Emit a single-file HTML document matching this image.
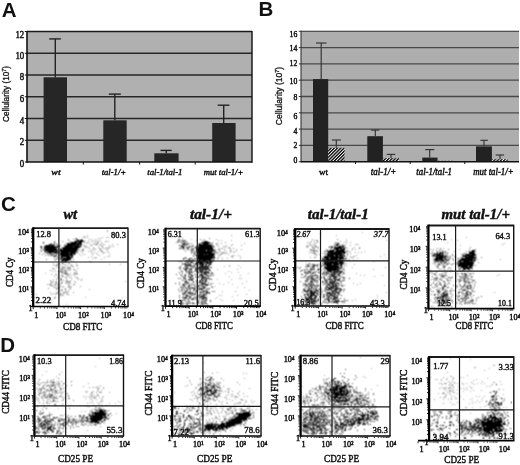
<!DOCTYPE html><html><head><meta charset="utf-8"><style>html,body{margin:0;padding:0;background:#fff;overflow:hidden}svg{display:block;will-change:transform}text{fill:#111}.s{stroke:#111;stroke-width:.45px}.b{stroke:#111;stroke-width:.3px}</style></head><body><svg width="520" height="465" viewBox="0 0 520 465"><defs><filter id="gb" x="0" y="0" width="100%" height="100%" color-interpolation-filters="sRGB"><feConvolveMatrix order="3" kernelMatrix="1 2 1 2 4 2 1 2 1" divisor="16" edgeMode="duplicate"/></filter></defs><rect width="520" height="465" fill="#fff"/><text x="1.7" y="16.8" font-family='"Liberation Sans", sans-serif' font-size="20.5" font-weight="bold">A</text>
<text x="258.6" y="16.2" font-family='"Liberation Sans", sans-serif' font-size="20.5" font-weight="bold">B</text>
<text x="1.0" y="211.2" font-family='"Liberation Sans", sans-serif' font-size="20.5" font-weight="bold">C</text>
<text x="0.2" y="352.4" font-family='"Liberation Sans", sans-serif' font-size="20.5" font-weight="bold">D</text>
<defs><pattern id="hatch" width="2.3" height="2.3" patternUnits="userSpaceOnUse" patternTransform="rotate(45)"><rect width="2.3" height="2.3" fill="#fff"/><rect width="1.35" height="2.3" fill="#000"/></pattern><filter id="bl" x="-5%" y="-5%" width="110%" height="110%"><feGaussianBlur stdDeviation="0.45"/></filter><filter id="bl2" x="-20%" y="-20%" width="140%" height="140%"><feGaussianBlur stdDeviation="1.5"/></filter></defs>
<rect x="27" y="31.5" width="225" height="130.5" fill="#b0b0b0"/>
<line x1="27" y1="140.25" x2="252" y2="140.25" stroke="#262626" stroke-width="1.5"/>
<line x1="27" y1="118.50" x2="252" y2="118.50" stroke="#262626" stroke-width="1.5"/>
<line x1="27" y1="96.75" x2="252" y2="96.75" stroke="#262626" stroke-width="1.5"/>
<line x1="27" y1="75.00" x2="252" y2="75.00" stroke="#262626" stroke-width="1.5"/>
<line x1="27" y1="53.25" x2="252" y2="53.25" stroke="#262626" stroke-width="1.5"/>
<rect x="43.6" y="77.3" width="23.40" height="84.70" fill="#262626"/>
<rect x="103.3" y="120.3" width="23.40" height="41.70" fill="#262626"/>
<rect x="154.3" y="153.3" width="24.30" height="8.70" fill="#262626"/>
<rect x="212.2" y="123" width="23.40" height="39.00" fill="#262626"/>
<line x1="55.3" y1="38.9" x2="55.3" y2="77.3" stroke="#222" stroke-width="1.4"/>
<line x1="49.2" y1="38.9" x2="60.8" y2="38.9" stroke="#222" stroke-width="1.4"/>
<line x1="114.8" y1="94.1" x2="114.8" y2="120.3" stroke="#222" stroke-width="1.4"/>
<line x1="108.8" y1="94.1" x2="120.8" y2="94.1" stroke="#222" stroke-width="1.4"/>
<line x1="166.3" y1="150.4" x2="166.3" y2="153.3" stroke="#222" stroke-width="1.4"/>
<line x1="160.5" y1="150.4" x2="171.7" y2="150.4" stroke="#222" stroke-width="1.4"/>
<line x1="223.7" y1="105.2" x2="223.7" y2="123" stroke="#222" stroke-width="1.4"/>
<line x1="217.7" y1="105.2" x2="229.4" y2="105.2" stroke="#222" stroke-width="1.4"/>
<line x1="27" y1="31.5" x2="252" y2="31.5" stroke="#1a1a1a" stroke-width="1.6"/>
<line x1="27" y1="31.0" x2="27" y2="162.8" stroke="#111" stroke-width="1.6"/>
<line x1="27" y1="162" x2="252" y2="162" stroke="#111" stroke-width="1.6"/>
<path d="M24.8 162.00h2.2M24.8 140.25h2.2M24.8 118.50h2.2M24.8 96.75h2.2M24.8 75.00h2.2M24.8 53.25h2.2M24.8 31.50h2.2" stroke="#111" stroke-width="1"/>
<line x1="252" y1="31" x2="252" y2="162.8" stroke="#111" stroke-width="1.4"/>
<line x1="83.3" y1="162" x2="83.3" y2="164.5" stroke="#111" stroke-width="1"/>
<line x1="139.6" y1="162" x2="139.6" y2="164.5" stroke="#111" stroke-width="1"/>
<line x1="195.2" y1="162" x2="195.2" y2="164.5" stroke="#111" stroke-width="1"/>
<text transform="translate(24.2,37.8) scale(0.93,1)" font-family='"Liberation Serif", serif' font-size="9.5" text-anchor="end" class="s">12</text>
<text transform="translate(24.2,58.8) scale(0.93,1)" font-family='"Liberation Serif", serif' font-size="9.5" text-anchor="end" class="s">10</text>
<text transform="translate(24.2,80.3) scale(0.93,1)" font-family='"Liberation Serif", serif' font-size="9.5" text-anchor="end" class="s">8</text>
<text transform="translate(24.2,101.8) scale(0.93,1)" font-family='"Liberation Serif", serif' font-size="9.5" text-anchor="end" class="s">6</text>
<text transform="translate(24.2,123.8) scale(0.93,1)" font-family='"Liberation Serif", serif' font-size="9.5" text-anchor="end" class="s">4</text>
<text transform="translate(24.2,145.3) scale(0.93,1)" font-family='"Liberation Serif", serif' font-size="9.5" text-anchor="end" class="s">2</text>
<text transform="translate(24.2,166.8) scale(0.93,1)" font-family='"Liberation Serif", serif' font-size="9.5" text-anchor="end" class="s">0</text>
<text transform="translate(8.6,94) rotate(-90)" class="b" font-family='"Liberation Sans", sans-serif' font-size="8.6" text-anchor="middle" textLength="56" lengthAdjust="spacingAndGlyphs" fill="#111">Cellularity (10<tspan font-size="5.5" dy="-3">7</tspan><tspan dy="3">)</tspan></text>
<text x="56.0" y="174.8" font-family='"Liberation Serif", serif' font-size="9" font-style="italic" text-anchor="middle" textLength="9.3" lengthAdjust="spacingAndGlyphs" class="s">wt</text>
<text x="113.9" y="174.8" font-family='"Liberation Serif", serif' font-size="9" font-style="italic" text-anchor="middle" textLength="24.5" lengthAdjust="spacingAndGlyphs" class="s">tal-1/+</text>
<text x="164.9" y="174.8" font-family='"Liberation Serif", serif' font-size="9" font-style="italic" text-anchor="middle" textLength="35.1" lengthAdjust="spacingAndGlyphs" class="s">tal-1/tal-1</text>
<text x="223.5" y="174.8" font-family='"Liberation Serif", serif' font-size="9" font-style="italic" text-anchor="middle" textLength="39.7" lengthAdjust="spacingAndGlyphs" class="s">mut tal-1/+</text>
<rect x="301" y="31.3" width="218" height="130.39999999999998" fill="#aeaeae"/>
<line x1="301" y1="145.40" x2="519" y2="145.40" stroke="#484848" stroke-width="1.3"/>
<line x1="301" y1="129.10" x2="519" y2="129.10" stroke="#484848" stroke-width="1.3"/>
<line x1="301" y1="112.80" x2="519" y2="112.80" stroke="#484848" stroke-width="1.3"/>
<line x1="301" y1="96.50" x2="519" y2="96.50" stroke="#484848" stroke-width="1.3"/>
<line x1="301" y1="80.20" x2="519" y2="80.20" stroke="#484848" stroke-width="1.3"/>
<line x1="301" y1="63.90" x2="519" y2="63.90" stroke="#484848" stroke-width="1.3"/>
<line x1="301" y1="47.60" x2="519" y2="47.60" stroke="#484848" stroke-width="1.3"/>
<rect x="313" y="79.1" width="15.20" height="82.60" fill="#222"/>
<rect x="328.2" y="147.8" width="16.30" height="13.90" fill="url(#hatch)"/>
<rect x="367.3" y="136.2" width="15.60" height="25.50" fill="#222"/>
<rect x="382.9" y="158.2" width="16.10" height="3.50" fill="url(#hatch)"/>
<rect x="422.3" y="157.6" width="15.20" height="4.10" fill="#222"/>
<rect x="437.5" y="160.8" width="15.20" height="0.90" fill="url(#hatch)"/>
<rect x="476" y="146.4" width="15.90" height="15.30" fill="#222"/>
<rect x="491.9" y="159.3" width="15.80" height="2.40" fill="url(#hatch)"/>
<line x1="321.2" y1="43" x2="321.2" y2="79.1" stroke="#333" stroke-width="1.15"/>
<line x1="316" y1="43" x2="326.5" y2="43" stroke="#333" stroke-width="1.15"/>
<line x1="336.3" y1="140" x2="336.3" y2="147.8" stroke="#333" stroke-width="1.15"/>
<line x1="331.9" y1="140" x2="340.9" y2="140" stroke="#333" stroke-width="1.15"/>
<line x1="375.3" y1="130.1" x2="375.3" y2="136.2" stroke="#333" stroke-width="1.15"/>
<line x1="370.9" y1="130.1" x2="379.3" y2="130.1" stroke="#333" stroke-width="1.15"/>
<line x1="391" y1="154.4" x2="391" y2="158.2" stroke="#333" stroke-width="1.15"/>
<line x1="386.7" y1="154.4" x2="395.2" y2="154.4" stroke="#333" stroke-width="1.15"/>
<line x1="429.7" y1="149.6" x2="429.7" y2="157.6" stroke="#333" stroke-width="1.15"/>
<line x1="425.2" y1="149.6" x2="434.3" y2="149.6" stroke="#333" stroke-width="1.15"/>
<line x1="484" y1="140.3" x2="484" y2="146.4" stroke="#333" stroke-width="1.15"/>
<line x1="480.4" y1="140.3" x2="487.8" y2="140.3" stroke="#333" stroke-width="1.15"/>
<line x1="500" y1="155" x2="500" y2="159.3" stroke="#333" stroke-width="1.15"/>
<line x1="495.7" y1="155" x2="504.1" y2="155" stroke="#333" stroke-width="1.15"/>
<line x1="301" y1="31.3" x2="519" y2="31.3" stroke="#2a2a2a" stroke-width="1.1"/>
<line x1="301" y1="30.8" x2="301" y2="162.5" stroke="#333" stroke-width="1.1"/>
<line x1="301" y1="161.7" x2="519" y2="161.7" stroke="#111" stroke-width="1.5"/>
<path d="M298.8 161.70h2.2M298.8 145.40h2.2M298.8 129.10h2.2M298.8 112.80h2.2M298.8 96.50h2.2M298.8 80.20h2.2M298.8 63.90h2.2M298.8 47.60h2.2M298.8 31.30h2.2" stroke="#333" stroke-width="1"/>
<line x1="355.5" y1="161.7" x2="355.5" y2="164" stroke="#111" stroke-width="1"/>
<line x1="410.2" y1="161.7" x2="410.2" y2="164" stroke="#111" stroke-width="1"/>
<line x1="464.8" y1="161.7" x2="464.8" y2="164" stroke="#111" stroke-width="1"/>
<text transform="translate(297.3,36.8) scale(0.92,1)" font-family='"Liberation Serif", serif' font-size="8.4" text-anchor="end" class="s">16</text>
<text transform="translate(297.3,50.6) scale(0.92,1)" font-family='"Liberation Serif", serif' font-size="8.4" text-anchor="end" class="s">14</text>
<text transform="translate(297.3,66.1) scale(0.92,1)" font-family='"Liberation Serif", serif' font-size="8.4" text-anchor="end" class="s">12</text>
<text transform="translate(297.3,84.2) scale(0.92,1)" font-family='"Liberation Serif", serif' font-size="8.4" text-anchor="end" class="s">10</text>
<text transform="translate(297.3,100.4) scale(0.92,1)" font-family='"Liberation Serif", serif' font-size="8.4" text-anchor="end" class="s">8</text>
<text transform="translate(297.3,118.5) scale(0.92,1)" font-family='"Liberation Serif", serif' font-size="8.4" text-anchor="end" class="s">6</text>
<text transform="translate(297.3,133.5) scale(0.92,1)" font-family='"Liberation Serif", serif' font-size="8.4" text-anchor="end" class="s">4</text>
<text transform="translate(297.3,148.1) scale(0.92,1)" font-family='"Liberation Serif", serif' font-size="8.4" text-anchor="end" class="s">2</text>
<text transform="translate(297.3,162.8) scale(0.92,1)" font-family='"Liberation Serif", serif' font-size="8.4" text-anchor="end" class="s">0</text>
<text transform="translate(282.2,96) rotate(-90)" class="b" font-family='"Liberation Sans", sans-serif' font-size="8.3" text-anchor="middle" textLength="58.5" lengthAdjust="spacingAndGlyphs" fill="#111">Cellularity (10<tspan font-size="5.3" dy="-3">7</tspan><tspan dy="3">)</tspan></text>
<text x="323.5" y="175" font-family='"Liberation Serif", serif' font-size="9" text-anchor="middle" textLength="9" lengthAdjust="spacingAndGlyphs" class="s">wt</text>
<text x="383.55" y="175" font-family='"Liberation Serif", serif' font-size="9.3" font-style="italic" text-anchor="middle" textLength="25.4" lengthAdjust="spacingAndGlyphs" class="s">tal-1/+</text>
<text x="434.15" y="175" font-family='"Liberation Serif", serif' font-size="9.3" font-style="italic" text-anchor="middle" textLength="35.6" lengthAdjust="spacingAndGlyphs" class="s">tal-1/tal-1</text>
<text x="493.45" y="175" font-family='"Liberation Serif", serif' font-size="9.3" font-style="italic" text-anchor="middle" textLength="40.4" lengthAdjust="spacingAndGlyphs" class="s">mut tal-1/+</text>
<rect x="33.2" y="228.2" width="94.80" height="78.30" fill="#fff"/>
<rect x="165.5" y="228.7" width="94.70" height="77.50" fill="#fff"/>
<rect x="295.2" y="229" width="93.80" height="77.00" fill="#fff"/>
<rect x="428.4" y="225.5" width="85.30" height="83.20" fill="#fff"/>
<rect x="34.4" y="355.1" width="89.10" height="80.90" fill="#fff"/>
<rect x="172.1" y="355.6" width="88.90" height="80.40" fill="#fff"/>
<rect x="300.6" y="355.6" width="89.40" height="80.40" fill="#fff"/>
<rect x="429.1" y="357" width="84.70" height="83.70" fill="#fff"/>
<g filter="url(#gb)">
<path d="M85 230.5h1m21 1h1m-62 4h1m0 3h1m20 2h1m9 1h1m16 3h1m0 0h1m-51 1h1m33 1h1m-41 4h1m12 4h1m27 1h1m9 6h1m17 3h1m10 0h1m-76 9h1m35 7h1m43 1h1m-37 8h1m-54 5h1m22 3h1m25 0h1m36 0h1m-57 7h1" stroke="#000" stroke-opacity="0.35" stroke-width="1" fill="none"/>
<path d="M87 235.5h1m-3 2h1m1 0h1m14 0h1m3 0h1m1 0h1m-11 1h1m1 0h1m-24 1h1m11 0h1m1 0h1m3 0h1m-13 1h1m9 0h1m3 0h1m2 0h1m-22 1h1m8 0h1m2 0h1m3 0h1m2 0h1m6 0h1m0 0h1m1 0h1m-22 1h1m5 0h1m1 0h1m1 0h1m0 0h1m2 0h1m-16 1h1m2 0h1m7 0h1m4 0h1m-11 1h1m1 0h1m1 0h1m0 0h1m2 0h1m3 0h1m7 0h1m4 0h1m-35 1h1m0 0h1m5 0h1m0 0h1m7 0h1m1 0h1m0 0h1m6 0h1m-25 1h1m0 0h1m15 0h1m8 0h1m1 0h1m-30 1h1m1 0h1m1 0h1m4 0h1m4 0h1m3 0h1m3 0h1m1 0h1m0 0h1m-35 1h1m13 0h1m4 0h1m4 0h1m0 0h1m2 0h1m1 0h1m2 0h1m-27 1h1m0 0h1m8 0h1m0 0h1m1 0h1m4 0h1m5 0h1m0 0h1m-26 1h1m0 0h1m6 0h1m9 0h1m0 0h1m-22 1h1m1 0h1m5 0h1m2 0h1m2 0h1m3 0h1m2 0h1m0 0h1m4 0h1m-17 1h1m10 0h1m1 0h1m3 0h1m-27 1h1m10 0h1m2 0h1m6 0h1m-25 1h1m4 0h1m7 0h1m4 0h1m11 0h1m-11 1h1m-9 1h1m15 0h1m1 0h1m-22 1h1m5 0h1m1 0h1m7 0h1m-13 1h1m2 0h1m5 1h1m-13 2h1" stroke="#000" stroke-opacity="0.4" stroke-width="1" fill="none"/>
<path d="M60 259.5h1m8 0h1m-7 1h1m6 0h1m-12 2h1m8 0h1m-16 1h1m3 0h1m10 0h1m0 0h1m6 0h1m-20 1h1m1 0h1m5 0h1m-13 1h1m1 0h1m0 0h1m0 0h1m2 0h1m3 0h1m2 0h1m3 0h1m4 0h1m0 0h1m-20 1h1m3 0h1m7 0h1m1 0h1m0 0h1m-18 1h1m2 0h1m2 0h1m0 0h1m0 0h1m0 0h1m1 0h1m0 0h1m0 0h1m-18 1h1m0 0h1m6 0h1m0 0h1m1 0h1m3 0h1m1 0h1m0 0h1m6 0h1m-24 1h1m6 0h1m0 0h1m0 0h1m1 0h1m2 0h1m0 0h1m3 0h1m0 0h1m-25 1h1m9 0h1m0 0h1m2 0h1m0 0h1m1 0h1m2 0h1m4 0h1m-24 1h1m2 0h1m2 0h1m0 0h1m0 0h1m0 0h1m0 0h1m0 0h1m1 0h1m0 0h1m9 0h1m-19 1h1m2 0h1m0 0h1m1 0h1m0 0h1m0 0h1m7 0h1m-14 1h1m1 0h1m0 0h1m0 0h1m0 0h1m0 0h1m2 0h1m3 0h1m0 0h1m0 0h1m0 0h1m-27 1h1m3 0h1m0 0h1m1 0h1m6 0h1m0 0h1m0 0h1m0 0h1m4 0h1m2 0h1m-16 1h1m0 0h1m5 0h1m1 0h1m3 0h1m-21 1h1m2 0h1m1 0h1m2 0h1m0 0h1m3 0h1m-10 1h1m6 0h1m0 0h1m2 0h1m1 0h1m3 0h1m1 0h1m-21 1h1m2 0h1m0 0h1m15 0h1m-25 1h1m2 0h1m3 0h1m0 0h1m4 0h1m4 0h1m6 0h1m2 0h1m-32 1h1m9 0h1m0 0h1m1 0h1m2 0h1m-16 1h1m1 0h1m2 0h1m9 0h1m0 0h1m0 0h1m0 0h1m0 0h1m3 0h1m-25 1h1m1 0h1m2 0h1m0 0h1m2 0h1m1 0h1m0 0h1m2 0h1m1 0h1m1 0h1m5 0h1m-25 1h1m4 0h1m1 0h1m2 0h1m4 0h1m1 0h1m1 0h1m-24 1h1m1 0h1m0 0h1m3 0h1m0 0h1m1 0h1m0 0h1m1 0h1m7 0h1m4 0h1m0 0h1m-25 1h1m0 0h1m0 0h1m2 0h1m3 0h1m9 0h1m-17 1h1m3 0h1m0 0h1m1 0h1m1 0h1m5 0h1m0 0h1m1 0h1m8 0h1m-27 1h1m0 0h1m2 0h1m0 0h1m3 0h1m4 0h1m1 0h1m-23 1h1m7 0h1m0 0h1m0 0h1m0 0h1m5 0h1m4 0h1m-15 1h1m4 0h1m3 0h1m3 0h1m-12 1h1m0 0h1m1 0h1m0 0h1m2 0h1m-8 1h1m7 0h1m1 0h1m-19 1h1m5 0h1m1 0h1m1 0h1m2 0h1m0 0h1m0 0h1m1 0h1m5 0h1m-21 1h1m2 0h1m0 0h1m2 0h1m2 0h1m2 0h1m-16 1h1m3 0h1m3 0h1m0 0h1m1 0h1m4 0h1m0 0h1m-9 1h1m0 0h1m1 0h1m-10 2h1m0 0h1m-2 1h1m-4 2h1m-1 3h1" stroke="#000" stroke-opacity="0.45" stroke-width="1" fill="none"/>
<path d="M84 236.5h1m-2 1h1m-9 1h1m0 0h1m-9 1h1m4 0h1m4 0h1m-4 1h1m1 0h1m0 0h1m0 0h1m-18 1h1m7 0h1m3 0h1m1 0h1m3 0h1m2 0h1m0 0h1m-16 1h1m1 0h1m0 0h1m4 0h1m0 0h1m2 0h1m2 0h1m-20 1h1m3 0h1m2 0h1m1 0h1m1 0h1m0 0h1m0 0h1m2 0h1m-11 1h1m0 0h1m0 0h1m1 0h1m0 0h1m0 0h1m0 0h1m0 0h1m-20 1h1m4 0h1m0 0h1m3 0h1m0 0h1m0 0h1m1 0h1m0 0h1m-19 1h1m9 0h1m1 0h1m1 0h1m1 0h1m0 0h1m1 0h1m1 0h1m0 0h1m1 0h1m-24 1h1m4 0h1m1 0h1m0 0h1m0 0h1m0 0h1m2 0h1m0 0h1m0 0h1m0 0h1m1 0h1m1 0h1m-24 1h1m2 0h1m1 0h1m4 0h1m0 0h1m2 0h1m0 0h1m1 0h1m0 0h1m0 0h1m1 0h1m0 0h1m-19 1h1m2 0h1m1 0h1m1 0h1m0 0h1m0 0h1m0 0h1m0 0h1m1 0h1m0 0h1m0 0h1m0 0h1m3 0h1m2 0h1m-31 1h1m2 0h1m0 0h1m2 0h1m0 0h1m0 0h1m2 0h1m0 0h1m0 0h1m2 0h1m0 0h1m0 0h1m0 0h1m0 0h1m4 0h1m-23 1h1m0 0h1m3 0h1m1 0h1m0 0h1m0 0h1m0 0h1m1 0h1m0 0h1m1 0h1m2 0h1m1 0h1m-21 1h1m0 0h1m2 0h1m3 0h1m0 0h1m0 0h1m2 0h1m0 0h1m1 0h1m0 0h1m0 0h1m0 0h1m-21 1h1m0 0h1m0 0h1m2 0h1m0 0h1m0 0h1m0 0h1m0 0h1m0 0h1m0 0h1m0 0h1m1 0h1m0 0h1m0 0h1m2 0h1m-19 1h1m0 0h1m0 0h1m0 0h1m0 0h1m0 0h1m0 0h1m2 0h1m0 0h1m0 0h1m0 0h1m0 0h1m1 0h1m-17 1h1m0 0h1m2 0h1m0 0h1m2 0h1m1 0h1m0 0h1m0 0h1m0 0h1m0 0h1m3 0h1m-20 1h1m0 0h1m0 0h1m3 0h1m0 0h1m2 0h1m0 0h1m0 0h1m0 0h1m0 0h1m0 0h1m2 0h1m-16 1h1m0 0h1m0 0h1m2 0h1m1 0h1m4 0h1m1 0h1m-16 1h1m1 0h1m3 0h1m1 0h1m0 0h1m0 0h1m0 0h1m0 0h1m0 0h1m-16 1h1m1 0h1m1 0h1m3 0h1m2 0h1m0 0h1m3 0h1m2 0h1m-19 1h1m7 0h1m0 0h1m1 0h1m-6 1h1m1 0h1m0 0h1m6 0h1m1 0h1m-13 1h1m3 0h1m-7 1h1m3 0h1m7 1h1" stroke="#000" stroke-opacity="0.5" stroke-width="1" fill="none"/>
<path d="M54 241.5h1m-12 2h1m7 0h1m4 0h1m-7 1h1m2 0h1m2 0h1m-12 1h1m4 0h1m2 0h1m3 0h1m0 0h1m0 0h1m-20 1h1m5 0h1m1 0h1m0 0h1m0 0h1m1 0h1m1 0h1m0 0h1m0 0h1m2 0h1m-15 1h1m1 0h1m0 0h1m0 0h1m0 0h1m0 0h1m0 0h1m0 0h1m1 0h1m5 0h1m-15 1h1m1 0h1m0 0h1m0 0h1m1 0h1m0 0h1m0 0h1m0 0h1m-14 1h1m1 0h1m1 0h1m0 0h1m0 0h1m0 0h1m1 0h1m0 0h1m0 0h1m0 0h1m0 0h1m0 0h1m1 0h1m-19 1h1m2 0h1m0 0h1m1 0h1m0 0h1m0 0h1m0 0h1m0 0h1m0 0h1m0 0h1m0 0h1m0 0h1m0 0h1m0 0h1m0 0h1m0 0h1m3 0h1m-23 1h1m2 0h1m0 0h1m0 0h1m0 0h1m2 0h1m0 0h1m0 0h1m1 0h1m0 0h1m0 0h1m0 0h1m-13 1h1m0 0h1m0 0h1m0 0h1m0 0h1m0 0h1m1 0h1m0 0h1m0 0h1m0 0h1m0 0h1m0 0h1m0 0h1m-20 1h1m4 0h1m2 0h1m1 0h1m0 0h1m0 0h1m0 0h1m1 0h1m0 0h1m-14 1h1m4 0h1m1 0h1m1 0h1m0 0h1m0 0h1m6 0h1m-16 1h1m2 0h1m1 0h1m2 0h1m0 0h1m0 0h1m-3 1h1m4 0h1m-5 1h1m-9 2h1" stroke="#000" stroke-opacity="0.55" stroke-width="1" fill="none"/>
<path d="M76 239.5h1m4 0h1m-5 1h1m0 0h1m1 0h1m0 0h1m0 0h1m-8 1h1m0 0h1m0 0h1m0 0h1m0 0h1m0 0h1m0 0h1m0 0h1m-40 1h1m10 0h1m16 0h1m0 0h1m0 0h1m0 0h1m0 0h1m0 0h1m2 0h1m0 0h1m0 0h1m-15 1h1m0 0h1m1 0h1m0 0h1m0 0h1m0 0h1m0 0h1m0 0h1m0 0h1m0 0h1m0 0h1m0 0h1m0 0h1m-32 1h1m0 0h1m0 0h1m1 0h1m0 0h1m12 0h1m0 0h1m0 0h1m0 0h1m0 0h1m0 0h1m0 0h1m0 0h1m0 0h1m1 0h1m0 0h1m0 0h1m0 0h1m0 0h1m-36 1h1m0 0h1m0 0h1m0 0h1m1 0h1m0 0h1m0 0h1m3 0h1m6 0h1m1 0h1m0 0h1m0 0h1m0 0h1m0 0h1m0 0h1m0 0h1m0 0h1m0 0h1m0 0h1m0 0h1m0 0h1m0 0h1m1 0h1m-40 1h1m2 0h1m0 0h1m0 0h1m0 0h1m0 0h1m0 0h1m0 0h1m0 0h1m0 0h1m0 0h1m0 0h1m0 0h1m2 0h1m6 0h1m0 0h1m0 0h1m0 0h1m0 0h1m0 0h1m0 0h1m0 0h1m1 0h1m0 0h1m0 0h1m0 0h1m0 0h1m0 0h1m0 0h1m-40 1h1m2 0h1m1 0h1m0 0h1m0 0h1m0 0h1m0 0h1m0 0h1m0 0h1m0 0h1m0 0h1m1 0h1m0 0h1m5 0h1m0 0h1m0 0h1m0 0h1m0 0h1m0 0h1m0 0h1m0 0h1m0 0h1m0 0h1m0 0h1m0 0h1m0 0h1m0 0h1m0 0h1m0 0h1m0 0h1m-39 1h1m2 0h1m0 0h1m0 0h1m0 0h1m0 0h1m0 0h1m0 0h1m0 0h1m0 0h1m0 0h1m0 0h1m0 0h1m6 0h1m0 0h1m0 0h1m0 0h1m0 0h1m0 0h1m0 0h1m0 0h1m0 0h1m0 0h1m0 0h1m0 0h1m0 0h1m0 0h1m0 0h1m0 0h1m-35 1h1m1 0h1m0 0h1m0 0h1m0 0h1m0 0h1m0 0h1m0 0h1m0 0h1m0 0h1m0 0h1m0 0h1m0 0h1m3 0h1m0 0h1m1 0h1m0 0h1m0 0h1m0 0h1m0 0h1m0 0h1m0 0h1m0 0h1m0 0h1m0 0h1m0 0h1m0 0h1m0 0h1m0 0h1m0 0h1m-34 1h1m0 0h1m0 0h1m0 0h1m0 0h1m0 0h1m0 0h1m0 0h1m0 0h1m0 0h1m0 0h1m0 0h1m1 0h1m2 0h1m0 0h1m0 0h1m0 0h1m0 0h1m0 0h1m0 0h1m0 0h1m0 0h1m0 0h1m0 0h1m0 0h1m0 0h1m0 0h1m0 0h1m0 0h1m0 0h1m-29 1h1m0 0h1m0 0h1m0 0h1m0 0h1m0 0h1m1 0h1m4 0h1m0 0h1m0 0h1m0 0h1m0 0h1m0 0h1m0 0h1m0 0h1m0 0h1m0 0h1m0 0h1m0 0h1m0 0h1m0 0h1m0 0h1m0 0h1m0 0h1m-30 1h1m1 0h1m0 0h1m0 0h1m1 0h1m0 0h1m0 0h1m0 0h1m0 0h1m0 0h1m0 0h1m1 0h1m0 0h1m0 0h1m0 0h1m0 0h1m0 0h1m0 0h1m0 0h1m1 0h1m0 0h1m0 0h1m0 0h1m0 0h1m2 0h1m-29 1h1m10 0h1m0 0h1m0 0h1m0 0h1m0 0h1m0 0h1m0 0h1m0 0h1m0 0h1m0 0h1m0 0h1m0 0h1m0 0h1m0 0h1m0 0h1m0 0h1m-16 1h1m0 0h1m0 0h1m0 0h1m0 0h1m0 0h1m0 0h1m0 0h1m0 0h1m1 0h1m0 0h1m0 0h1m1 0h1m-24 1h1m9 0h1m0 0h1m0 0h1m0 0h1m0 0h1m0 0h1m0 0h1m0 0h1m0 0h1m0 0h1m0 0h1m0 0h1m-12 1h1m0 0h1m0 0h1m0 0h1m0 0h1m0 0h1m0 0h1m0 0h1m0 0h1m1 0h1m-11 1h1m0 0h1m1 0h1m1 0h1m0 0h1m0 0h1m0 0h1m0 0h1m0 0h1m0 0h1m-13 1h1m0 0h1m1 0h1m0 0h1m0 0h1m0 0h1m0 0h1m0 0h1m0 0h1m0 0h1m-11 1h1m1 0h1m0 0h1m0 0h1m0 0h1m0 0h1m0 0h1m0 0h1m0 0h1m0 0h1m-10 1h1m0 0h1m0 0h1m1 0h1m0 0h1m0 0h1m0 0h1m-7 1h1m1 0h1m0 0h1m0 0h1m-5 2h1" stroke="#000" stroke-opacity="1.0" stroke-width="1" fill="none"/>
<path d="M178 237.5h1m12 2h1m29 1h1m-35 3h1m56 0h1m-47 1h1m31 8h1m-29 4h1m18 1h1m7 8h1m8 0h1m-15 1h1m4 0h1m-52 1h1m61 0h1m-24 2h1m19 0h1m-41 1h1m7 0h1m22 1h1m2 1h1m6 0h1m-26 1h1m11 0h1m22 0h1m-39 2h1m29 0h1m-12 1h1m9 2h1m1 0h1m-25 1h1m13 0h1m14 2h1m-54 1h1m34 0h1m-16 1h1m5 0h1m22 0h1m-20 1h1m8 0h1m-19 2h1m22 1h1m6 0h1m-50 3h1m53 0h1m-28 1h1m12 0h1m10 3h1m-28 1h1m1 0h1m15 0h1m-6 1h1m-54 1h1m37 0h1m-3 1h1m4 1h1m1 1h1m10 0h1" stroke="#000" stroke-opacity="0.35" stroke-width="1" fill="none"/>
<path d="M231 235.5h1m-16 4h1m1 1h1m12 0h1m-7 2h1m-8 1h1m2 0h1m10 1h1m-20 1h1m3 0h1m8 0h1m4 0h1m9 0h1m-35 1h1m10 0h1m4 0h1m1 0h1m-2 1h1m2 0h1m1 0h1m-22 1h1m10 0h1m1 0h1m0 0h1m6 0h1m0 0h1m2 0h1m-24 1h1m8 0h1m4 0h1m11 0h1m4 0h1m-23 1h1m5 0h1m4 0h1m0 0h1m-16 1h1m3 0h1m9 0h1m3 0h1m1 0h1m-23 1h1m2 0h1m1 0h1m2 0h1m0 0h1m0 0h1m1 0h1m6 0h1m-25 1h1m3 0h1m2 0h1m0 0h1m3 0h1m0 0h1m1 0h1m1 0h1m-7 1h1m0 0h1m6 0h1m-11 1h1m0 0h1m12 0h1m1 0h1m3 0h1m-8 1h1m0 0h1m7 0h1m-23 1h1m13 0h1m-20 1h1m3 0h1m9 0h1m12 0h1m-31 1h1m11 0h1" stroke="#000" stroke-opacity="0.4" stroke-width="1" fill="none"/>
<path d="M182 238.5h1m26 0h1m-32 1h1m0 0h1m20 0h1m3 0h1m-27 1h1m0 0h1m1 0h1m0 0h1m0 0h1m0 0h1m0 0h1m10 0h1m5 0h1m-26 1h1m0 0h1m1 0h1m1 0h1m0 0h1m0 0h1m1 0h1m19 0h1m0 0h1m-32 1h1m1 0h1m1 0h1m1 0h1m1 0h1m1 0h1m14 0h1m1 0h1m2 0h1m0 0h1m1 0h1m2 0h1m-29 1h1m0 0h1m1 0h1m0 0h1m2 0h1m14 0h1m0 0h1m0 0h1m1 0h1m1 0h1m3 0h1m-35 1h1m0 0h1m0 0h1m2 0h1m1 0h1m8 0h1m2 0h1m1 0h1m4 0h1m2 0h1m4 0h1m-36 1h1m1 0h1m0 0h1m0 0h1m0 0h1m5 0h1m0 0h1m4 0h1m2 0h1m0 0h1m0 0h1m1 0h1m2 0h1m0 0h1m0 0h1m0 0h1m0 0h1m-25 1h1m0 0h1m0 0h1m0 0h1m0 0h1m5 0h1m0 0h1m1 0h1m4 0h1m1 0h1m0 0h1m0 0h1m0 0h1m1 0h1m-34 1h1m1 0h1m0 0h1m0 0h1m2 0h1m0 0h1m0 0h1m4 0h1m0 0h1m4 0h1m0 0h1m0 0h1m2 0h1m0 0h1m0 0h1m0 0h1m0 0h1m1 0h1m2 0h1m-36 1h1m7 0h1m0 0h1m2 0h1m0 0h1m0 0h1m2 0h1m0 0h1m4 0h1m0 0h1m0 0h1m1 0h1m0 0h1m0 0h1m2 0h1m0 0h1m-30 1h1m1 0h1m1 0h1m0 0h1m2 0h1m0 0h1m0 0h1m2 0h1m0 0h1m0 0h1m2 0h1m1 0h1m0 0h1m2 0h1m1 0h1m0 0h1m1 0h1m0 0h1m1 0h1m2 0h1m-29 1h1m0 0h1m1 0h1m2 0h1m2 0h1m1 0h1m0 0h1m1 0h1m3 0h1m0 0h1m0 0h1m-26 1h1m5 0h1m0 0h1m0 0h1m1 0h1m0 0h1m1 0h1m0 0h1m0 0h1m0 0h1m1 0h1m2 0h1m1 0h1m0 0h1m4 0h1m0 0h1m-25 1h1m2 0h1m1 0h1m0 0h1m3 0h1m0 0h1m0 0h1m1 0h1m0 0h1m0 0h1m1 0h1m3 0h1m1 0h1m-25 1h1m1 0h1m0 0h1m0 0h1m1 0h1m3 0h1m1 0h1m3 0h1m1 0h1m0 0h1m3 0h1m-21 1h1m1 0h1m2 0h1m1 0h1m0 0h1m0 0h1m0 0h1m0 0h1m0 0h1m0 0h1m0 0h1m0 0h1m0 0h1m0 0h1m0 0h1m0 0h1m0 0h1m-22 1h1m1 0h1m0 0h1m1 0h1m0 0h1m0 0h1m0 0h1m0 0h1m0 0h1m1 0h1m3 0h1m1 0h1m0 0h1m1 0h1m-22 1h1m3 0h1m1 0h1m1 0h1m1 0h1m0 0h1m0 0h1m0 0h1m0 0h1m0 0h1m0 0h1m0 0h1m0 0h1m0 0h1m0 0h1m0 0h1m-18 1h1m0 0h1m1 0h1m4 0h1m0 0h1m1 0h1m0 0h1m-16 1h1m0 0h1m3 0h1m0 0h1m0 0h1m1 0h1m1 0h1m0 0h1m1 0h1m1 0h1m1 0h1m1 0h1m2 0h1m-18 1h1m2 0h1m0 0h1m0 0h1m0 0h1m0 0h1m0 0h1m0 0h1m1 0h1m-11 1h1m0 0h1m0 0h1m2 0h1m0 0h1m0 0h1m5 0h1m-16 1h1m1 0h1m0 0h1m1 0h1m0 0h1m0 0h1m0 0h1m3 0h1m-13 1h1m1 0h1m3 0h1m1 0h1m0 0h1m0 0h1m1 0h1m-19 1h1m13 0h1m-10 1h1m3 0h1m0 0h1m7 0h1m-12 1h1m2 0h1m4 0h1m-3 3h1" stroke="#000" stroke-opacity="0.55" stroke-width="1" fill="none"/>
<path d="M185 257.5h1m-3 1h1m0 0h1m1 0h1m2 0h1m0 0h1m0 0h1m-9 1h1m4 0h1m0 0h1m2 0h1m1 0h1m1 0h1m-11 1h1m1 0h1m0 0h1m0 0h1m1 0h1m0 0h1m-15 1h1m1 0h1m3 0h1m0 0h1m1 0h1m1 0h1m0 0h1m0 0h1m-7 1h1m0 0h1m0 0h1m1 0h1m0 0h1m0 0h1m3 0h1m0 0h1m3 0h1m0 0h1m1 0h1m5 0h1m-29 1h1m1 0h1m0 0h1m2 0h1m1 0h1m2 0h1m1 0h1m0 0h1m0 0h1m3 0h1m0 0h1m0 0h1m3 0h1m0 0h1m0 0h1m0 0h1m-29 1h1m1 0h1m0 0h1m0 0h1m0 0h1m0 0h1m0 0h1m0 0h1m4 0h1m1 0h1m2 0h1m4 0h1m0 0h1m2 0h1m0 0h1m-26 1h1m0 0h1m0 0h1m0 0h1m0 0h1m0 0h1m0 0h1m1 0h1m0 0h1m5 0h1m0 0h1m0 0h1m0 0h1m1 0h1m0 0h1m1 0h1m-29 1h1m4 0h1m0 0h1m1 0h1m1 0h1m0 0h1m1 0h1m1 0h1m5 0h1m0 0h1m2 0h1m2 0h1m-29 1h1m3 0h1m1 0h1m0 0h1m4 0h1m0 0h1m1 0h1m2 0h1m0 0h1m0 0h1m0 0h1m0 0h1m0 0h1m4 0h1m-30 1h1m3 0h1m1 0h1m0 0h1m0 0h1m0 0h1m1 0h1m0 0h1m4 0h1m0 0h1m0 0h1m0 0h1m0 0h1m0 0h1m0 0h1m2 0h1m0 0h1m0 0h1m-28 1h1m3 0h1m0 0h1m0 0h1m2 0h1m0 0h1m0 0h1m3 0h1m0 0h1m1 0h1m0 0h1m0 0h1m0 0h1m0 0h1m1 0h1m0 0h1m1 0h1m0 0h1m-24 1h1m0 0h1m2 0h1m1 0h1m3 0h1m0 0h1m3 0h1m0 0h1m0 0h1m0 0h1m1 0h1m3 0h1m-29 1h1m0 0h1m3 0h1m1 0h1m0 0h1m1 0h1m2 0h1m1 0h1m3 0h1m0 0h1m2 0h1m0 0h1m1 0h1m-29 1h1m6 0h1m1 0h1m0 0h1m0 0h1m0 0h1m0 0h1m7 0h1m0 0h1m0 0h1m2 0h1m0 0h1m1 0h1m2 0h1m-30 1h1m6 0h1m8 0h1m2 0h1m1 0h1m0 0h1m0 0h1m0 0h1m1 0h1m0 0h1m-34 1h1m3 0h1m4 0h1m2 0h1m0 0h1m0 0h1m0 0h1m2 0h1m1 0h1m3 0h1m0 0h1m0 0h1m1 0h1m0 0h1m0 0h1m-26 1h1m2 0h1m0 0h1m5 0h1m0 0h1m6 0h1m0 0h1m0 0h1m0 0h1m0 0h1m2 0h1m0 0h1m3 0h1m1 0h1m-32 1h1m2 0h1m2 0h1m0 0h1m1 0h1m0 0h1m2 0h1m2 0h1m2 0h1m0 0h1m0 0h1m1 0h1m2 0h1m-26 1h1m0 0h1m4 0h1m0 0h1m0 0h1m4 0h1m1 0h1m0 0h1m1 0h1m0 0h1m0 0h1m0 0h1m1 0h1m1 0h1m-31 1h1m1 0h1m3 0h1m0 0h1m4 0h1m1 0h1m0 0h1m7 0h1m0 0h1m0 0h1m0 0h1m1 0h1m0 0h1m0 0h1m1 0h1m-28 1h1m1 0h1m2 0h1m0 0h1m0 0h1m0 0h1m0 0h1m8 0h1m0 0h1m1 0h1m0 0h1m0 0h1m2 0h1m1 0h1m-30 1h1m3 0h1m2 0h1m1 0h1m0 0h1m3 0h1m2 0h1m0 0h1m0 0h1m0 0h1m0 0h1m1 0h1m0 0h1m-23 1h1m0 0h1m0 0h1m6 0h1m2 0h1m2 0h1m0 0h1m1 0h1m1 0h1m0 0h1m0 0h1m-28 1h1m5 0h1m0 0h1m0 0h1m0 0h1m4 0h1m3 0h1m1 0h1m0 0h1m0 0h1m0 0h1m0 0h1m1 0h1m2 0h1m-34 1h1m8 0h1m1 0h1m1 0h1m2 0h1m4 0h1m2 0h1m1 0h1m0 0h1m0 0h1m0 0h1m0 0h1m5 0h1m-33 1h1m2 0h1m0 0h1m0 0h1m1 0h1m2 0h1m2 0h1m1 0h1m6 0h1m0 0h1m0 0h1m0 0h1m0 0h1m0 0h1m0 0h1m0 0h1m1 0h1m-28 1h1m0 0h1m3 0h1m0 0h1m1 0h1m2 0h1m2 0h1m0 0h1m0 0h1m0 0h1m1 0h1m2 0h1m0 0h1m0 0h1m-27 1h1m1 0h1m1 0h1m2 0h1m0 0h1m5 0h1m1 0h1m0 0h1m2 0h1m0 0h1m0 0h1m0 0h1m6 0h1m-32 1h1m1 0h1m1 0h1m2 0h1m1 0h1m1 0h1m0 0h1m1 0h1m2 0h1m1 0h1m3 0h1m0 0h1m0 0h1m6 0h1m-31 1h1m2 0h1m0 0h1m1 0h1m0 0h1m0 0h1m1 0h1m0 0h1m0 0h1m0 0h1m1 0h1m1 0h1m0 0h1m0 0h1m0 0h1m0 0h1m0 0h1m2 0h1m1 0h1m-32 1h1m2 0h1m1 0h1m3 0h1m2 0h1m3 0h1m3 0h1m0 0h1m0 0h1m0 0h1m0 0h1m3 0h1m1 0h1m-28 1h1m2 0h1m1 0h1m0 0h1m1 0h1m3 0h1m0 0h1m1 0h1m0 0h1m4 0h1m1 0h1m1 0h1m-28 1h1m2 0h1m2 0h1m0 0h1m3 0h1m5 0h1m0 0h1m2 0h1m1 0h1m0 0h1m0 0h1m0 0h1m0 0h1m0 0h1m4 0h1m1 0h1m-31 1h1m0 0h1m1 0h1m0 0h1m0 0h1m0 0h1m1 0h1m2 0h1m3 0h1m0 0h1m0 0h1m1 0h1m2 0h1m0 0h1m0 0h1m0 0h1m-28 1h1m0 0h1m0 0h1m0 0h1m2 0h1m0 0h1m0 0h1m0 0h1m0 0h1m0 0h1m1 0h1m5 0h1m1 0h1m1 0h1m0 0h1m0 0h1m1 0h1m-27 1h1m2 0h1m3 0h1m1 0h1m1 0h1m0 0h1m3 0h1m0 0h1m2 0h1m0 0h1m0 0h1m-27 1h1m3 0h1m1 0h1m0 0h1m0 0h1m0 0h1m2 0h1m1 0h1m4 0h1m0 0h1m1 0h1m0 0h1m0 0h1m0 0h1m1 0h1m-21 1h1m0 0h1m1 0h1m0 0h1m5 0h1m1 0h1m1 0h1m0 0h1m0 0h1m0 0h1m0 0h1m-26 1h1m2 0h1m0 0h1m0 0h1m0 0h1m0 0h1m2 0h1m0 0h1m3 0h1m0 0h1m1 0h1m1 0h1m0 0h1m0 0h1m0 0h1m0 0h1m0 0h1m0 0h1m0 0h1m-23 1h1m0 0h1m0 0h1m1 0h1m1 0h1m1 0h1m0 0h1m2 0h1m2 0h1m2 0h1m0 0h1m0 0h1m0 0h1m0 0h1m-24 1h1m4 0h1m2 0h1m0 0h1m0 0h1m1 0h1m1 0h1m3 0h1m0 0h1m0 0h1m2 0h1m-28 1h1m0 0h1m0 0h1m0 0h1m1 0h1m0 0h1m2 0h1m8 0h1m1 0h1m4 0h1m0 0h1m0 0h1m3 0h1m-30 1h1m5 0h1m1 0h1m7 0h1m0 0h1m2 0h1m0 0h1m0 0h1m1 0h1m4 0h1m-31 1h1m1 0h1m3 0h1m2 0h1m2 0h1m4 0h1m0 0h1m2 0h1m1 0h1m1 0h1m-24 1h1m1 0h1m2 0h1m0 0h1m1 0h1m1 0h1m0 0h1m0 0h1m2 0h1m0 0h1m2 0h1m0 0h1m1 0h1m0 0h1m0 0h1m-26 1h1m0 0h1m3 0h1m0 0h1m12 0h1m1 0h1m0 0h1m3 0h1" stroke="#000" stroke-opacity="0.75" stroke-width="1" fill="none"/>
<path d="M197 258.5h1m4 0h1m5 1h1m-7 1h1m3 0h1m-4 1h1m2 0h1m-7 1h1m4 0h1m0 0h1m-12 1h1m3 0h1m1 0h1m2 0h1m1 0h1m0 0h1m0 0h1m-13 1h1m2 0h1m0 0h1m0 0h1m0 0h1m0 0h1m2 0h1m2 0h1m-13 1h1m4 0h1m0 0h1m1 0h1m2 0h1m0 0h1m-13 1h1m1 0h1m0 0h1m1 0h1m0 0h1m0 0h1m0 0h1m0 0h1m0 0h1m-10 1h1m0 0h1m1 0h1m0 0h1m0 0h1m0 0h1m0 0h1m0 0h1m0 0h1m0 0h1m1 0h1m0 0h1m-17 1h1m0 0h1m3 0h1m2 0h1m0 0h1m0 0h1m2 0h1m-6 1h1m1 0h1m0 0h1m0 0h1m1 0h1m-11 1h1m2 0h1m7 0h1m-14 1h1m1 0h1m1 0h1m0 0h1m3 0h1m1 0h1m-12 1h1m0 0h1m1 0h1m2 0h1m0 0h1m0 0h1m1 0h1m0 0h1m-5 1h1m6 0h1m0 0h1m-12 1h1m4 0h1m-8 1h1m0 0h1m7 0h1m1 0h1m-8 1h1m1 1h1" stroke="#000" stroke-opacity="0.8" stroke-width="1" fill="none"/>
<path d="M204 241.5h1m0 0h1m0 0h1m-23 1h1m17 0h1m0 0h1m0 0h1m0 0h1m0 0h1m0 0h1m0 0h1m0 0h1m-28 1h1m1 0h1m14 0h1m1 0h1m1 0h1m0 0h1m0 0h1m0 0h1m0 0h1m0 0h1m1 0h1m-28 1h1m0 0h1m1 0h1m12 0h1m0 0h1m1 0h1m0 0h1m0 0h1m0 0h1m0 0h1m0 0h1m1 0h1m-31 1h1m1 0h1m17 0h1m0 0h1m0 0h1m0 0h1m0 0h1m0 0h1m0 0h1m0 0h1m0 0h1m0 0h1m0 0h1m0 0h1m0 0h1m-31 1h1m0 0h1m0 0h1m12 0h1m0 0h1m1 0h1m0 0h1m0 0h1m0 0h1m0 0h1m0 0h1m0 0h1m0 0h1m0 0h1m0 0h1m0 0h1m0 0h1m0 0h1m1 0h1m-31 1h1m2 0h1m9 0h1m1 0h1m0 0h1m0 0h1m0 0h1m0 0h1m0 0h1m0 0h1m0 0h1m0 0h1m0 0h1m0 0h1m0 0h1m0 0h1m0 0h1m0 0h1m-34 1h1m1 0h1m1 0h1m12 0h1m0 0h1m0 0h1m0 0h1m0 0h1m0 0h1m0 0h1m0 0h1m0 0h1m0 0h1m0 0h1m0 0h1m0 0h1m0 0h1m0 0h1m0 0h1m0 0h1m-17 1h1m0 0h1m0 0h1m0 0h1m0 0h1m0 0h1m0 0h1m0 0h1m0 0h1m0 0h1m0 0h1m0 0h1m0 0h1m0 0h1m0 0h1m0 0h1m0 0h1m-16 1h1m0 0h1m0 0h1m0 0h1m0 0h1m0 0h1m0 0h1m0 0h1m0 0h1m1 0h1m0 0h1m0 0h1m1 0h1m0 0h1m0 0h1m0 0h1m-18 1h1m0 0h1m0 0h1m0 0h1m0 0h1m0 0h1m0 0h1m0 0h1m0 0h1m0 0h1m0 0h1m0 0h1m0 0h1m0 0h1m0 0h1m0 0h1m-16 1h1m0 0h1m0 0h1m0 0h1m0 0h1m0 0h1m0 0h1m0 0h1m0 0h1m0 0h1m0 0h1m0 0h1m0 0h1m0 0h1m0 0h1m-14 1h1m0 0h1m0 0h1m0 0h1m0 0h1m0 0h1m0 0h1m0 0h1m0 0h1m0 0h1m0 0h1m0 0h1m0 0h1m0 0h1m0 0h1m0 0h1m-16 1h1m0 0h1m0 0h1m0 0h1m0 0h1m0 0h1m1 0h1m0 0h1m1 0h1m0 0h1m0 0h1m0 0h1m0 0h1m0 0h1m-18 1h1m0 0h1m0 0h1m0 0h1m0 0h1m0 0h1m0 0h1m0 0h1m0 0h1m0 0h1m0 0h1m0 0h1m0 0h1m0 0h1m0 0h1m0 0h1m0 0h1m0 0h1m-17 1h1m0 0h1m0 0h1m0 0h1m0 0h1m0 0h1m0 0h1m0 0h1m0 0h1m0 0h1m0 0h1m0 0h1m0 0h1m0 0h1m0 0h1m0 0h1m-16 1h1m0 0h1m0 0h1m0 0h1m0 0h1m0 0h1m0 0h1m0 0h1m0 0h1m0 0h1m0 0h1m0 0h1m0 0h1m0 0h1m0 0h1m0 0h1m0 0h1m0 0h1m-18 1h1m0 0h1m0 0h1m0 0h1m0 0h1m0 0h1m0 0h1m0 0h1m0 0h1m0 0h1m0 0h1m0 0h1m0 0h1m0 0h1m0 0h1m-14 1h1m0 0h1m0 0h1m0 0h1m0 0h1m0 0h1m0 0h1m0 0h1m0 0h1m0 0h1m0 0h1m0 0h1m0 0h1m2 0h1m-16 1h1m0 0h1m0 0h1m2 0h1m0 0h1m0 0h1m0 0h1m1 0h1m0 0h1m0 0h1m1 0h1m-16 1h1m0 0h1m0 0h1m0 0h1m0 0h1m0 0h1m0 0h1m0 0h1m1 0h1m0 0h1m1 0h1m0 0h1m0 0h1m0 0h1m-16 1h1m0 0h1m0 0h1m0 0h1m0 0h1m0 0h1m1 0h1m2 0h1m0 0h1m1 0h1m0 0h1m-15 1h1m2 0h1m0 0h1m0 0h1m0 0h1m3 0h1m2 0h1m-5 1h1" stroke="#000" stroke-opacity="1.0" stroke-width="1" fill="none"/>
<path d="M362 232.5h1m-27 3h1m9 4h1m39 1h1m-30 4h1m-17 2h1m17 2h1m-49 1h1m52 2h1m-52 1h1m44 0h1m-27 1h1m51 1h1m-5 2h1m-75 5h1m42 0h1m23 0h1m-28 4h1m5 2h1m32 0h1m-13 2h1m-18 4h1m3 2h1m3 0h1m17 0h1m-9 1h1m-62 4h1m25 0h1m13 3h1m6 0h1m-38 1h1m33 0h1m26 1h1m-44 5h1m44 2h1m-10 3h1m-1 2h1m-23 2h1m-4 1h1m-11 3h1" stroke="#000" stroke-opacity="0.35" stroke-width="1" fill="none"/>
<path d="M344 242.5h1m5 0h1m-5 1h1m8 1h1m1 0h1m-8 1h1m3 2h1m4 0h1m-13 1h1m4 0h1m6 0h1m-8 1h1m2 0h1m-12 1h1m-3 1h1m3 0h1m1 0h1m1 0h1m4 1h1m5 0h1m-15 1h1m2 0h1m-4 1h1m-6 1h1m13 0h1m-7 1h1m2 0h1m0 0h1m-4 1h1m0 0h1m4 1h1m-10 1h1m0 0h1m3 0h1m-8 4h1m7 1h1" stroke="#000" stroke-opacity="0.4" stroke-width="1" fill="none"/>
<path d="M320 233.5h1m-9 6h1m1 1h1m1 0h1m0 0h1m-7 1h1m5 0h1m-11 1h1m2 0h1m3 0h1m2 0h1m-9 1h1m5 0h1m-6 1h1m2 0h1m-7 1h1m1 0h1m1 0h1m2 0h1m0 0h1m-10 1h1m0 0h1m4 0h1m2 0h1m0 0h1m-10 1h1m4 0h1m0 0h1m1 0h1m1 0h1m0 0h1m-6 1h1m0 0h1m-5 1h1m2 0h1m4 0h1m-9 1h1m0 0h1m0 0h1m0 0h1m0 0h1m0 0h1m0 0h1m-4 1h1m0 0h1m1 0h1m0 0h1m-9 1h1m1 0h1m2 0h1m-3 1h1m1 0h1m0 0h1m-2 1h1m1 0h1m2 0h1m-4 1h1m-7 2h1m3 0h1m0 0h1" stroke="#000" stroke-opacity="0.45" stroke-width="1" fill="none"/>
<path d="M337 239.5h1m2 2h1m5 0h1m-12 1h1m1 0h1m-3 1h1m1 0h1m-4 1h1m2 0h1m0 0h1m0 0h1m2 0h1m-9 1h1m5 0h1m1 0h1m-14 1h1m3 0h1m1 0h1m2 0h1m1 0h1m-7 1h1m0 0h1m2 0h1m3 0h1m2 0h1m-15 1h1m6 0h1m4 0h1m-18 1h1m3 0h1m6 0h1m0 0h1m2 0h1m1 0h1m-15 1h1m7 0h1m1 0h1m1 0h1m4 0h1m-23 1h1m8 0h1m2 0h1m2 0h1m0 0h1m0 0h1m0 0h1m0 0h1m3 0h1m-19 1h1m1 0h1m0 0h1m0 0h1m0 0h1m0 0h1m0 0h1m1 0h1m0 0h1m3 0h1m-21 1h1m1 0h1m3 0h1m1 0h1m0 0h1m3 0h1m1 0h1m1 0h1m0 0h1m-17 1h1m2 0h1m6 0h1m2 0h1m0 0h1m3 0h1m3 0h1m-19 1h1m0 0h1m1 0h1m0 0h1m1 0h1m0 0h1m0 0h1m0 0h1m4 0h1m0 0h1m-20 1h1m2 0h1m0 0h1m0 0h1m2 0h1m0 0h1m0 0h1m1 0h1m0 0h1m0 0h1m6 0h1m-25 1h1m3 0h1m1 0h1m0 0h1m0 0h1m1 0h1m0 0h1m0 0h1m0 0h1m0 0h1m0 0h1m0 0h1m0 0h1m0 0h1m1 0h1m-21 1h1m7 0h1m0 0h1m0 0h1m0 0h1m0 0h1m1 0h1m1 0h1m3 0h1m3 0h1m-25 1h1m4 0h1m0 0h1m0 0h1m2 0h1m1 0h1m0 0h1m1 0h1m3 0h1m1 0h1m0 0h1m0 0h1m-24 1h1m2 0h1m3 0h1m0 0h1m0 0h1m0 0h1m0 0h1m0 0h1m2 0h1m0 0h1m0 0h1m0 0h1m5 0h1m-23 1h1m0 0h1m3 0h1m3 0h1m0 0h1m1 0h1m0 0h1m0 0h1m0 0h1m-18 1h1m3 0h1m0 0h1m1 0h1m0 0h1m4 0h1m0 0h1m0 0h1m1 0h1m1 0h1m0 0h1m1 0h1m-23 1h1m1 0h1m1 0h1m1 0h1m1 0h1m2 0h1m0 0h1m0 0h1m0 0h1m2 0h1m-18 1h1m2 0h1m2 0h1m0 0h1m1 0h1m1 0h1m1 0h1m4 0h1m1 0h1m1 0h1m-21 1h1m1 0h1m0 0h1m0 0h1m1 0h1m0 0h1m0 0h1m4 0h1m0 0h1m1 0h1m0 0h1m-17 1h1m0 0h1m0 0h1m1 0h1m0 0h1m1 0h1m1 0h1m0 0h1m0 0h1m4 0h1m2 0h1m-19 1h1m2 0h1m0 0h1m2 0h1m5 0h1m-17 1h1m11 0h1m0 0h1m0 0h1m1 0h1m0 0h1m-13 1h1m1 0h1m1 0h1m-9 1h1m2 0h1m11 0h1m-11 1h1m1 0h1m2 0h1m6 0h1m-16 1h1m6 1h1m-4 1h1" stroke="#000" stroke-opacity="0.55" stroke-width="1" fill="none"/>
<path d="M321 265.5h1m9 0h1m-11 1h1m3 0h1m10 0h1m5 0h1m-18 1h1m6 0h1m0 1h1m1 0h1m7 0h1m-20 1h1m4 0h1m5 0h1m-15 1h1m6 0h1m1 0h1m5 0h1m7 0h1m-19 1h1m0 0h1m10 0h1m0 0h1m0 0h1m-16 1h1m4 0h1m7 0h1m2 0h1m-16 1h1m1 0h1m14 0h1m0 0h1m-23 1h1m1 0h1m4 0h1m0 0h1m0 0h1m10 0h1m-10 1h1m5 0h1m-17 1h1m4 0h1m10 0h1m-17 1h1m13 0h1m4 0h1m0 0h1m0 0h1m-21 1h1m15 0h1m2 0h1m0 0h1m-9 1h1m0 0h1m-12 1h1m15 0h1m1 0h1m-22 1h1m1 0h1m8 0h1m-6 1h1m5 1h1m3 0h1m-17 1h1m1 0h1m1 0h1m10 0h1m0 1h1m4 0h1m-19 1h1m4 0h1m0 0h1m0 0h1m8 0h1m-12 1h1m0 0h1m-4 1h1m6 0h1m2 0h1m-6 1h1m3 0h1m1 0h1m0 0h1m1 0h1m-8 1h1m-16 1h1m12 0h1m-6 1h1m2 0h1m6 0h1m-19 1h1m6 0h1m-6 1h1m7 0h1m-9 1h1m2 0h1m4 2h1m12 1h1m-1 2h1m-22 1h1m1 0h1m2 0h1m-6 1h1m1 0h1m1 0h1m5 0h1m3 0h1m-17 1h1m5 0h1m9 0h1m-17 1h1" stroke="#000" stroke-opacity="0.6" stroke-width="1" fill="none"/>
<path d="M309 263.5h1m-4 1h1m1 0h1m1 0h1m1 0h1m0 0h1m0 0h1m2 0h1m1 0h1m-13 1h1m0 0h1m4 0h1m0 0h1m0 0h1m0 0h1m0 0h1m-13 1h1m1 0h1m0 0h1m0 0h1m1 0h1m0 0h1m0 0h1m0 0h1m2 0h1m2 0h1m0 0h1m-25 1h1m2 0h1m5 0h1m5 0h1m0 0h1m-15 1h1m10 0h1m0 0h1m1 0h1m0 0h1m3 0h1m1 0h1m-17 1h1m1 0h1m0 0h1m2 0h1m0 0h1m0 0h1m0 0h1m3 0h1m0 0h1m0 0h1m-19 1h1m0 0h1m1 0h1m4 0h1m1 0h1m2 0h1m3 0h1m2 0h1m-22 1h1m4 0h1m1 0h1m0 0h1m0 0h1m0 0h1m5 0h1m-13 1h1m0 0h1m1 0h1m1 0h1m0 0h1m1 0h1m0 0h1m0 0h1m0 0h1m2 0h1m0 0h1m0 0h1m-16 1h1m0 0h1m0 0h1m0 0h1m1 0h1m1 0h1m0 0h1m8 0h1m0 0h1m-23 1h1m0 0h1m8 0h1m3 0h1m4 0h1m-16 1h1m0 0h1m3 0h1m1 0h1m0 0h1m0 0h1m0 0h1m0 0h1m0 0h1m6 0h1m-21 1h1m3 0h1m0 0h1m0 0h1m0 0h1m0 0h1m4 0h1m1 0h1m-19 1h1m1 0h1m1 0h1m1 0h1m0 0h1m2 0h1m0 0h1m1 0h1m1 0h1m0 0h1m2 0h1m-14 1h1m1 0h1m0 0h1m0 0h1m0 0h1m0 0h1m2 0h1m1 0h1m1 0h1m-15 1h1m0 0h1m0 0h1m2 0h1m0 0h1m0 0h1m0 0h1m0 0h1m3 0h1m5 0h1m-21 1h1m1 0h1m2 0h1m1 0h1m1 0h1m1 0h1m0 0h1m-18 1h1m4 0h1m0 0h1m0 0h1m2 0h1m0 0h1m0 0h1m1 0h1m0 0h1m1 0h1m-8 1h1m0 0h1m0 0h1m3 0h1m-14 1h1m1 0h1m2 0h1m0 0h1m1 0h1m1 0h1m3 0h1m-14 1h1m0 0h1m0 0h1m1 0h1m0 0h1m0 0h1m0 0h1m0 0h1m0 0h1m9 0h1m-21 1h1m2 0h1m0 0h1m2 0h1m0 0h1m1 0h1m0 0h1m0 0h1m0 0h1m0 0h1m0 0h1m0 0h1m-15 1h1m0 0h1m1 0h1m0 0h1m0 0h1m0 0h1m0 0h1m1 0h1m2 0h1m-10 1h1m2 0h1m0 0h1m2 0h1m0 0h1m3 0h1m6 0h1m-24 1h1m1 0h1m1 0h1m0 0h1m0 0h1m0 0h1m1 0h1m0 0h1m1 0h1m2 0h1m-17 1h1m0 0h1m3 0h1m0 0h1m1 0h1m1 0h1m1 0h1m0 0h1m2 0h1m0 0h1m0 0h1m-19 1h1m0 0h1m0 0h1m2 0h1m0 0h1m0 0h1m0 0h1m1 0h1m1 0h1m0 0h1m1 0h1m-15 1h1m1 0h1m1 0h1m1 0h1m0 0h1m0 0h1m1 0h1m0 0h1m1 0h1m1 0h1m2 0h1m-21 1h1m5 0h1m1 0h1m1 0h1m1 0h1m0 0h1m3 0h1m-14 1h1m2 0h1m0 0h1m0 0h1m0 0h1m1 0h1m2 0h1m-13 1h1m1 0h1m0 0h1m2 0h1m0 0h1m1 0h1m2 0h1m-14 1h1m2 0h1m2 0h1m1 0h1m0 0h1m0 0h1m0 0h1m0 0h1m-16 1h1m6 0h1m0 0h1m0 0h1m0 0h1m0 0h1m3 0h1m2 0h1m0 0h1m-15 1h1m1 0h1m0 0h1m0 0h1m0 0h1m2 0h1m0 0h1m0 0h1m3 0h1m-19 1h1m2 0h1m0 0h1m0 0h1m1 0h1m1 0h1m0 0h1m0 0h1m4 0h1m-18 1h1m2 0h1m1 0h1m0 0h1m0 0h1m1 0h1m0 0h1m0 0h1m0 0h1m1 0h1m-10 1h1m0 0h1m2 0h1m2 0h1m-10 1h1m0 0h1m1 0h1m0 0h1m4 0h1m0 0h1m0 0h1m0 0h1m-11 1h1m4 0h1m0 0h1m1 0h1m4 0h1m-18 1h1m3 0h1m0 0h1m1 0h1m1 0h1m0 0h1m-11 1h1m0 0h1m7 0h1m1 0h1m1 0h1m2 0h1" stroke="#000" stroke-opacity="0.7" stroke-width="1" fill="none"/>
<path d="M326 267.5h1m0 0h1m-2 1h1m3 0h1m1 0h1m0 0h1m0 0h1m0 0h1m3 0h1m1 0h1m-14 1h1m1 0h1m0 0h1m0 0h1m0 0h1m0 0h1m0 0h1m0 0h1m1 0h1m4 0h1m-16 1h1m0 0h1m1 0h1m0 0h1m0 0h1m0 0h1m0 0h1m1 0h1m0 0h1m0 0h1m1 0h1m-18 1h1m3 0h1m0 0h1m0 0h1m0 0h1m1 0h1m1 0h1m0 0h1m0 0h1m2 0h1m1 0h1m-25 1h1m4 0h1m2 0h1m1 0h1m2 0h1m0 0h1m0 0h1m1 0h1m0 0h1m0 0h1m1 0h1m0 0h1m0 0h1m1 0h1m-20 1h1m1 0h1m0 0h1m0 0h1m2 0h1m1 0h1m0 0h1m0 0h1m1 0h1m1 0h1m0 0h1m-15 1h1m2 0h1m1 0h1m0 0h1m0 0h1m0 0h1m0 0h1m1 0h1m0 0h1m0 0h1m-14 1h1m4 0h1m0 0h1m0 0h1m0 0h1m1 0h1m1 0h1m0 0h1m-12 1h1m0 0h1m0 0h1m0 0h1m0 0h1m0 0h1m0 0h1m0 0h1m0 0h1m2 0h1m1 0h1m-21 1h1m2 0h1m5 0h1m2 0h1m0 0h1m0 0h1m0 0h1m-13 1h1m2 0h1m1 0h1m0 0h1m2 0h1m0 0h1m0 0h1m3 0h1m9 0h1m-26 1h1m3 0h1m0 0h1m0 0h1m0 0h1m0 0h1m1 0h1m0 0h1m0 0h1m0 0h1m0 0h1m0 0h1m-15 1h1m0 0h1m0 0h1m2 0h1m1 0h1m1 0h1m0 0h1m1 0h1m0 0h1m0 0h1m3 0h1m-22 1h1m3 0h1m2 0h1m0 0h1m0 0h1m0 0h1m0 0h1m0 0h1m0 0h1m4 0h1m0 0h1m-20 1h1m1 0h1m1 0h1m0 0h1m2 0h1m0 0h1m0 0h1m0 0h1m0 0h1m1 0h1m0 0h1m-13 1h1m1 0h1m1 0h1m0 0h1m0 0h1m0 0h1m0 0h1m0 0h1m0 0h1m1 0h1m0 0h1m2 0h1m-15 1h1m0 0h1m0 0h1m1 0h1m0 0h1m0 0h1m1 0h1m0 0h1m-11 1h1m1 0h1m0 0h1m0 0h1m1 0h1m0 0h1m0 0h1m0 0h1m0 0h1m0 0h1m3 0h1m0 0h1m-16 1h1m2 0h1m1 0h1m0 0h1m0 0h1m0 0h1m0 0h1m1 0h1m-14 1h1m0 0h1m1 0h1m0 0h1m0 0h1m0 0h1m0 0h1m0 0h1m1 0h1m0 0h1m0 0h1m-13 1h1m2 0h1m0 0h1m0 0h1m0 0h1m0 0h1m0 0h1m0 0h1m0 0h1m0 0h1m0 0h1m0 0h1m0 0h1m0 0h1m-16 1h1m0 0h1m0 0h1m0 0h1m0 0h1m0 0h1m0 0h1m3 0h1m0 0h1m0 0h1m2 0h1m0 0h1m2 0h1m-21 1h1m2 0h1m1 0h1m1 0h1m0 0h1m0 0h1m0 0h1m0 0h1m0 0h1m2 0h1m0 0h1m-16 1h1m6 0h1m0 0h1m1 0h1m0 0h1m1 0h1m1 0h1m2 0h1m-18 1h1m0 0h1m0 0h1m0 0h1m0 0h1m0 0h1m0 0h1m0 0h1m1 0h1m0 0h1m0 0h1m0 0h1m0 0h1m-13 1h1m0 0h1m0 0h1m0 0h1m1 0h1m0 0h1m0 0h1m0 0h1m1 0h1m0 0h1m-15 1h1m1 0h1m0 0h1m1 0h1m0 0h1m0 0h1m0 0h1m1 0h1m0 0h1m2 0h1m0 0h1m-20 1h1m6 0h1m1 0h1m0 0h1m0 0h1m0 0h1m0 0h1m0 0h1m1 0h1m0 0h1m3 0h1m-19 1h1m0 0h1m2 0h1m0 0h1m0 0h1m1 0h1m1 0h1m0 0h1m0 0h1m1 0h1m-15 1h1m2 0h1m1 0h1m0 0h1m3 0h1m0 0h1m0 0h1m0 0h1m0 0h1m-11 1h1m0 0h1m1 0h1m0 0h1m1 0h1m0 0h1m0 0h1m0 0h1m0 0h1m2 0h1m-17 1h1m0 0h1m0 0h1m0 0h1m0 0h1m0 0h1m2 0h1m0 0h1m0 0h1m0 0h1m2 0h1m-11 1h1m0 0h1m2 0h1m2 0h1m0 0h1m0 0h1m0 0h1m6 0h1m1 0h1m-25 1h1m4 0h1m0 0h1m1 0h1m1 0h1m0 0h1m0 0h1m0 0h1m0 0h1m0 0h1m0 0h1m1 0h1m0 0h1m0 0h1m-19 1h1m3 0h1m1 0h1m1 0h1m0 0h1m0 0h1m0 0h1m0 0h1m6 0h1m-8 1h1" stroke="#000" stroke-opacity="0.8" stroke-width="1" fill="none"/>
<path d="M338 243.5h1m-3 1h1m0 0h1m-2 1h1m0 0h1m4 0h1m1 0h1m-14 1h1m3 0h1m2 0h1m0 0h1m0 0h1m1 0h1m0 0h1m-15 1h1m1 0h1m0 0h1m1 0h1m1 0h1m0 0h1m0 0h1m0 0h1m0 0h1m0 0h1m1 0h1m1 0h1m-12 1h1m0 0h1m0 0h1m0 0h1m0 0h1m0 0h1m0 0h1m0 0h1m1 0h1m0 0h1m-12 1h1m1 0h1m0 0h1m0 0h1m0 0h1m1 0h1m0 0h1m0 0h1m0 0h1m0 0h1m-18 1h1m2 0h1m0 0h1m0 0h1m0 0h1m0 0h1m1 0h1m0 0h1m0 0h1m0 0h1m0 0h1m0 0h1m0 0h1m0 0h1m-19 1h1m1 0h1m0 0h1m0 0h1m0 0h1m0 0h1m0 0h1m0 0h1m1 0h1m0 0h1m0 0h1m0 0h1m0 0h1m0 0h1m0 0h1m0 0h1m0 0h1m0 0h1m-17 1h1m0 0h1m0 0h1m0 0h1m0 0h1m0 0h1m0 0h1m0 0h1m0 0h1m0 0h1m0 0h1m0 0h1m0 0h1m0 0h1m0 0h1m0 0h1m0 0h1m0 0h1m-19 1h1m0 0h1m1 0h1m0 0h1m0 0h1m0 0h1m0 0h1m0 0h1m0 0h1m0 0h1m0 0h1m0 0h1m0 0h1m0 0h1m1 0h1m0 0h1m-20 1h1m1 0h1m0 0h1m0 0h1m0 0h1m0 0h1m0 0h1m0 0h1m0 0h1m0 0h1m0 0h1m0 0h1m0 0h1m0 0h1m0 0h1m0 0h1m0 0h1m-16 1h1m0 0h1m0 0h1m0 0h1m0 0h1m0 0h1m0 0h1m1 0h1m0 0h1m0 0h1m1 0h1m0 0h1m0 0h1m1 0h1m0 0h1m-21 1h1m0 0h1m0 0h1m0 0h1m0 0h1m1 0h1m0 0h1m0 0h1m0 0h1m0 0h1m0 0h1m0 0h1m0 0h1m0 0h1m1 0h1m0 0h1m0 0h1m1 0h1m-21 1h1m0 0h1m0 0h1m0 0h1m0 0h1m0 0h1m0 0h1m0 0h1m0 0h1m0 0h1m0 0h1m0 0h1m0 0h1m0 0h1m0 0h1m0 0h1m0 0h1m0 0h1m0 0h1m0 0h1m-20 1h1m0 0h1m0 0h1m0 0h1m0 0h1m1 0h1m0 0h1m0 0h1m0 0h1m0 0h1m0 0h1m0 0h1m0 0h1m1 0h1m0 0h1m0 0h1m0 0h1m0 0h1m1 0h1m-24 1h1m0 0h1m0 0h1m1 0h1m0 0h1m0 0h1m0 0h1m0 0h1m0 0h1m0 0h1m0 0h1m0 0h1m0 0h1m0 0h1m0 0h1m1 0h1m0 0h1m2 0h1m-22 1h1m1 0h1m0 0h1m0 0h1m0 0h1m0 0h1m0 0h1m0 0h1m0 0h1m0 0h1m0 0h1m1 0h1m0 0h1m0 0h1m0 0h1m0 0h1m1 0h1m0 0h1m-20 1h1m1 0h1m0 0h1m0 0h1m0 0h1m1 0h1m0 0h1m0 0h1m1 0h1m0 0h1m0 0h1m0 0h1m0 0h1m0 0h1m0 0h1m0 0h1m0 0h1m0 0h1m-20 1h1m0 0h1m1 0h1m0 0h1m0 0h1m0 0h1m0 0h1m0 0h1m0 0h1m0 0h1m0 0h1m0 0h1m0 0h1m1 0h1m0 0h1m0 0h1m0 0h1m-19 1h1m0 0h1m0 0h1m0 0h1m0 0h1m0 0h1m0 0h1m0 0h1m0 0h1m0 0h1m0 0h1m0 0h1m0 0h1m0 0h1m0 0h1m0 0h1m0 0h1m0 0h1m0 0h1m0 0h1m-20 1h1m0 0h1m0 0h1m0 0h1m0 0h1m0 0h1m0 0h1m0 0h1m1 0h1m0 0h1m0 0h1m0 0h1m0 0h1m0 0h1m1 0h1m0 0h1m-19 1h1m2 0h1m0 0h1m0 0h1m0 0h1m0 0h1m0 0h1m0 0h1m0 0h1m0 0h1m0 0h1m0 0h1m1 0h1m1 0h1m0 0h1m-17 1h1m1 0h1m0 0h1m0 0h1m0 0h1m0 0h1m0 0h1m0 0h1m0 0h1m0 0h1m0 0h1m0 0h1m0 0h1m1 0h1m-17 1h1m0 0h1m1 0h1m0 0h1m0 0h1m0 0h1m0 0h1m0 0h1m0 0h1m0 0h1m0 0h1m0 0h1m0 0h1m0 0h1m2 0h1m-17 1h1m0 0h1m0 0h1m0 0h1m0 0h1m0 0h1m0 0h1m0 0h1m0 0h1m0 0h1m0 0h1m0 0h1m1 0h1m1 0h1m-15 1h1m0 0h1m0 0h1m0 0h1m0 0h1m0 0h1m1 0h1m0 0h1m0 0h1m0 0h1m0 0h1m0 0h1m-12 1h1m0 0h1m0 0h1m0 0h1m0 0h1m1 0h1m0 0h1m0 0h1m-7 1h1m0 0h1m6 0h1m-12 1h1m7 0h1m-24 9h1m-5 9h1m3 0h1m4 0h1m0 0h1m-13 1h1m0 0h1m0 0h1m2 0h1m0 0h1m2 0h1m0 0h1m-6 1h1m0 0h1m0 0h1m0 0h1m1 0h1m1 0h1m-11 1h1m3 0h1m1 0h1m0 0h1m1 0h1m3 0h1m-17 1h1m2 0h1m2 0h1m0 0h1m1 0h1m4 0h1m-11 1h1m1 0h1m0 0h1m1 0h1m0 0h1m1 0h1m-12 1h1m4 0h1m0 0h1m3 0h1m0 0h1m-12 1h1m4 0h1m3 0h1m-9 1h1m1 0h1m1 0h1m0 0h1m2 0h1m0 0h1m-10 1h1m0 0h1m0 0h1m1 0h1m1 0h1m5 0h1m-15 1h1m6 0h1m1 0h1m0 0h1m0 0h1m1 0h1m0 0h1m-13 1h1m1 0h1m0 0h1m1 0h1m0 0h1m0 0h1m-6 1h1m1 0h1m0 0h1m2 0h1m1 0h1m-11 1h1m2 0h1m2 0h1m0 0h1m0 0h1m-9 1h1m6 0h1m1 0h1" stroke="#000" stroke-opacity="1.0" stroke-width="1" fill="none"/>
<path d="M500 236.5h1m-35 1h1m-16 2h1m5 1h1m-11 2h1m56 1h1m-3 1h1m-43 1h1m-18 3h1m15 1h1m11 3h1m2 6h1m25 1h1m-28 3h1m-36 3h1m33 4h1m-16 5h1m41 0h1m-3 1h1m-31 4h1m-35 4h1m30 1h1m-23 6h1m51 2h1m-45 1h1m16 2h1m-33 3h1m13 3h1m-17 5h1" stroke="#000" stroke-opacity="0.35" stroke-width="1" fill="none"/>
<path d="M470 247.5h1m-34 1h1m2 0h1m-11 1h1m2 0h1m6 0h1m7 0h1m20 0h1m5 0h1m-40 1h1m2 0h1m2 0h1m-11 1h1m4 0h1m2 0h1m1 0h1m1 0h1m0 0h1m8 0h1m11 0h1m5 0h1m1 0h1m0 0h1m-39 1h1m1 0h1m0 0h1m4 0h1m1 0h1m22 0h1m1 0h1m0 0h1m0 0h1m-45 1h1m14 0h1m1 0h1m18 0h1m3 0h1m0 0h1m1 0h1m-38 1h1m1 0h1m0 0h1m0 0h1m5 0h1m5 0h1m8 0h1m0 0h1m0 0h1m1 0h1m1 0h1m2 0h1m2 0h1m0 0h1m0 0h1m0 0h1m-41 1h1m0 0h1m1 0h1m0 0h1m1 0h1m0 0h1m1 0h1m1 0h1m4 0h1m2 0h1m8 0h1m3 0h1m0 0h1m1 0h1m0 0h1m1 0h1m0 0h1m-44 1h1m1 0h1m0 0h1m0 0h1m1 0h1m2 0h1m1 0h1m0 0h1m1 0h1m0 0h1m1 0h1m0 0h1m3 0h1m8 0h1m0 0h1m2 0h1m1 0h1m1 0h1m0 0h1m-36 1h1m1 0h1m0 0h1m0 0h1m0 0h1m0 0h1m0 0h1m0 0h1m0 0h1m0 0h1m1 0h1m5 0h1m4 0h1m1 0h1m2 0h1m0 0h1m0 0h1m1 0h1m0 0h1m2 0h1m0 0h1m0 0h1m0 0h1m4 0h1m-49 1h1m2 0h1m0 0h1m0 0h1m0 0h1m2 0h1m0 0h1m0 0h1m0 0h1m2 0h1m1 0h1m1 0h1m4 0h1m0 0h1m2 0h1m0 0h1m1 0h1m1 0h1m1 0h1m0 0h1m0 0h1m0 0h1m0 0h1m1 0h1m-39 1h1m0 0h1m0 0h1m0 0h1m0 0h1m0 0h1m0 0h1m1 0h1m0 0h1m0 0h1m0 0h1m0 0h1m0 0h1m3 0h1m5 0h1m0 0h1m1 0h1m0 0h1m0 0h1m0 0h1m0 0h1m0 0h1m0 0h1m2 0h1m3 0h1m1 0h1m-45 1h1m1 0h1m3 0h1m0 0h1m0 0h1m0 0h1m0 0h1m0 0h1m0 0h1m0 0h1m0 0h1m0 0h1m4 0h1m3 0h1m1 0h1m0 0h1m0 0h1m0 0h1m0 0h1m0 0h1m0 0h1m0 0h1m0 0h1m0 0h1m1 0h1m0 0h1m0 0h1m2 0h1m-42 1h1m0 0h1m0 0h1m0 0h1m0 0h1m0 0h1m5 0h1m0 0h1m1 0h1m9 0h1m0 0h1m0 0h1m0 0h1m1 0h1m0 0h1m0 0h1m1 0h1m0 0h1m1 0h1m0 0h1m-38 1h1m0 0h1m1 0h1m2 0h1m0 0h1m3 0h1m0 0h1m14 0h1m0 0h1m0 0h1m0 0h1m0 0h1m0 0h1m0 0h1m0 0h1m0 0h1m1 0h1m0 0h1m0 0h1m4 0h1m-46 1h1m4 0h1m0 0h1m1 0h1m0 0h1m1 0h1m1 0h1m1 0h1m0 0h1m3 0h1m1 0h1m2 0h1m1 0h1m0 0h1m0 0h1m0 0h1m1 0h1m0 0h1m2 0h1m1 0h1m-37 1h1m2 0h1m0 0h1m3 0h1m2 0h1m0 0h1m3 0h1m0 0h1m3 0h1m1 0h1m0 0h1m1 0h1m1 0h1m0 0h1m0 0h1m0 0h1m0 0h1m0 0h1m3 0h1m-36 1h1m0 0h1m3 0h1m1 0h1m13 0h1m1 0h1m0 0h1m1 0h1m1 0h1m3 0h1m0 0h1m0 0h1m1 0h1m1 0h1m-40 1h1m7 0h1m0 0h1m14 0h1m2 0h1m6 0h1m1 0h1m-36 1h1m0 0h1m4 0h1m0 0h1m4 0h1m13 0h1m1 0h1m0 0h1m1 0h1m0 0h1m-22 1h1m1 0h1m7 0h1m0 0h1m0 0h1m2 0h1m1 0h1m0 0h1m1 0h1m2 0h1m0 0h1m-32 1h1m2 0h1m14 0h1m3 0h1m0 0h1m2 0h1m0 0h1m-10 1h1m0 0h1m2 0h1m4 0h1m1 0h1m-21 1h1m16 1h1" stroke="#000" stroke-opacity="0.55" stroke-width="1" fill="none"/>
<path d="M441 262.5h1m2 1h1m-5 1h1m6 0h1m-10 1h1m4 1h1m-7 1h1m5 0h1m-5 2h1m-10 1h1m13 0h1m2 0h1m3 0h1m-16 1h1m-8 1h1m1 0h1m4 0h1m7 0h1m1 0h1m-15 1h1m1 0h1m7 0h1m2 0h1m12 0h1m-25 1h1m0 0h1m3 0h1m1 0h1m-6 1h1m3 0h1m1 0h1m0 0h1m0 0h1m0 0h1m0 0h1m-15 1h1m8 0h1m0 0h1m0 0h1m-9 1h1m1 0h1m4 0h1m1 0h1m3 0h1m0 0h1m1 0h1m0 0h1m-20 1h1m1 0h1m0 0h1m0 0h1m2 0h1m5 0h1m3 0h1m-20 1h1m2 0h1m1 0h1m2 0h1m1 0h1m5 0h1m-14 1h1m1 0h1m4 0h1m5 0h1m0 0h1m1 0h1m-13 1h1m4 0h1m0 0h1m-12 1h1m5 0h1m4 0h1m3 0h1m-13 1h1m3 0h1m4 0h1m3 0h1m-19 1h1m3 0h1m1 0h1m1 0h1m0 0h1m6 0h1m-18 1h1m4 0h1m8 0h1m0 0h1m-10 1h1m0 0h1m5 0h1m-12 1h1m1 0h1m7 0h1m0 0h1m4 0h1m-11 1h1m1 0h1m1 0h1m0 0h1m-15 1h1m0 0h1m5 0h1m5 0h1m-6 1h1m0 0h1m7 0h1m5 0h1m1 0h1m-24 1h1m1 0h1m4 0h1m1 0h1m3 0h1m2 0h1m-9 1h1m-2 1h1m4 0h1m-13 1h1m3 0h1m1 0h1m2 0h1m3 0h1m-11 1h1m7 0h1m2 0h1m-5 1h1m0 0h1m14 0h1m-23 1h1m0 0h1m1 0h1m3 0h1m-9 1h1m2 1h1m-8 1h1m4 0h1m1 0h1m1 0h1m-7 2h1m3 0h1m4 2h1m-12 2h1" stroke="#000" stroke-opacity="0.65" stroke-width="1" fill="none"/>
<path d="M456 273.5h1m4 0h1m0 0h1m1 0h1m0 0h1m3 0h1m1 0h1m1 0h1m-12 1h1m1 0h1m0 0h1m0 0h1m3 0h1m-6 1h1m0 0h1m1 0h1m-13 1h1m2 0h1m0 0h1m1 0h1m0 0h1m0 0h1m0 0h1m1 0h1m2 0h1m1 0h1m-12 1h1m3 0h1m0 0h1m4 0h1m-12 1h1m1 0h1m0 0h1m0 0h1m0 0h1m1 0h1m0 0h1m-12 1h1m1 0h1m4 0h1m4 0h1m1 0h1m-13 1h1m0 0h1m0 0h1m1 0h1m0 0h1m0 0h1m1 0h1m4 0h1m0 0h1m0 0h1m-19 1h1m2 0h1m4 0h1m1 0h1m1 0h1m-10 1h1m4 0h1m0 0h1m0 0h1m1 0h1m0 0h1m0 0h1m1 0h1m2 0h1m-8 1h1m-10 1h1m4 0h1m0 0h1m3 0h1m4 0h1m-22 1h1m2 0h1m3 0h1m3 0h1m2 0h1m1 0h1m0 0h1m0 0h1m-15 1h1m2 0h1m1 0h1m0 0h1m0 0h1m1 0h1m0 0h1m0 0h1m1 0h1m3 0h1m-19 1h1m5 0h1m3 0h1m0 0h1m2 0h1m0 0h1m-21 1h1m9 0h1m2 0h1m2 0h1m0 0h1m0 0h1m0 0h1m2 0h1m-15 1h1m1 0h1m1 0h1m1 0h1m1 0h1m3 0h1m-10 1h1m0 0h1m0 0h1m0 0h1m6 0h1m-14 1h1m6 0h1m0 0h1m0 0h1m3 0h1m1 0h1m-17 1h1m0 0h1m1 0h1m0 0h1m3 0h1m0 0h1m1 0h1m0 0h1m-13 1h1m4 0h1m1 0h1m0 0h1m0 0h1m2 0h1m0 0h1m-20 1h1m9 0h1m1 0h1m1 0h1m0 0h1m0 0h1m1 0h1m-15 1h1m2 0h1m5 0h1m0 0h1m1 0h1m1 0h1m2 0h1m-16 1h1m0 0h1m2 0h1m1 0h1m0 0h1m0 0h1m14 0h1m-17 1h1m1 0h1m0 0h1m2 0h1m6 0h1m-22 1h1m2 0h1m0 0h1m0 0h1m0 0h1m0 0h1m0 0h1m0 0h1m1 0h1m7 0h1m-19 1h1m3 0h1m3 0h1m5 0h1m-21 1h1m5 0h1m0 0h1m3 0h1m0 0h1m0 0h1m4 0h1m0 0h1m0 0h1m0 0h1m2 0h1m-16 1h1m0 0h1m2 0h1m2 0h1m1 0h1m1 0h1m-17 1h1m3 0h1m4 0h1m1 0h1m1 0h1m1 0h1m-16 1h1m2 0h1m4 0h1m0 0h1m1 0h1m1 0h1m2 0h1m0 0h1m1 0h1m-15 1h1" stroke="#000" stroke-opacity="0.7" stroke-width="1" fill="none"/>
<path d="M440 283.5h1m3 1h1m-4 1h1m2 1h1m0 0h1m-4 1h1m4 0h1m-5 2h1m1 0h1m-7 1h1m10 0h1m-14 1h1m6 0h1m0 0h1m1 0h1m2 0h1m-13 1h1m0 0h1m3 0h1m1 0h1m-4 1h1m0 0h1m0 0h1m1 0h1m0 0h1m2 0h1m-17 1h1m6 0h1m1 0h1m1 0h1m0 0h1m0 0h1m-10 1h1m3 0h1m0 0h1m0 0h1m0 0h1m0 0h1m0 0h1m-8 1h1m0 0h1m0 0h1m0 0h1m0 0h1m0 0h1m1 0h1m3 0h1m-15 1h1m0 0h1m0 0h1m0 0h1m1 0h1m0 0h1m1 0h1m0 0h1m1 0h1m-12 1h1m0 0h1m1 0h1m1 0h1m0 0h1m2 0h1m1 0h1m1 0h1m-11 1h1m0 0h1m0 0h1m0 0h1m1 0h1m0 0h1m1 0h1m-14 1h1m6 0h1m0 0h1m0 0h1m1 0h1m0 0h1m3 0h1m-14 1h1m0 0h1m2 0h1m0 0h1m0 0h1m1 0h1m-12 1h1m1 0h1m2 0h1m0 0h1m0 0h1m1 0h1m0 0h1m0 0h1m0 0h1m4 0h1m-15 1h1m1 0h1m0 0h1m2 0h1m0 0h1m1 0h1m-7 1h1m5 0h1m-10 1h1m2 0h1m5 0h1m0 0h1m-4 1h1m5 0h1" stroke="#000" stroke-opacity="0.85" stroke-width="1" fill="none"/>
<path d="M472 250.5h1m0 0h1m0 0h1m-6 1h1m1 0h1m0 0h1m0 0h1m-37 1h1m2 0h1m1 0h1m0 0h1m25 0h1m0 0h1m0 0h1m0 0h1m0 0h1m-42 1h1m1 0h1m1 0h1m0 0h1m1 0h1m0 0h1m0 0h1m0 0h1m21 0h1m4 0h1m0 0h1m0 0h1m0 0h1m0 0h1m0 0h1m-41 1h1m0 0h1m1 0h1m0 0h1m0 0h1m0 0h1m1 0h1m0 0h1m22 0h1m0 0h1m0 0h1m0 0h1m1 0h1m0 0h1m0 0h1m0 0h1m-43 1h1m0 0h1m0 0h1m1 0h1m0 0h1m0 0h1m0 0h1m0 0h1m0 0h1m0 0h1m2 0h1m17 0h1m1 0h1m0 0h1m0 0h1m0 0h1m0 0h1m0 0h1m0 0h1m0 0h1m0 0h1m0 0h1m-41 1h1m1 0h1m0 0h1m1 0h1m0 0h1m0 0h1m0 0h1m0 0h1m0 0h1m0 0h1m16 0h1m0 0h1m0 0h1m0 0h1m0 0h1m1 0h1m0 0h1m0 0h1m0 0h1m0 0h1m0 0h1m1 0h1m-40 1h1m0 0h1m0 0h1m0 0h1m0 0h1m0 0h1m0 0h1m22 0h1m0 0h1m0 0h1m0 0h1m0 0h1m0 0h1m0 0h1m0 0h1m0 0h1m0 0h1m-40 1h1m0 0h1m0 0h1m0 0h1m0 0h1m0 0h1m0 0h1m0 0h1m1 0h1m0 0h1m15 0h1m0 0h1m0 0h1m0 0h1m0 0h1m0 0h1m0 0h1m0 0h1m0 0h1m0 0h1m0 0h1m0 0h1m0 0h1m1 0h1m-42 1h1m0 0h1m0 0h1m0 0h1m1 0h1m0 0h1m0 0h1m0 0h1m3 0h1m14 0h1m0 0h1m0 0h1m0 0h1m0 0h1m0 0h1m0 0h1m0 0h1m0 0h1m0 0h1m0 0h1m0 0h1m1 0h1m-40 1h1m0 0h1m0 0h1m0 0h1m2 0h1m0 0h1m0 0h1m15 0h1m0 0h1m0 0h1m0 0h1m0 0h1m0 0h1m0 0h1m0 0h1m0 0h1m0 0h1m0 0h1m0 0h1m0 0h1m0 0h1m0 0h1m0 0h1m-35 1h1m1 0h1m0 0h1m14 0h1m0 0h1m0 0h1m2 0h1m0 0h1m0 0h1m0 0h1m0 0h1m0 0h1m0 0h1m1 0h1m0 0h1m1 0h1m-31 1h1m12 0h1m1 0h1m0 0h1m0 0h1m0 0h1m0 0h1m0 0h1m0 0h1m0 0h1m0 0h1m0 0h1m0 0h1m0 0h1m0 0h1m0 0h1m-16 1h1m1 0h1m0 0h1m0 0h1m0 0h1m0 0h1m0 0h1m0 0h1m0 0h1m0 0h1m0 0h1m0 0h1m0 0h1m0 0h1m0 0h1m0 0h1m-16 1h1m0 0h1m0 0h1m0 0h1m0 0h1m0 0h1m0 0h1m0 0h1m0 0h1m0 0h1m0 0h1m0 0h1m0 0h1m0 0h1m0 0h1m-15 1h1m0 0h1m0 0h1m0 0h1m0 0h1m0 0h1m0 0h1m0 0h1m0 0h1m0 0h1m0 0h1m0 0h1m0 0h1m0 0h1m0 0h1m-15 1h1m0 0h1m1 0h1m0 0h1m0 0h1m0 0h1m0 0h1m0 0h1m0 0h1m1 0h1m0 0h1m0 0h1m-11 1h1m0 0h1m0 0h1m0 0h1m0 0h1m0 0h1m0 0h1m0 0h1m0 0h1m0 0h1m0 0h1m-12 1h1m2 0h1m0 0h1m1 0h1m0 0h1m0 0h1m0 0h1m1 0h1m-9 1h1m0 0h1m0 0h1m3 0h1m-8 1h1" stroke="#000" stroke-opacity="1.0" stroke-width="1" fill="none"/>
<path d="M99 358.5h1m-53 3h1m47 5h1m-50 5h1m14 1h1m-20 3h1m13 1h1m-8 6h1m1 5h1m66 14h1m1 1h1m-12 1h1m5 0h1m-73 4h1m14 1h1m22 3h1m-33 1h1m66 1h1m-73 2h1m39 7h1m2 0h1m-24 1h1m5 3h1m-23 2h1m38 2h1" stroke="#000" stroke-opacity="0.35" stroke-width="1" fill="none"/>
<path d="M88 383.5h1m11 2h1m-18 1h1m13 0h1m-9 1h1m2 0h1m1 0h1m1 0h1m2 0h1m3 0h1m-7 1h1m0 0h1m4 0h1m-6 1h1m-2 1h1m3 0h1m-17 1h1m1 0h1m5 0h1m4 0h1m-13 1h1m4 0h1m0 0h1m3 0h1m2 0h1m0 0h1m0 0h1m7 0h1m-19 1h1m-2 1h1m1 0h1m4 0h1m-7 1h1m2 0h1m2 0h1m0 0h1m-16 1h1m2 0h1m2 0h1m1 0h1m0 0h1m3 0h1m6 0h1m-15 1h1m3 0h1m0 0h1m0 0h1m3 0h1m2 0h1m-18 1h1m5 0h1m2 0h1m-5 1h1m5 0h1m4 0h1m0 0h1m-11 1h1m7 1h1m0 0h1m0 0h1m-13 1h1m1 0h1m4 0h1m-11 1h1m11 0h1m-7 1h1m4 0h1m2 0h1m-15 2h1m7 1h1m0 0h1m-5 2h1m1 0h1m2 0h1m11 1h1m-25 1h1m6 0h1m6 0h1m7 0h1m-17 4h1m4 0h1" stroke="#000" stroke-opacity="0.4" stroke-width="1" fill="none"/>
<path d="M106 405.5h1m-18 1h1m5 0h1m6 0h1m-5 1h1m1 0h1m-3 2h1m4 0h1m-14 1h1m6 0h1m0 0h1m2 0h1m2 0h1m0 0h1m1 0h1m-17 1h1m0 0h1m2 0h1m1 0h1m4 0h1m0 0h1m0 0h1m0 0h1m-16 1h1m1 0h1m1 0h1m1 0h1m5 0h1m1 0h1m0 0h1m-17 1h1m2 0h1m0 0h1m0 0h1m0 0h1m1 0h1m0 0h1m0 0h1m0 0h1m0 0h1m0 0h1m0 0h1m0 0h1m0 0h1m-18 1h1m0 0h1m0 0h1m1 0h1m1 0h1m2 0h1m2 0h1m0 0h1m-12 1h1m6 0h1m0 0h1m1 0h1m0 0h1m2 0h1m2 0h1m3 0h1m-29 1h1m3 0h1m0 0h1m1 0h1m0 0h1m0 0h1m0 0h1m0 0h1m1 0h1m0 0h1m1 0h1m0 0h1m0 0h1m0 0h1m2 0h1m0 0h1m-17 1h1m0 0h1m3 0h1m0 0h1m0 0h1m1 0h1m0 0h1m1 0h1m2 0h1m3 0h1m-28 1h1m6 0h1m0 0h1m1 0h1m0 0h1m1 0h1m0 0h1m1 0h1m0 0h1m0 0h1m3 0h1m0 0h1m2 0h1m-22 1h1m2 0h1m2 0h1m0 0h1m0 0h1m0 0h1m0 0h1m7 0h1m0 0h1m1 0h1m-23 1h1m6 0h1m1 0h1m2 0h1m0 0h1m0 0h1m2 0h1m-16 1h1m0 0h1m1 0h1m0 0h1m1 0h1m1 0h1m2 0h1m4 0h1m-16 1h1m1 0h1m2 0h1m4 0h1m2 0h1m-18 1h1m3 0h1m1 0h1m5 0h1m0 0h1m5 0h1m-19 1h1m3 0h1m2 0h1m0 0h1m1 0h1m-14 1h1m4 0h1m2 0h1m3 0h1m4 1h1" stroke="#000" stroke-opacity="0.5" stroke-width="1" fill="none"/>
<path d="M59 374.5h1m-2 4h1m-20 1h1m13 0h1m-7 1h1m3 0h1m-14 1h1m11 0h1m2 0h1m4 0h1m2 0h1m9 0h1m-30 1h1m1 0h1m1 0h1m0 0h1m3 0h1m0 0h1m0 0h1m0 0h1m1 0h1m-20 1h1m2 0h1m12 0h1m4 0h1m0 0h1m3 0h1m0 0h1m-27 1h1m6 0h1m5 0h1m1 0h1m2 0h1m1 0h1m-20 1h1m3 0h1m3 0h1m0 0h1m0 0h1m1 0h1m0 0h1m0 0h1m0 0h1m0 0h1m3 0h1m2 0h1m3 0h1m4 0h1m-29 1h1m2 0h1m3 0h1m1 0h1m5 0h1m-17 1h1m6 0h1m4 0h1m0 0h1m4 0h1m4 0h1m-30 1h1m2 0h1m1 0h1m1 0h1m0 0h1m5 0h1m4 0h1m4 0h1m2 0h1m-26 1h1m1 0h1m0 0h1m3 0h1m1 0h1m2 0h1m0 0h1m0 0h1m0 0h1m6 0h1m0 0h1m-22 1h1m6 0h1m0 0h1m1 0h1m0 0h1m2 0h1m0 0h1m1 0h1m-20 1h1m2 0h1m2 0h1m1 0h1m2 0h1m2 0h1m2 0h1m0 0h1m3 0h1m3 0h1m-25 1h1m2 0h1m0 0h1m7 0h1m1 0h1m1 0h1m2 0h1m2 0h1m-24 1h1m0 0h1m1 0h1m2 0h1m3 0h1m5 0h1m1 0h1m3 0h1m5 0h1m-30 1h1m5 0h1m3 0h1m1 0h1m0 0h1m0 0h1m12 0h1m-27 1h1m3 0h1m0 0h1m0 0h1m1 0h1m1 0h1m0 0h1m0 0h1m0 0h1m1 0h1m6 0h1m6 0h1m-27 1h1m4 0h1m1 0h1m0 0h1m1 0h1m3 0h1m2 0h1m0 0h1m7 0h1m-33 1h1m4 0h1m2 0h1m0 0h1m0 0h1m0 0h1m1 0h1m0 0h1m0 0h1m1 0h1m0 0h1m0 0h1m6 0h1m1 0h1m-27 1h1m3 0h1m9 0h1m1 0h1m1 0h1m0 0h1m10 0h1m0 0h1m-34 1h1m10 0h1m1 0h1m3 0h1m9 0h1m-26 1h1m4 0h1m9 0h1m0 0h1m7 0h1m10 0h1m-27 1h1m2 0h1m1 0h1m0 0h1m1 0h1m1 0h1m-19 1h1m6 0h1m-4 1h1m3 0h1m1 0h1m4 1h1m0 0h1m6 0h1m-26 2h1m6 0h1m24 2h1m-28 1h1" stroke="#000" stroke-opacity="0.6" stroke-width="1" fill="none"/>
<path d="M65 414.5h1m-6 1h1m1 0h1m5 0h1m10 0h1m0 0h1m2 0h1m0 0h1m-19 1h1m4 0h1m3 0h1m3 0h1m0 0h1m2 0h1m-27 1h1m9 0h1m1 0h1m11 0h1m0 0h1m0 0h1m1 0h1m0 0h1m-26 1h1m3 0h1m2 0h1m4 0h1m5 0h1m2 0h1m1 0h1m1 0h1m0 0h1m-30 1h1m2 0h1m0 0h1m0 0h1m0 0h1m0 0h1m2 0h1m0 0h1m1 0h1m1 0h1m0 0h1m1 0h1m4 0h1m0 0h1m4 0h1m-30 1h1m0 0h1m2 0h1m2 0h1m2 0h1m0 0h1m2 0h1m0 0h1m1 0h1m2 0h1m1 0h1m0 0h1m1 0h1m0 0h1m0 0h1m0 0h1m0 0h1m-30 1h1m4 0h1m1 0h1m1 0h1m0 0h1m0 0h1m1 0h1m1 0h1m1 0h1m0 0h1m1 0h1m1 0h1m1 0h1m0 0h1m2 0h1m0 0h1m-24 1h1m0 0h1m0 0h1m1 0h1m1 0h1m0 0h1m1 0h1m1 0h1m0 0h1m1 0h1m2 0h1m0 0h1m-25 1h1m1 0h1m1 0h1m0 0h1m2 0h1m0 0h1m3 0h1m1 0h1m2 0h1m-17 1h1m0 0h1m0 0h1m0 0h1m1 0h1m0 0h1m5 0h1m2 0h1m5 0h1m0 0h1m1 0h1m-25 1h1m2 0h1m0 0h1m3 0h1m3 0h1m-10 1h1m0 0h1m5 0h1m5 0h1m1 0h1m-6 1h1m-16 1h1m0 0h1m2 0h1m0 0h1m2 0h1m3 0h1m-8 3h1" stroke="#000" stroke-opacity="0.7" stroke-width="1" fill="none"/>
<path d="M55 405.5h1m-10 3h1m-11 2h1m3 1h1m2 1h1m-5 1h1m1 0h1m0 0h1m-3 1h1m8 0h1m1 0h1m-5 1h1m1 0h1m-13 1h1m5 0h1m0 0h1m1 0h1m2 0h1m-12 1h1m3 0h1m0 0h1m1 0h1m7 0h1m0 0h1m1 0h1m-19 1h1m1 0h1m3 0h1m2 0h1m1 0h1m3 0h1m1 0h1m3 0h1m-23 1h1m0 0h1m0 0h1m5 0h1m0 0h1m3 0h1m0 0h1m0 0h1m-14 1h1m0 0h1m0 0h1m2 0h1m0 0h1m1 0h1m0 0h1m1 0h1m1 0h1m0 0h1m5 0h1m0 0h1m-25 1h1m1 0h1m0 0h1m3 0h1m0 0h1m0 0h1m1 0h1m0 0h1m0 0h1m0 0h1m8 0h1m-22 1h1m2 0h1m0 0h1m2 0h1m0 0h1m0 0h1m1 0h1m1 0h1m3 0h1m-16 1h1m0 0h1m1 0h1m0 0h1m1 0h1m0 0h1m1 0h1m13 0h1m-26 1h1m0 0h1m0 0h1m0 0h1m1 0h1m0 0h1m0 0h1m1 0h1m0 0h1m0 0h1m1 0h1m0 0h1m1 0h1m2 0h1m-17 1h1m0 0h1m0 0h1m0 0h1m0 0h1m1 0h1m3 0h1m2 0h1m-20 1h1m2 0h1m0 0h1m0 0h1m0 0h1m0 0h1m2 0h1m1 0h1m1 0h1m0 0h1m0 0h1m1 0h1m4 0h1m-23 1h1m4 0h1m1 0h1m0 0h1m0 0h1m1 0h1m0 0h1m0 0h1m0 0h1m0 0h1m1 0h1m6 0h1m-26 1h1m0 0h1m1 0h1m3 0h1m0 0h1m1 0h1m1 0h1m0 0h1m0 0h1m0 0h1m2 0h1m0 0h1m0 0h1m-18 1h1m3 0h1m1 0h1m2 0h1m0 0h1m0 0h1m0 0h1m0 0h1m1 0h1m-8 1h1m0 0h1m2 0h1m0 0h1m0 0h1m4 0h1m1 0h1m-24 1h1m0 0h1m1 0h1m4 0h1m2 0h1m4 0h1m0 0h1m3 0h1m0 0h1m-24 1h1m0 0h1m0 0h1m1 0h1m2 0h1m0 0h1m0 0h1m0 0h1m2 0h1m3 0h1m4 0h1m2 0h1m-23 1h1m6 0h1m0 0h1m9 0h1m0 0h1m2 0h1m0 0h1m-18 1h1m14 0h1" stroke="#000" stroke-opacity="0.85" stroke-width="1" fill="none"/>
<path d="M99 408.5h1m-5 1h1m4 0h1m0 0h1m1 0h1m-8 1h1m2 0h1m0 0h1m0 0h1m0 0h1m1 0h1m0 0h1m-7 1h1m0 0h1m0 0h1m0 0h1m0 0h1m-12 1h1m1 0h1m0 0h1m0 0h1m0 0h1m0 0h1m0 0h1m0 0h1m0 0h1m0 0h1m0 0h1m1 0h1m-14 1h1m0 0h1m0 0h1m0 0h1m0 0h1m0 0h1m0 0h1m0 0h1m0 0h1m0 0h1m0 0h1m0 0h1m0 0h1m1 0h1m3 0h1m-19 1h1m2 0h1m0 0h1m0 0h1m0 0h1m0 0h1m0 0h1m0 0h1m0 0h1m0 0h1m0 0h1m0 0h1m2 0h1m-20 1h1m0 0h1m1 0h1m0 0h1m0 0h1m0 0h1m0 0h1m0 0h1m0 0h1m0 0h1m0 0h1m0 0h1m0 0h1m0 0h1m0 0h1m0 0h1m2 0h1m-19 1h1m0 0h1m0 0h1m0 0h1m0 0h1m0 0h1m0 0h1m0 0h1m0 0h1m0 0h1m0 0h1m0 0h1m0 0h1m1 0h1m-19 1h1m0 0h1m2 0h1m1 0h1m0 0h1m0 0h1m0 0h1m0 0h1m0 0h1m0 0h1m0 0h1m0 0h1m0 0h1m0 0h1m0 0h1m0 0h1m0 0h1m0 0h1m-17 1h1m0 0h1m0 0h1m0 0h1m0 0h1m0 0h1m0 0h1m0 0h1m0 0h1m0 0h1m0 0h1m0 0h1m0 0h1m4 0h1m-20 1h1m1 0h1m0 0h1m0 0h1m0 0h1m0 0h1m0 0h1m0 0h1m0 0h1m0 0h1m0 0h1m0 0h1m0 0h1m2 0h1m-14 1h1m0 0h1m0 0h1m0 0h1m0 0h1m0 0h1m0 0h1m0 0h1m0 0h1m4 0h1m-16 1h1m0 0h1m0 0h1m0 0h1m0 0h1m0 0h1m0 0h1m0 0h1m0 0h1m3 0h1m0 0h1m-12 1h1m0 0h1m1 0h1m0 0h1m0 0h1m0 0h1m0 0h1m-1 1h1m1 0h1m-6 1h1" stroke="#000" stroke-opacity="1.0" stroke-width="1" fill="none"/>
<path d="M182 359.5h1m-3 3h1m22 0h1m13 10h1m25 1h1m2 0h1m-3 5h1m-22 2h1m-34 2h1m48 2h1m-55 2h1m-12 6h1m38 2h1m27 5h1m-28 1h1m-42 1h1m8 7h1m57 0h1m-8 2h1m-53 3h1m-4 1h1m49 0h1m-38 7h1m-8 3h1m22 0h1m7 0h1m-21 2h1m-8 4h1m-9 1h1" stroke="#000" stroke-opacity="0.35" stroke-width="1" fill="none"/>
<path d="M249 388.5h1m-28 3h1m9 0h1m6 0h1m-3 2h1m0 0h1m4 0h1m-16 1h1m2 0h1m0 0h1m-7 1h1m12 0h1m-9 1h1m1 0h1m1 0h1m0 0h1m7 0h1m2 0h1m-13 2h1m-7 1h1m10 0h1m1 0h1m-11 1h1m9 0h1m2 0h1m5 0h1m-30 1h1m23 0h1m7 0h1m-29 1h1m12 0h1m0 0h1m4 0h1m-11 1h1m1 0h1m0 0h1m1 0h1m-7 1h1m9 0h1m-2 1h1m4 0h1m3 1h1m-30 1h1m9 0h1m1 0h1m13 0h1m-9 1h1m-6 1h1m2 0h1m12 0h1m3 0h1m-15 1h1m8 0h1m-27 2h1m0 0h1m18 1h1m7 0h1m-17 3h1m8 1h1" stroke="#000" stroke-opacity="0.4" stroke-width="1" fill="none"/>
<path d="M204 372.5h1m7 1h1m-4 3h1m-23 1h1m22 0h1m-11 1h1m4 0h1m15 0h1m-22 1h1m4 0h1m-17 1h1m16 0h1m5 1h1m-13 1h1m3 0h1m11 0h1m1 0h1m1 0h1m16 0h1m-32 1h1m0 0h1m3 0h1m5 0h1m1 0h1m-29 1h1m6 0h1m3 0h1m2 0h1m8 0h1m0 0h1m1 0h1m0 0h1m-32 1h1m10 0h1m6 0h1m5 0h1m0 0h1m0 0h1m2 0h1m2 0h1m-19 1h1m4 0h1m7 0h1m3 0h1m4 0h1m-28 1h1m3 0h1m0 0h1m4 0h1m0 0h1m1 0h1m1 0h1m0 0h1m0 0h1m4 0h1m-24 1h1m6 0h1m0 0h1m1 0h1m0 0h1m1 0h1m3 0h1m15 0h1m-30 1h1m0 0h1m1 0h1m0 0h1m1 0h1m1 0h1m2 0h1m3 0h1m12 0h1m1 0h1m-32 1h1m0 0h1m1 0h1m4 0h1m2 0h1m2 0h1m2 0h1m1 0h1m0 0h1m2 0h1m-29 1h1m10 0h1m0 0h1m0 0h1m1 0h1m0 0h1m3 0h1m1 0h1m4 0h1m4 0h1m2 0h1m-38 1h1m5 0h1m7 0h1m1 0h1m3 0h1m6 0h1m9 0h1m-35 1h1m5 0h1m0 0h1m8 0h1m2 0h1m0 0h1m4 0h1m0 0h1m-23 1h1m0 0h1m0 0h1m0 0h1m0 0h1m0 0h1m0 0h1m2 0h1m8 0h1m-25 1h1m2 0h1m8 0h1m1 0h1m1 0h1m1 0h1m3 0h1m3 0h1m0 0h1m-24 1h1m3 0h1m3 0h1m0 0h1m9 0h1m1 0h1m0 0h1m1 0h1m14 0h1m-40 1h1m1 0h1m0 0h1m1 0h1m0 0h1m2 0h1m2 0h1m4 0h1m2 0h1m7 0h1m1 0h1m10 0h1m-44 1h1m2 0h1m15 0h1m-24 1h1m6 0h1m3 0h1m1 0h1m0 0h1m0 0h1m2 0h1m3 0h1m0 0h1m3 0h1m8 0h1m-35 1h1m10 0h1m5 0h1m4 0h1m0 0h1m-19 1h1m7 0h1m0 0h1m12 0h1m-21 1h1m52 0h1m-54 1h1m4 0h1m5 0h1m10 0h1m5 0h1m-29 1h1m7 0h1m8 0h1m-16 1h1m1 0h1m18 0h1m-22 1h1m5 0h1m17 0h1m-20 1h1m6 0h1m6 0h1m10 0h1m-34 2h1m8 0h1m-8 1h1m6 2h1m3 1h1" stroke="#000" stroke-opacity="0.5" stroke-width="1" fill="none"/>
<path d="M207 407.5h1m2 0h1m4 0h1m13 0h1m0 0h1m-20 1h1m10 0h1m4 0h1m2 0h1m3 0h1m14 0h1m-44 1h1m3 0h1m5 0h1m10 0h1m0 0h1m0 0h1m-23 1h1m5 0h1m8 0h1m5 0h1m2 0h1m13 0h1m-37 1h1m0 0h1m6 0h1m7 0h1m6 0h1m7 0h1m2 0h1m2 0h1m2 0h1m-36 1h1m6 0h1m8 0h1m1 0h1m3 0h1m-31 1h1m1 0h1m1 0h1m7 0h1m9 0h1m7 0h1m3 0h1m3 0h1m2 0h1m-37 1h1m14 0h1m7 0h1m5 0h1m1 0h1m0 0h1m-40 1h1m2 0h1m26 0h1m1 0h1m1 0h1m0 0h1m0 0h1m0 0h1m1 0h1m0 0h1m0 0h1m-31 1h1m3 0h1m3 0h1m1 0h1m8 0h1m0 0h1m11 0h1m-32 1h1m12 0h1m1 0h1m0 0h1m4 0h1m4 0h1m0 0h1m1 0h1m-34 1h1m2 0h1m1 0h1m6 0h1m0 0h1m5 0h1m2 0h1m2 0h1m0 0h1m2 0h1m0 0h1m1 0h1m0 0h1m4 0h1m0 0h1m-43 1h1m9 0h1m4 0h1m0 0h1m1 0h1m1 0h1m0 0h1m0 0h1m1 0h1m0 0h1m0 0h1m1 0h1m1 0h1m2 0h1m0 0h1m-45 1h1m6 0h1m6 0h1m10 0h1m3 0h1m0 0h1m0 0h1m2 0h1m1 0h1m1 0h1m0 0h1m-30 1h1m6 0h1m3 0h1m1 0h1m1 0h1m1 0h1m1 0h1m0 0h1m0 0h1m0 0h1m2 0h1m0 0h1m2 0h1m0 0h1m1 0h1m0 0h1m1 0h1m-34 1h1m1 0h1m2 0h1m5 0h1m4 0h1m2 0h1m1 0h1m3 0h1m0 0h1m0 0h1m1 0h1m4 0h1m-46 1h1m5 0h1m5 0h1m12 0h1m0 0h1m2 0h1m0 0h1m2 0h1m0 0h1m0 0h1m4 0h1m0 0h1m3 0h1m-44 1h1m3 0h1m2 0h1m0 0h1m2 0h1m3 0h1m3 0h1m0 0h1m3 0h1m0 0h1m3 0h1m0 0h1m2 0h1m4 0h1m-37 1h1m0 0h1m0 0h1m1 0h1m0 0h1m1 0h1m3 0h1m3 0h1m1 0h1m0 0h1m1 0h1m2 0h1m0 0h1m2 0h1m0 0h1m1 0h1m5 0h1m3 0h1m-46 1h1m2 0h1m1 0h1m8 0h1m3 0h1m1 0h1m1 0h1m1 0h1m3 0h1m1 0h1m0 0h1m0 0h1m1 0h1m-28 1h1m0 0h1m5 0h1m1 0h1m0 0h1m0 0h1m1 0h1m0 0h1m2 0h1m0 0h1m0 0h1m0 0h1m0 0h1m-30 1h1m5 0h1m0 0h1m0 0h1m1 0h1m1 0h1m0 0h1m4 0h1m1 0h1m0 0h1m0 0h1m2 0h1m2 0h1m5 0h1m-29 1h1m1 0h1m5 0h1m3 0h1m0 0h1m0 0h1m0 0h1m0 0h1m-19 1h1m0 0h1m0 0h1m2 0h1m0 0h1m8 0h1m1 0h1m2 0h1m2 0h1m4 0h1m-32 1h1m4 0h1m4 0h1m5 0h1m2 0h1m1 0h1m4 0h1m-29 1h1m6 0h1m2 0h1m2 0h1m4 0h1m-13 1h1m5 0h1m3 0h1m-9 1h1m7 0h1m6 0h1" stroke="#000" stroke-opacity="0.6" stroke-width="1" fill="none"/>
<path d="M207 377.5h1m3 0h1m-1 1h1m-3 1h1m0 0h1m2 0h1m-8 1h1m1 0h1m1 0h1m-9 2h1m6 0h1m0 0h1m-6 1h1m7 0h1m-14 1h1m7 0h1m0 0h1m0 0h1m-4 1h1m0 0h1m5 0h1m-10 1h1m4 0h1m1 0h1m0 0h1m2 0h1m-13 1h1m1 0h1m0 0h1m6 0h1m2 0h1m1 0h1m-20 1h1m0 0h1m0 0h1m4 0h1m3 0h1m0 0h1m1 0h1m5 0h1m-22 1h1m5 0h1m3 0h1m0 0h1m3 0h1m1 0h1m-16 1h1m0 0h1m3 0h1m0 0h1m0 0h1m1 0h1m0 0h1m2 0h1m0 0h1m0 0h1m2 0h1m-13 1h1m0 0h1m1 0h1m0 0h1m1 0h1m1 0h1m-15 1h1m2 0h1m1 0h1m4 0h1m1 0h1m0 0h1m0 0h1m0 0h1m-14 1h1m0 0h1m2 0h1m3 0h1m0 0h1m0 0h1m-12 1h1m1 0h1m1 0h1m1 0h1m1 0h1m1 0h1m1 0h1m3 0h1m-18 1h1m6 0h1m0 0h1m1 0h1m2 0h1m-10 1h1m8 0h1m1 0h1m-11 1h1m1 0h1m7 0h1m-8 1h1m0 0h1m-4 1h1m-4 1h1m2 1h1m-5 3h1m-30 2h1m11 0h1m3 0h1m2 0h1m4 0h1m-26 1h1m0 0h1m0 0h1m11 0h1m4 0h1m5 0h1m7 0h1m-32 1h1m2 0h1m10 0h1m2 0h1m1 0h1m7 0h1m44 0h1m-75 1h1m12 0h1m11 0h1m42 0h1m-58 1h1m4 0h1m1 0h1m5 0h1m37 0h1m6 0h1m0 0h1m0 0h1m0 0h1m3 0h1m-74 1h1m0 0h1m6 0h1m11 0h1m0 0h1m43 0h1m7 0h1m-74 1h1m10 0h1m13 0h1m41 0h1m0 0h1m0 0h1m0 0h1m0 0h1m0 0h1m0 0h1m3 0h1m-78 1h1m0 0h1m2 0h1m17 0h1m2 0h1m30 0h1m3 0h1m0 0h1m0 0h1m0 0h1m0 0h1m0 0h1m0 0h1m0 0h1m0 0h1m0 0h1m0 0h1m0 0h1m0 0h1m0 0h1m1 0h1m-76 1h1m6 0h1m11 0h1m1 0h1m4 0h1m33 0h1m1 0h1m0 0h1m0 0h1m0 0h1m0 0h1m0 0h1m0 0h1m0 0h1m0 0h1m0 0h1m0 0h1m0 0h1m0 0h1m-77 1h1m8 0h1m4 0h1m0 0h1m12 0h1m35 0h1m0 0h1m0 0h1m0 0h1m0 0h1m0 0h1m0 0h1m0 0h1m0 0h1m0 0h1m0 0h1m0 0h1m0 0h1m2 0h1m-80 1h1m0 0h1m2 0h1m1 0h1m2 0h1m4 0h1m0 0h1m1 0h1m8 0h1m1 0h1m30 0h1m3 0h1m0 0h1m0 0h1m0 0h1m0 0h1m0 0h1m0 0h1m0 0h1m0 0h1m0 0h1m0 0h1m0 0h1m0 0h1m-67 1h1m2 0h1m3 0h1m2 0h1m41 0h1m0 0h1m0 0h1m0 0h1m0 0h1m0 0h1m0 0h1m0 0h1m0 0h1m0 0h1m0 0h1m0 0h1m0 0h1m5 0h1m-80 1h1m4 0h1m0 0h1m6 0h1m2 0h1m0 0h1m4 0h1m2 0h1m33 0h1m1 0h1m0 0h1m0 0h1m0 0h1m0 0h1m0 0h1m0 0h1m0 0h1m0 0h1m0 0h1m0 0h1m0 0h1m1 0h1m0 0h1m-75 1h1m1 0h1m1 0h1m6 0h1m5 0h1m1 0h1m2 0h1m0 0h1m2 0h1m27 0h1m1 0h1m0 0h1m0 0h1m0 0h1m0 0h1m0 0h1m0 0h1m0 0h1m0 0h1m0 0h1m0 0h1m0 0h1m0 0h1m0 0h1m0 0h1m0 0h1m-72 1h1m4 0h1m3 0h1m0 0h1m3 0h1m9 0h1m31 0h1m0 0h1m0 0h1m0 0h1m0 0h1m0 0h1m0 0h1m0 0h1m0 0h1m0 0h1m0 0h1m1 0h1m0 0h1m1 0h1m-69 1h1m0 0h1m0 0h1m12 0h1m5 0h1m22 0h1m3 0h1m1 0h1m0 0h1m0 0h1m0 0h1m0 0h1m0 0h1m0 0h1m0 0h1m0 0h1m0 0h1m0 0h1m0 0h1m0 0h1m0 0h1m-66 1h1m7 0h1m9 0h1m2 0h1m1 0h1m7 0h1m14 0h1m3 0h1m0 0h1m0 0h1m0 0h1m0 0h1m0 0h1m0 0h1m0 0h1m0 0h1m0 0h1m0 0h1m0 0h1m0 0h1m0 0h1m0 0h1m0 0h1m-65 1h1m6 0h1m4 0h1m1 0h1m2 0h1m0 0h1m0 0h1m2 0h1m9 0h1m1 0h1m3 0h1m5 0h1m0 0h1m0 0h1m0 0h1m0 0h1m0 0h1m0 0h1m0 0h1m0 0h1m0 0h1m0 0h1m0 0h1m0 0h1m0 0h1m0 0h1m0 0h1m0 0h1m0 0h1m0 0h1m-60 1h1m3 0h1m5 0h1m2 0h1m2 0h1m1 0h1m1 0h1m6 0h1m0 0h1m0 0h1m1 0h1m0 0h1m0 0h1m0 0h1m1 0h1m0 0h1m0 0h1m1 0h1m0 0h1m0 0h1m0 0h1m0 0h1m1 0h1m0 0h1m0 0h1m0 0h1m0 0h1m0 0h1m0 0h1m0 0h1m0 0h1m2 0h1m5 0h1m-68 1h1m2 0h1m4 0h1m3 0h1m2 0h1m1 0h1m4 0h1m1 0h1m3 0h1m1 0h1m0 0h1m0 0h1m0 0h1m0 0h1m0 0h1m0 0h1m1 0h1m0 0h1m0 0h1m1 0h1m0 0h1m0 0h1m0 0h1m0 0h1m0 0h1m0 0h1m0 0h1m0 0h1m0 0h1m0 0h1m0 0h1m0 0h1m0 0h1m0 0h1m0 0h1m1 0h1m-62 1h1m3 0h1m4 0h1m6 0h1m5 0h1m0 0h1m7 0h1m0 0h1m0 0h1m0 0h1m0 0h1m0 0h1m0 0h1m0 0h1m0 0h1m0 0h1m0 0h1m1 0h1m0 0h1m0 0h1m0 0h1m0 0h1m0 0h1m0 0h1m0 0h1m0 0h1m0 0h1m0 0h1m0 0h1m0 0h1m0 0h1m-54 1h1m3 0h1m1 0h1m3 0h1m2 0h1m0 0h1m0 0h1m0 0h1m0 0h1m0 0h1m4 0h1m4 0h1m0 0h1m0 0h1m0 0h1m0 0h1m0 0h1m0 0h1m0 0h1m0 0h1m0 0h1m0 0h1m1 0h1m0 0h1m0 0h1m1 0h1m0 0h1m0 0h1m1 0h1m0 0h1m0 0h1m1 0h1m-51 1h1m2 0h1m0 0h1m2 0h1m0 0h1m0 0h1m10 0h1m1 0h1m3 0h1m1 0h1m0 0h1m0 0h1m0 0h1m0 0h1m0 0h1m0 0h1m1 0h1m0 0h1m0 0h1m1 0h1m0 0h1m0 0h1m0 0h1m3 0h1m0 0h1m-54 1h1m0 0h1m4 0h1m5 0h1m1 0h1m0 0h1m0 0h1m1 0h1m1 0h1m4 0h1m1 0h1m3 0h1m1 0h1m0 0h1m0 0h1m0 0h1m1 0h1m0 0h1m0 0h1m0 0h1m0 0h1m3 0h1m1 0h1m0 0h1m0 0h1m-46 1h1m1 0h1m2 0h1m0 0h1m0 0h1m1 0h1m0 0h1m1 0h1m8 0h1m3 0h1m0 0h1m3 0h1m3 0h1m1 0h1m0 0h1m-35 1h1m0 0h1m3 0h1m0 0h1m4 0h1m2 0h1m0 0h1m-19 1h1m4 0h1m0 0h1m2 0h1m1 0h1m3 0h1m2 0h1m3 0h1m0 0h1m-30 1h1m3 0h1m2 0h1m9 0h1m0 0h1m0 0h1m0 0h1m-3 1h1" stroke="#000" stroke-opacity="1.0" stroke-width="1" fill="none"/>
<path d="M360 357.5h1m-56 1h1m80 1h1m-16 9h1m-48 7h1m38 1h1m1 1h1m-29 3h1m2 2h1m36 3h1m-76 1h1m68 3h1m-59 5h1m18 0h1m13 3h1m-41 4h1m36 0h1m10 1h1m-28 8h1m1 2h1m-10 5h1m8 3h1m18 1h1m-26 2h1m-8 2h1m5 3h1m41 1h1m-50 1h1m26 1h1m0 1h1" stroke="#000" stroke-opacity="0.35" stroke-width="1" fill="none"/>
<path d="M365 390.5h1m-20 2h1m13 0h1m7 0h1m-27 1h1m5 0h1m9 0h1m1 0h1m1 0h1m10 0h1m-28 1h1m19 0h1m1 0h1m4 0h1m-15 1h1m1 0h1m0 0h1m0 0h1m1 0h1m-20 1h1m3 0h1m4 0h1m3 0h1m0 0h1m4 0h1m-27 1h1m10 0h1m1 0h1m3 0h1m0 0h1m3 0h1m0 0h1m1 0h1m0 0h1m2 0h1m-12 1h1m0 0h1m0 0h1m0 0h1m1 0h1m4 0h1m0 0h1m-21 1h1m0 0h1m3 0h1m1 0h1m0 0h1m0 0h1m1 0h1m0 0h1m2 0h1m0 0h1m9 0h1m-29 1h1m0 0h1m0 0h1m4 0h1m0 0h1m0 0h1m1 0h1m1 0h1m1 0h1m0 0h1m1 0h1m5 0h1m-34 1h1m0 0h1m0 0h1m0 0h1m4 0h1m0 0h1m2 0h1m1 0h1m0 0h1m0 0h1m3 0h1m0 0h1m1 0h1m6 0h1m6 0h1m-38 1h1m7 0h1m4 0h1m0 0h1m0 0h1m4 0h1m2 0h1m0 0h1m2 0h1m-21 1h1m2 0h1m3 0h1m1 0h1m2 0h1m0 0h1m0 0h1m1 0h1m0 0h1m4 0h1m-22 1h1m1 0h1m0 0h1m5 0h1m0 0h1m2 0h1m6 0h1m1 0h1m-36 1h1m8 0h1m6 0h1m5 0h1m0 0h1m3 0h1m1 0h1m1 0h1m4 0h1m-15 1h1m9 0h1m-26 1h1m1 0h1m0 0h1m1 0h1m4 0h1m4 0h1m2 0h1m-14 1h1m12 0h1m12 0h1m-18 1h1m1 0h1m-16 1h1m3 3h1m-8 3h1" stroke="#000" stroke-opacity="0.6" stroke-width="1" fill="none"/>
<path d="M345 369.5h1m-6 4h1m3 0h1m10 2h1m0 2h1m-29 1h1m-6 1h1m8 0h1m21 0h1m-24 1h1m0 0h1m0 0h1m-10 1h1m7 0h1m2 0h1m1 0h1m0 0h1m0 0h1m7 0h1m-22 1h1m3 0h1m1 0h1m1 0h1m0 0h1m1 0h1m0 0h1m-15 1h1m0 0h1m0 0h1m0 0h1m5 0h1m1 0h1m1 0h1m0 0h1m2 0h1m10 0h1m-26 1h1m0 0h1m1 0h1m1 0h1m1 0h1m3 0h1m2 0h1m2 0h1m3 0h1m-30 1h1m7 0h1m2 0h1m7 0h1m0 0h1m4 0h1m0 0h1m0 0h1m-28 1h1m0 0h1m1 0h1m0 0h1m2 0h1m3 0h1m2 0h1m0 0h1m2 0h1m1 0h1m2 0h1m0 0h1m2 0h1m4 0h1m-36 1h1m2 0h1m1 0h1m3 0h1m4 0h1m2 0h1m0 0h1m0 0h1m1 0h1m1 0h1m0 0h1m0 0h1m0 0h1m4 0h1m1 0h1m6 0h1m-45 1h1m2 0h1m3 0h1m0 0h1m2 0h1m1 0h1m0 0h1m3 0h1m1 0h1m0 0h1m0 0h1m1 0h1m0 0h1m0 0h1m0 0h1m2 0h1m1 0h1m1 0h1m18 0h1m-52 1h1m1 0h1m3 0h1m4 0h1m6 0h1m0 0h1m0 0h1m2 0h1m3 0h1m0 0h1m2 0h1m0 0h1m0 0h1m2 0h1m5 0h1m-47 1h1m6 0h1m0 0h1m1 0h1m5 0h1m1 0h1m0 0h1m2 0h1m1 0h1m0 0h1m4 0h1m2 0h1m0 0h1m1 0h1m0 0h1m1 0h1m0 0h1m3 0h1m-46 1h1m2 0h1m12 0h1m0 0h1m6 0h1m0 0h1m0 0h1m2 0h1m0 0h1m1 0h1m1 0h1m0 0h1m0 0h1m0 0h1m0 0h1m2 0h1m2 0h1m0 0h1m1 0h1m-42 1h1m2 0h1m2 0h1m2 0h1m0 0h1m0 0h1m0 0h1m0 0h1m0 0h1m0 0h1m0 0h1m0 0h1m0 0h1m1 0h1m0 0h1m1 0h1m2 0h1m1 0h1m4 0h1m0 0h1m4 0h1m0 0h1m0 0h1m0 0h1m1 0h1m-51 1h1m0 0h1m4 0h1m0 0h1m3 0h1m1 0h1m1 0h1m1 0h1m0 0h1m0 0h1m3 0h1m4 0h1m0 0h1m0 0h1m0 0h1m1 0h1m0 0h1m0 0h1m2 0h1m9 0h1m-52 1h1m3 0h1m12 0h1m3 0h1m1 0h1m1 0h1m0 0h1m1 0h1m0 0h1m1 0h1m0 0h1m1 0h1m2 0h1m1 0h1m0 0h1m0 0h1m1 0h1m1 0h1m0 0h1m-37 1h1m0 0h1m4 0h1m1 0h1m0 0h1m3 0h1m0 0h1m0 0h1m2 0h1m1 0h1m1 0h1m0 0h1m0 0h1m1 0h1m0 0h1m0 0h1m3 0h1m0 0h1m1 0h1m0 0h1m2 0h1m1 0h1m1 0h1m0 0h1m0 0h1m-59 1h1m2 0h1m0 0h1m13 0h1m3 0h1m1 0h1m2 0h1m0 0h1m0 0h1m0 0h1m0 0h1m0 0h1m0 0h1m0 0h1m2 0h1m3 0h1m3 0h1m2 0h1m1 0h1m6 0h1m-55 1h1m1 0h1m0 0h1m1 0h1m5 0h1m1 0h1m5 0h1m2 0h1m3 0h1m0 0h1m2 0h1m3 0h1m0 0h1m0 0h1m0 0h1m0 0h1m0 0h1m2 0h1m1 0h1m-48 1h1m1 0h1m17 0h1m0 0h1m4 0h1m1 0h1m6 0h1m2 0h1m3 0h1m0 0h1m1 0h1m0 0h1m4 0h1m4 0h1m3 0h1m2 0h1m-60 1h1m2 0h1m3 0h1m2 0h1m3 0h1m3 0h1m2 0h1m0 0h1m1 0h1m0 0h1m0 0h1m0 0h1m0 0h1m0 0h1m0 0h1m1 0h1m2 0h1m0 0h1m1 0h1m0 0h1m0 0h1m1 0h1m1 0h1m3 0h1m0 0h1m0 0h1m-55 1h1m0 0h1m2 0h1m2 0h1m0 0h1m4 0h1m6 0h1m2 0h1m3 0h1m1 0h1m0 0h1m0 0h1m2 0h1m0 0h1m0 0h1m0 0h1m0 0h1m0 0h1m1 0h1m0 0h1m0 0h1m0 0h1m1 0h1m6 0h1m0 0h1m4 0h1m0 0h1m0 0h1m0 0h1m0 0h1m-64 1h1m0 0h1m1 0h1m3 0h1m3 0h1m12 0h1m8 0h1m0 0h1m3 0h1m0 0h1m2 0h1m1 0h1m8 0h1m9 0h1m0 0h1m0 0h1m-67 1h1m1 0h1m3 0h1m12 0h1m0 0h1m0 0h1m0 0h1m3 0h1m3 0h1m2 0h1m2 0h1m0 0h1m1 0h1m1 0h1m6 0h1m0 0h1m5 0h1m0 0h1m1 0h1m7 0h1m1 0h1m-67 1h1m0 0h1m2 0h1m11 0h1m2 0h1m5 0h1m3 0h1m6 0h1m1 0h1m1 0h1m0 0h1m1 0h1m0 0h1m6 0h1m2 0h1m2 0h1m1 0h1m2 0h1m1 0h1m-57 1h1m1 0h1m2 0h1m11 0h1m1 0h1m3 0h1m2 0h1m1 0h1m0 0h1m2 0h1m1 0h1m0 0h1m3 0h1m7 0h1m4 0h1m0 0h1m6 0h1m0 0h1m-70 1h1m3 0h1m3 0h1m1 0h1m0 0h1m2 0h1m1 0h1m2 0h1m1 0h1m5 0h1m1 0h1m1 0h1m0 0h1m0 0h1m1 0h1m1 0h1m1 0h1m4 0h1m1 0h1m0 0h1m5 0h1m2 0h1m1 0h1m1 0h1m4 0h1m-65 1h1m7 0h1m0 0h1m1 0h1m2 0h1m2 0h1m16 0h1m8 0h1m2 0h1m9 0h1m0 0h1m5 0h1m-54 1h1m8 0h1m0 0h1m1 0h1m5 0h1m2 0h1m0 0h1m1 0h1m0 0h1m3 0h1m8 0h1m2 0h1m4 0h1m6 0h1m2 0h1m0 0h1m2 0h1m-66 1h1m1 0h1m3 0h1m0 0h1m0 0h1m0 0h1m0 0h1m3 0h1m6 0h1m0 0h1m1 0h1m3 0h1m3 0h1m0 0h1m5 0h1m2 0h1m0 0h1m0 0h1m2 0h1m1 0h1m5 0h1m3 0h1m-68 1h1m7 0h1m4 0h1m12 0h1m0 0h1m0 0h1m2 0h1m2 0h1m3 0h1m0 0h1m4 0h1m3 0h1m0 0h1m4 0h1m1 0h1m4 0h1m2 0h1m-65 1h1m4 0h1m1 0h1m2 0h1m7 0h1m1 0h1m6 0h1m0 0h1m7 0h1m1 0h1m4 0h1m1 0h1m2 0h1m0 0h1m2 0h1m2 0h1m0 0h1m0 0h1m7 0h1m4 0h1m-64 1h1m2 0h1m1 0h1m1 0h1m6 0h1m1 0h1m5 0h1m2 0h1m0 0h1m3 0h1m5 0h1m0 0h1m10 0h1m1 0h1m0 0h1m7 0h1m1 0h1m0 0h1m0 0h1m1 0h1m1 0h1m-73 1h1m0 0h1m0 0h1m2 0h1m0 0h1m0 0h1m0 0h1m2 0h1m0 0h1m3 0h1m1 0h1m1 0h1m6 0h1m1 0h1m3 0h1m3 0h1m4 0h1m0 0h1m4 0h1m1 0h1m0 0h1m1 0h1m3 0h1m5 0h1m2 0h1m1 0h1m-69 1h1m1 0h1m0 0h1m1 0h1m4 0h1m2 0h1m4 0h1m1 0h1m8 0h1m0 0h1m0 0h1m0 0h1m0 0h1m3 0h1m4 0h1m0 0h1m2 0h1m0 0h1m3 0h1m1 0h1m4 0h1m11 0h1m0 0h1m0 0h1m0 0h1m-75 1h1m5 0h1m0 0h1m0 0h1m0 0h1m0 0h1m9 0h1m0 0h1m0 0h1m5 0h1m4 0h1m4 0h1m1 0h1m0 0h1m2 0h1m1 0h1m0 0h1m3 0h1m2 0h1m0 0h1m5 0h1m0 0h1m2 0h1m4 0h1m1 0h1m-72 1h1m6 0h1m3 0h1m2 0h1m1 0h1m2 0h1m2 0h1m1 0h1m1 0h1m1 0h1m21 0h1m0 0h1m4 0h1m1 0h1m0 0h1m0 0h1m5 0h1m-63 1h1m1 0h1m0 0h1m8 0h1m0 0h1m1 0h1m1 0h1m0 0h1m2 0h1m2 0h1m3 0h1m2 0h1m3 0h1m0 0h1m0 0h1m3 0h1m2 0h1m0 0h1m2 0h1m4 0h1m0 0h1m9 0h1m-66 1h1m2 0h1m7 0h1m3 0h1m0 0h1m3 0h1m9 0h1m1 0h1m4 0h1m0 0h1m1 0h1m3 0h1m2 0h1m2 0h1m0 0h1m3 0h1m5 0h1m-64 1h1m5 0h1m3 0h1m0 0h1m7 0h1m0 0h1m0 0h1m7 0h1m4 0h1m5 0h1m3 0h1m5 0h1m3 0h1m3 0h1m-61 1h1m0 0h1m2 0h1m4 0h1m10 0h1m4 0h1m2 0h1m2 0h1m3 0h1m2 0h1m1 0h1m6 0h1m6 0h1m1 0h1m1 0h1m1 0h1m-61 1h1m2 0h1m4 0h1m3 0h1m7 0h1m2 0h1m3 0h1m1 0h1m11 0h1m2 0h1m0 0h1m3 0h1m3 0h1m0 0h1m1 0h1m-46 1h1m2 0h1m6 0h1m3 0h1m1 0h1m1 0h1m2 0h1m4 0h1m8 0h1m8 0h1m-57 1h1m2 0h1m3 0h1m2 0h1m9 0h1m0 0h1m3 0h1m1 0h1m5 0h1m1 0h1m2 0h1m5 0h1m4 0h1m1 0h1m-52 1h1m3 0h1m0 0h1m4 0h1m0 0h1m5 0h1m1 0h1m1 0h1m1 0h1m6 0h1m4 0h1m3 0h1m9 0h1m1 0h1m0 0h1m2 0h1m-54 1h1m1 0h1m1 0h1m0 0h1m26 0h1m5 0h1m6 0h1m0 0h1m0 0h1m0 0h1m0 0h1m-50 1h1m0 0h1m0 0h1m1 0h1m1 0h1m11 0h1m0 0h1m0 0h1m0 0h1m6 0h1m4 0h1m2 0h1m2 0h1m-40 1h1m0 0h1m0 0h1m2 0h1m10 0h1m10 0h1m11 0h1m5 0h1m2 0h1m-47 1h1m1 0h1m10 0h1m2 0h1m0 0h1m0 0h1m0 0h1m9 0h1m0 0h1m-35 1h1m7 0h1m2 0h1m0 0h1m4 0h1m0 0h1m0 0h1m2 0h1m5 0h1m2 0h1m1 0h1m0 0h1m1 0h1m3 0h1m-40 1h1m2 0h1m3 0h1m0 0h1m8 0h1m3 0h1m2 0h1m0 0h1m8 0h1m0 0h1m0 0h1m4 0h1m-43 1h1m2 0h1m0 0h1m0 0h1m0 0h1m3 0h1m3 0h1m2 0h1m0 0h1m1 0h1m2 0h1m0 0h1m-22 1h1m5 0h1m5 0h1m11 0h1m1 0h1m3 0h1m5 0h1m0 0h1m-36 1h1m4 0h1m3 0h1m4 0h1m2 0h1m0 0h1m0 0h1m3 0h1m4 0h1m0 0h1m-29 1h1m0 0h1m1 0h1m4 0h1m2 0h1m1 0h1m1 0h1m1 0h1m8 0h1m2 0h1m2 0h1m1 0h1m-40 1h1m7 0h1m1 0h1m1 0h1m14 0h1m4 0h1m5 0h1" stroke="#000" stroke-opacity="0.7" stroke-width="1" fill="none"/>
<path d="M322 404.5h1m-6 1h1m-9 1h1m2 0h1m-3 1h1m2 1h1m2 0h1m6 0h1m-15 1h1m-3 1h1m9 0h1m2 0h1m-15 1h1m12 0h1m2 0h1m4 0h1m-16 1h1m0 0h1m1 0h1m2 0h1m0 0h1m2 0h1m-20 1h1m5 0h1m0 0h1m1 0h1m0 0h1m4 0h1m1 0h1m0 0h1m5 0h1m-22 1h1m0 0h1m1 0h1m0 0h1m2 0h1m0 0h1m3 0h1m2 0h1m-17 1h1m3 0h1m0 0h1m0 0h1m0 0h1m1 0h1m0 0h1m1 0h1m2 0h1m0 0h1m2 0h1m1 0h1m1 0h1m-27 1h1m3 0h1m3 0h1m0 0h1m0 0h1m0 0h1m1 0h1m1 0h1m0 0h1m3 0h1m1 0h1m-22 1h1m1 0h1m0 0h1m1 0h1m2 0h1m0 0h1m1 0h1m0 0h1m0 0h1m0 0h1m0 0h1m0 0h1m13 0h1m-30 1h1m1 0h1m3 0h1m2 0h1m0 0h1m1 0h1m0 0h1m1 0h1m1 0h1m11 0h1m-31 1h1m0 0h1m0 0h1m1 0h1m1 0h1m0 0h1m0 0h1m2 0h1m0 0h1m0 0h1m1 0h1m0 0h1m0 0h1m0 0h1m0 0h1m0 0h1m0 0h1m1 0h1m13 0h1m-38 1h1m2 0h1m1 0h1m1 0h1m0 0h1m1 0h1m0 0h1m1 0h1m0 0h1m2 0h1m3 0h1m2 0h1m1 0h1m5 0h1m-32 1h1m0 0h1m3 0h1m1 0h1m1 0h1m1 0h1m1 0h1m0 0h1m0 0h1m0 0h1m2 0h1m0 0h1m-22 1h1m0 0h1m0 0h1m2 0h1m0 0h1m0 0h1m1 0h1m0 0h1m1 0h1m0 0h1m0 0h1m0 0h1m0 0h1m1 0h1m3 0h1m0 0h1m0 0h1m0 0h1m0 0h1m6 0h1m-29 1h1m1 0h1m0 0h1m2 0h1m1 0h1m0 0h1m1 0h1m1 0h1m4 0h1m3 0h1m-28 1h1m0 0h1m0 0h1m2 0h1m1 0h1m1 0h1m0 0h1m0 0h1m0 0h1m0 0h1m2 0h1m0 0h1m1 0h1m1 0h1m1 0h1m0 0h1m1 0h1m1 0h1m-30 1h1m0 0h1m0 0h1m0 0h1m0 0h1m0 0h1m0 0h1m2 0h1m0 0h1m0 0h1m0 0h1m0 0h1m0 0h1m0 0h1m0 0h1m0 0h1m1 0h1m0 0h1m0 0h1m1 0h1m4 0h1m0 0h1m-29 1h1m0 0h1m0 0h1m0 0h1m0 0h1m5 0h1m2 0h1m0 0h1m0 0h1m0 0h1m0 0h1m0 0h1m1 0h1m-21 1h1m0 0h1m0 0h1m1 0h1m0 0h1m0 0h1m0 0h1m1 0h1m0 0h1m0 0h1m1 0h1m0 0h1m0 0h1m0 0h1m3 0h1m-19 1h1m1 0h1m0 0h1m2 0h1m0 0h1m0 0h1m2 0h1m3 0h1m0 0h1m3 0h1m-23 1h1m0 0h1m4 0h1m0 0h1m0 0h1m1 0h1m0 0h1m0 0h1m1 0h1m1 0h1m1 0h1m2 0h1m1 0h1m-24 1h1m1 0h1m5 0h1m0 0h1m0 0h1m3 0h1m0 0h1m1 0h1m0 0h1m0 0h1m2 0h1m7 0h1m-31 1h1m0 0h1m2 0h1m5 0h1m0 0h1m2 0h1m3 0h1m2 0h1m5 0h1m0 0h1m0 0h1m-28 1h1m0 0h1m5 0h1m0 0h1m0 0h1m1 0h1m3 0h1m0 0h1m4 0h1m-20 1h1m3 0h1m1 0h1m0 0h1m1 0h1m3 0h1m1 0h1m3 0h1m3 0h1m-19 1h1m12 0h1" stroke="#000" stroke-opacity="0.8" stroke-width="1" fill="none"/>
<path d="M372 405.5h1m0 1h1m1 0h1m-7 2h1m4 1h1m-19 1h1m10 0h1m0 1h1m1 0h1m1 0h1m1 0h1m0 0h1m0 0h1m-20 1h1m4 0h1m2 0h1m2 0h1m1 0h1m1 0h1m0 0h1m2 0h1m-29 1h1m13 0h1m7 0h1m0 0h1m0 0h1m0 0h1m0 0h1m1 0h1m-22 1h1m1 0h1m1 0h1m0 0h1m1 0h1m0 0h1m0 0h1m0 0h1m0 0h1m0 0h1m0 0h1m3 0h1m0 0h1m0 0h1m-32 1h1m10 0h1m6 0h1m0 0h1m1 0h1m2 0h1m0 0h1m1 0h1m1 0h1m4 0h1m-32 1h1m0 0h1m5 0h1m7 0h1m0 0h1m0 0h1m0 0h1m0 0h1m1 0h1m0 0h1m1 0h1m0 0h1m0 0h1m1 0h1m0 0h1m0 0h1m0 0h1m0 0h1m-35 1h1m2 0h1m6 0h1m0 0h1m2 0h1m0 0h1m2 0h1m0 0h1m3 0h1m2 0h1m1 0h1m2 0h1m-33 1h1m5 0h1m2 0h1m0 0h1m2 0h1m1 0h1m0 0h1m0 0h1m0 0h1m0 0h1m0 0h1m0 0h1m0 0h1m0 0h1m0 0h1m0 0h1m0 0h1m3 0h1m0 0h1m0 0h1m1 0h1m-39 1h1m5 0h1m0 0h1m1 0h1m2 0h1m0 0h1m1 0h1m1 0h1m0 0h1m0 0h1m0 0h1m0 0h1m0 0h1m0 0h1m0 0h1m2 0h1m0 0h1m0 0h1m1 0h1m0 0h1m2 0h1m1 0h1m-37 1h1m5 0h1m0 0h1m0 0h1m1 0h1m2 0h1m1 0h1m2 0h1m0 0h1m0 0h1m0 0h1m1 0h1m0 0h1m0 0h1m0 0h1m2 0h1m7 0h1m-44 1h1m9 0h1m0 0h1m1 0h1m1 0h1m0 0h1m0 0h1m1 0h1m0 0h1m0 0h1m0 0h1m1 0h1m0 0h1m3 0h1m3 0h1m2 0h1m1 0h1m1 0h1m-40 1h1m4 0h1m1 0h1m1 0h1m2 0h1m0 0h1m1 0h1m0 0h1m1 0h1m0 0h1m2 0h1m0 0h1m0 0h1m0 0h1m0 0h1m1 0h1m1 0h1m1 0h1m-34 1h1m5 0h1m0 0h1m0 0h1m0 0h1m2 0h1m1 0h1m2 0h1m0 0h1m0 0h1m1 0h1m1 0h1m0 0h1m0 0h1m0 0h1m2 0h1m0 0h1m2 0h1m-33 1h1m0 0h1m0 0h1m2 0h1m0 0h1m1 0h1m0 0h1m0 0h1m0 0h1m1 0h1m0 0h1m0 0h1m1 0h1m0 0h1m0 0h1m4 0h1m2 0h1m0 0h1m0 0h1m0 0h1m2 0h1m1 0h1m-36 1h1m0 0h1m0 0h1m0 0h1m2 0h1m1 0h1m0 0h1m0 0h1m0 0h1m1 0h1m1 0h1m0 0h1m0 0h1m4 0h1m0 0h1m-25 1h1m0 0h1m2 0h1m0 0h1m0 0h1m1 0h1m3 0h1m2 0h1m-15 1h1m0 0h1m1 0h1m1 0h1m0 0h1m0 0h1m0 0h1m1 0h1m5 0h1m3 0h1m-21 1h1m0 0h1m3 0h1m1 0h1m2 0h1m4 0h1m-16 1h1m1 0h1m1 0h1m1 0h1m0 0h1m2 0h1m2 0h1m1 0h1m13 0h1m-28 1h1m6 0h1m0 0h1m11 0h1m-22 1h1m0 0h1m4 0h1m-4 3h1" stroke="#000" stroke-opacity="0.9" stroke-width="1" fill="none"/>
<path d="M342 376.5h1m1 1h1m-11 1h1m0 0h1m-10 1h1m6 0h1m14 0h1m-18 1h1m10 0h1m-9 1h1m-6 1h1m8 0h1m4 0h1m0 0h1m-5 1h1m4 0h1m2 0h1m-19 1h1m3 0h1m0 0h1m0 0h1m9 0h1m-11 1h1m0 0h1m1 0h1m0 0h1m3 0h1m3 0h1m-21 1h1m4 0h1m1 0h1m0 0h1m0 0h1m0 0h1m2 0h1m0 0h1m1 0h1m0 0h1m0 0h1m2 0h1m0 0h1m-19 1h1m3 0h1m0 0h1m2 0h1m1 0h1m0 0h1m0 0h1m0 0h1m3 0h1m2 0h1m-23 1h1m2 0h1m0 0h1m0 0h1m0 0h1m0 0h1m0 0h1m0 0h1m0 0h1m0 0h1m0 0h1m0 0h1m0 0h1m-18 1h1m1 0h1m0 0h1m0 0h1m1 0h1m1 0h1m0 0h1m0 0h1m1 0h1m0 0h1m0 0h1m2 0h1m8 0h1m-30 1h1m5 0h1m0 0h1m0 0h1m0 0h1m0 0h1m0 0h1m0 0h1m0 0h1m1 0h1m0 0h1m0 0h1m0 0h1m1 0h1m1 0h1m0 0h1m-17 1h1m1 0h1m0 0h1m2 0h1m1 0h1m0 0h1m0 0h1m0 0h1m0 0h1m0 0h1m3 0h1m-20 1h1m1 0h1m0 0h1m1 0h1m0 0h1m0 0h1m0 0h1m1 0h1m0 0h1m0 0h1m2 0h1m1 0h1m0 0h1m2 0h1m-23 1h1m4 0h1m0 0h1m0 0h1m0 0h1m0 0h1m0 0h1m1 0h1m0 0h1m0 0h1m0 0h1m1 0h1m0 0h1m0 0h1m-21 1h1m0 0h1m4 0h1m1 0h1m0 0h1m0 0h1m0 0h1m0 0h1m1 0h1m0 0h1m1 0h1m-10 1h1m0 0h1m0 0h1m0 0h1m1 0h1m0 0h1m0 0h1m0 0h1m1 0h1m0 0h1m-19 1h1m3 0h1m0 0h1m1 0h1m0 0h1m0 0h1m2 0h1m1 0h1m4 0h1m-17 1h1m1 0h1m0 0h1m0 0h1m0 0h1m0 0h1m0 0h1m0 0h1m1 0h1m1 0h1m0 0h1m0 0h1m-18 1h1m5 0h1m0 0h1m2 0h1m0 0h1m0 0h1m2 0h1m1 0h1m3 0h1m6 0h1m-26 1h1m0 0h1m3 0h1m0 0h1m1 0h1m5 0h1m0 0h1m-14 1h1m2 0h1m0 0h1m1 0h1m0 0h1m0 0h1m0 0h1m0 0h1m0 0h1m1 0h1m7 0h1m-26 1h1m1 0h1m2 0h1m0 0h1m2 0h1m2 0h1m2 0h1m1 0h1m-9 1h1m0 0h1m-6 1h1m5 0h1m-8 1h1m9 0h1m0 0h1m-12 1h1m3 0h1m1 0h1m-6 1h1m9 1h1m-11 1h1m6 7h1" stroke="#000" stroke-opacity="1.0" stroke-width="1" fill="none"/>
<path d="M450 358.5h1m19 1h1m22 6h1m0 0h1m-21 2h1m0 0h1m13 1h1m-6 2h1m-18 5h1m-17 1h1m-22 1h1m32 0h1m23 1h1m-53 1h1m5 0h1m34 0h1m-4 1h1m8 1h1m17 0h1m-30 1h1m21 0h1m0 0h1m-49 1h1m19 0h1m5 0h1m4 0h1m3 0h1m2 0h1m-22 1h1m10 0h1m17 0h1m3 0h1m4 0h1m-11 1h1m-23 1h1m16 0h1m2 0h1m-24 1h1m4 0h1m-1 1h1m-7 1h1m1 0h1m30 0h1m0 0h1m3 0h1m-31 1h1m7 0h1m-19 1h1m6 0h1m-17 1h1m-17 1h1m64 1h1m-6 1h1m-23 1h1m2 0h1m4 0h1m7 1h1m6 0h1m-28 1h1m9 0h1m8 0h1m10 0h1m1 0h1m-42 1h1m6 0h1m33 0h1m-28 1h1m3 0h1m20 0h1m1 0h1m-33 1h1m30 0h1m-29 1h1m3 0h1m-11 1h1m2 0h1m16 0h1m3 0h1m-40 1h1m44 0h1m-14 1h1m-3 1h1m4 0h1m-25 1h1m0 0h1m5 0h1m7 0h1m9 0h1m8 0h1m3 0h1m2 0h1m-12 2h1m-33 1h1m27 1h1m-22 2h1m-37 1h1m16 3h1m55 2h1m-58 3h1m1 0h1m3 4h1m19 3h1m-15 2h1m9 2h1m13 0h1m-23 1h1m5 0h1m20 0h1m-16 1h1" stroke="#000" stroke-opacity="0.35" stroke-width="1" fill="none"/>
<path d="M439 367.5h1m7 5h1m2 4h1m-8 1h1m9 0h1m6 0h1m-14 1h1m5 0h1m-17 1h1m8 0h1m5 0h1m-12 1h1m6 1h1m3 0h1m-3 1h1m3 0h1m-16 1h1m1 0h1m2 0h1m0 0h1m4 0h1m3 0h1m2 0h1m4 0h1m-21 1h1m6 0h1m2 0h1m-4 1h1m1 0h1m0 0h1m0 1h1m4 0h1m-18 1h1m2 0h1m1 0h1m2 0h1m0 0h1m2 0h1m-15 1h1m3 0h1m1 0h1m2 0h1m0 0h1m1 0h1m8 0h1m2 0h1m-20 1h1m8 0h1m3 0h1m-12 1h1m2 0h1m0 0h1m1 0h1m-4 1h1m0 0h1m1 0h1m-10 1h1m3 0h1m5 0h1m-12 1h1m0 0h1m0 0h1m4 0h1m7 0h1m-12 1h1m3 0h1m-6 1h1m-1 1h1m5 0h1m2 0h1m5 0h1m-21 1h1m2 0h1m1 0h1m5 1h1m3 0h1m0 0h1m-23 1h1m8 0h1m4 0h1m2 0h1m-2 3h1m6 0h1m-15 1h1m8 1h1" stroke="#000" stroke-opacity="0.4" stroke-width="1" fill="none"/>
<path d="M477 419.5h1m-15 1h1m2 0h1m9 0h1m-11 1h1m0 0h1m1 0h1m3 0h1m1 0h1m0 0h1m0 0h1m-18 1h1m0 0h1m0 0h1m1 0h1m4 0h1m0 0h1m6 0h1m1 0h1m-20 1h1m3 0h1m1 0h1m2 0h1m0 0h1m0 0h1m2 0h1m0 0h1m0 0h1m0 0h1m-18 1h1m0 0h1m1 0h1m1 0h1m3 0h1m0 0h1m2 0h1m0 0h1m0 0h1m2 0h1m-19 1h1m0 0h1m0 0h1m0 0h1m0 0h1m1 0h1m3 0h1m0 0h1m1 0h1m0 0h1m0 0h1m1 0h1m-18 1h1m0 0h1m0 0h1m2 0h1m0 0h1m1 0h1m0 0h1m0 0h1m0 0h1m0 0h1m0 0h1m0 0h1m0 0h1m1 0h1m-17 1h1m0 0h1m0 0h1m0 0h1m0 0h1m0 0h1m2 0h1m2 0h1m0 0h1m0 0h1m0 0h1m0 0h1m0 0h1m0 0h1m0 0h1m-20 1h1m0 0h1m0 0h1m1 0h1m0 0h1m0 0h1m0 0h1m0 0h1m1 0h1m1 0h1m4 0h1m0 0h1m0 0h1m-20 1h1m0 0h1m0 0h1m1 0h1m1 0h1m0 0h1m0 0h1m0 0h1m0 0h1m0 0h1m1 0h1m0 0h1m0 0h1m2 0h1m1 0h1m-19 1h1m1 0h1m2 0h1m0 0h1m0 0h1m1 0h1m0 0h1m2 0h1m0 0h1m2 0h1m-19 1h1m1 0h1m2 0h1m5 0h1m0 0h1m3 0h1m0 0h1m-18 1h1m0 0h1m5 0h1m3 0h1m2 0h1m1 0h1m-18 1h1m4 0h1m1 0h1m0 0h1m-8 1h1m3 0h1m-3 1h1m8 0h1m-9 2h1m0 0h1" stroke="#000" stroke-opacity="0.75" stroke-width="1" fill="none"/>
<path d="M495 410.5h1m-1 1h1m-3 1h1m13 0h1m-26 2h1m13 0h1m8 0h1m-23 1h1m7 0h1m-10 1h1m12 0h1m6 0h1m5 0h1m-27 1h1m1 0h1m5 0h1m5 0h1m6 0h1m1 0h1m-29 1h1m5 0h1m4 0h1m0 0h1m2 0h1m0 0h1m1 0h1m2 0h1m0 0h1m1 0h1m-24 1h1m13 0h1m4 0h1m3 0h1m1 0h1m-29 1h1m2 0h1m1 0h1m10 0h1m9 0h1m-24 1h1m1 0h1m0 0h1m0 0h1m1 0h1m1 0h1m2 0h1m1 0h1m3 0h1m1 0h1m3 0h1m0 0h1m-38 1h1m13 0h1m2 0h1m9 0h1m15 0h1m-39 1h1m5 0h1m0 0h1m1 0h1m1 0h1m0 0h1m0 0h1m0 0h1m1 0h1m1 0h1m0 0h1m1 0h1m4 0h1m2 0h1m0 0h1m-32 1h1m8 0h1m1 0h1m1 0h1m1 0h1m0 0h1m0 0h1m0 0h1m0 0h1m1 0h1m0 0h1m-33 1h1m11 0h1m7 0h1m5 0h1m0 0h1m1 0h1m0 0h1m0 0h1m4 0h1m3 0h1m2 0h1m-31 1h1m1 0h1m3 0h1m2 0h1m2 0h1m1 0h1m1 0h1m1 0h1m2 0h1m0 0h1m0 0h1m5 0h1m-31 1h1m1 0h1m0 0h1m1 0h1m6 0h1m0 0h1m0 0h1m0 0h1m1 0h1m1 0h1m1 0h1m1 0h1m4 0h1m1 0h1m-31 1h1m1 0h1m1 0h1m0 0h1m6 0h1m4 0h1m2 0h1m2 0h1m0 0h1m1 0h1m0 0h1m-35 1h1m5 0h1m8 0h1m1 0h1m0 0h1m4 0h1m0 0h1m2 0h1m3 0h1m5 0h1m-30 1h1m1 0h1m4 0h1m0 0h1m0 0h1m3 0h1m0 0h1m1 0h1m1 0h1m1 0h1m5 0h1m-30 1h1m7 0h1m1 0h1m0 0h1m5 0h1m0 0h1m1 0h1m5 0h1m9 0h1m-29 1h1m8 0h1m6 0h1m2 0h1m-26 1h1m2 0h1m4 0h1m0 0h1m0 0h1m2 0h1m0 0h1m3 0h1m-20 1h1m7 0h1m3 0h1m4 0h1m11 0h1m-21 1h1m2 0h1m-12 1h1m17 1h1" stroke="#000" stroke-opacity="0.8" stroke-width="1" fill="none"/>
<path d="M496 384.5h1m-4 7h1m0 0h1m1 0h1m-7 1h1m5 0h1m-2 1h1m-1 1h1m-3 1h1m-3 1h1m0 0h1m0 0h1m0 0h1m1 0h1m-5 1h1m1 1h1m1 0h1m4 0h1m-10 1h1m0 0h1m2 0h1m-7 1h1m1 0h1m2 0h1m-10 1h1m7 0h1m-6 1h1m0 0h1m4 0h1m0 0h1m0 0h1m0 0h1m2 0h1m9 0h1m-21 1h1m1 0h1m1 0h1m1 0h1m0 0h1m1 0h1m0 0h1m-14 1h1m0 0h1m2 0h1m0 0h1m4 0h1m0 0h1m1 0h1m-11 1h1m3 0h1m0 0h1m1 0h1m1 0h1m-9 1h1m0 0h1m-4 1h1m3 0h1m1 0h1m1 0h1m-5 1h1m4 0h1m-9 1h1m0 0h1m1 0h1m1 0h1m3 0h1m-50 1h1m6 0h1m35 0h1m1 0h1m1 0h1m4 0h1m-71 1h1m1 0h1m3 0h1m1 0h1m6 0h1m1 0h1m40 0h1m-52 1h1m9 0h1m4 0h1m31 0h1m1 0h1m2 0h1m4 0h1m1 0h1m4 0h1m-71 1h1m6 0h1m6 0h1m44 0h1m1 0h1m2 0h1m2 0h1m-66 1h1m13 0h1m3 0h1m3 0h1m28 0h1m3 0h1m1 0h1m0 0h1m2 0h1m2 0h1m1 0h1m-69 1h1m2 0h1m1 0h1m11 0h1m4 0h1m32 0h1m0 0h1m3 0h1m5 0h1m1 0h1m4 0h1m-77 1h1m0 0h1m13 0h1m3 0h1m0 0h1m6 0h1m26 0h1m2 0h1m1 0h1m0 0h1m1 0h1m0 0h1m3 0h1m-61 1h1m3 0h1m42 0h1m3 0h1m0 0h1m0 0h1m0 0h1m0 0h1m0 0h1m0 0h1m4 0h1m4 0h1m-60 1h1m2 0h1m7 0h1m25 0h1m1 0h1m1 0h1m0 0h1m0 0h1m1 0h1m0 0h1m0 0h1m0 0h1m0 0h1m0 0h1m0 0h1m1 0h1m0 0h1m0 0h1m2 0h1m-71 1h1m2 0h1m37 0h1m3 0h1m1 0h1m1 0h1m0 0h1m0 0h1m0 0h1m0 0h1m0 0h1m2 0h1m2 0h1m0 0h1m0 0h1m0 0h1m0 0h1m1 0h1m2 0h1m-71 1h1m22 0h1m1 0h1m21 0h1m1 0h1m1 0h1m0 0h1m1 0h1m0 0h1m0 0h1m0 0h1m0 0h1m0 0h1m0 0h1m0 0h1m0 0h1m1 0h1m0 0h1m0 0h1m0 0h1m0 0h1m5 0h1m-71 1h1m12 0h1m30 0h1m0 0h1m0 0h1m0 0h1m1 0h1m0 0h1m0 0h1m0 0h1m0 0h1m0 0h1m0 0h1m1 0h1m0 0h1m0 0h1m0 0h1m0 0h1m0 0h1m0 0h1m0 0h1m0 0h1m1 0h1m-70 1h1m1 0h1m6 0h1m4 0h1m1 0h1m6 0h1m19 0h1m0 0h1m1 0h1m0 0h1m0 0h1m0 0h1m0 0h1m0 0h1m0 0h1m0 0h1m0 0h1m0 0h1m0 0h1m0 0h1m0 0h1m0 0h1m0 0h1m0 0h1m0 0h1m0 0h1m0 0h1m0 0h1m0 0h1m2 0h1m-73 1h1m4 0h1m41 0h1m1 0h1m1 0h1m0 0h1m0 0h1m0 0h1m0 0h1m0 0h1m0 0h1m0 0h1m0 0h1m0 0h1m0 0h1m0 0h1m0 0h1m0 0h1m0 0h1m0 0h1m0 0h1m0 0h1m1 0h1m0 0h1m0 0h1m3 0h1m-59 1h1m2 0h1m26 0h1m0 0h1m0 0h1m0 0h1m0 0h1m0 0h1m0 0h1m0 0h1m0 0h1m0 0h1m0 0h1m0 0h1m0 0h1m0 0h1m0 0h1m0 0h1m0 0h1m0 0h1m0 0h1m0 0h1m0 0h1m0 0h1m1 0h1m0 0h1m0 0h1m-75 1h1m4 0h1m3 0h1m1 0h1m0 0h1m5 0h1m0 0h1m2 0h1m24 0h1m0 0h1m2 0h1m0 0h1m0 0h1m0 0h1m0 0h1m0 0h1m0 0h1m0 0h1m0 0h1m0 0h1m0 0h1m0 0h1m0 0h1m0 0h1m0 0h1m0 0h1m0 0h1m0 0h1m0 0h1m0 0h1m5 0h1m-72 1h1m0 0h1m8 0h1m25 0h1m4 0h1m4 0h1m0 0h1m0 0h1m1 0h1m0 0h1m0 0h1m0 0h1m0 0h1m0 0h1m0 0h1m0 0h1m0 0h1m0 0h1m0 0h1m0 0h1m0 0h1m0 0h1m0 0h1m1 0h1m-58 1h1m32 0h1m1 0h1m0 0h1m1 0h1m0 0h1m0 0h1m0 0h1m0 0h1m0 0h1m0 0h1m0 0h1m0 0h1m0 0h1m0 0h1m0 0h1m0 0h1m0 0h1m1 0h1m0 0h1m1 0h1m1 0h1m-65 1h1m0 0h1m0 0h1m1 0h1m5 0h1m26 0h1m1 0h1m1 0h1m0 0h1m1 0h1m0 0h1m0 0h1m0 0h1m0 0h1m0 0h1m0 0h1m0 0h1m0 0h1m0 0h1m0 0h1m0 0h1m0 0h1m0 0h1m0 0h1m0 0h1m0 0h1m0 0h1m2 0h1m6 0h1m-80 1h1m1 0h1m3 0h1m3 0h1m14 0h1m0 0h1m16 0h1m8 0h1m0 0h1m0 0h1m0 0h1m0 0h1m0 0h1m0 0h1m0 0h1m0 0h1m0 0h1m1 0h1m0 0h1m0 0h1m0 0h1m1 0h1m0 0h1m0 0h1m0 0h1m1 0h1m1 0h1m-76 1h1m7 0h1m2 0h1m32 0h1m7 0h1m0 0h1m0 0h1m0 0h1m0 0h1m0 0h1m0 0h1m0 0h1m0 0h1m0 0h1m1 0h1m0 0h1m0 0h1m0 0h1m0 0h1m0 0h1m0 0h1m0 0h1m0 0h1m-49 1h1m23 0h1m3 0h1m1 0h1m0 0h1m0 0h1m0 0h1m0 0h1m0 0h1m1 0h1m0 0h1m0 0h1m0 0h1m0 0h1m0 0h1m0 0h1m0 0h1m0 0h1m0 0h1m0 0h1m-54 1h1m5 0h1m26 0h1m2 0h1m1 0h1m0 0h1m0 0h1m0 0h1m0 0h1m1 0h1m0 0h1m2 0h1m1 0h1m5 0h1m-71 1h1m5 0h1m8 0h1m0 0h1m4 0h1m27 0h1m2 0h1m1 0h1m1 0h1m0 0h1m0 0h1m0 0h1m2 0h1m0 0h1m1 0h1m-43 1h1m21 0h1m2 0h1m0 0h1m1 0h1m1 0h1m0 0h1m1 0h1m2 0h1m0 0h1m10 0h1m0 0h1m-57 1h1m33 0h1m0 0h1m0 0h1m1 0h1m3 0h1m0 0h1m-60 1h1m0 0h1m6 0h1m0 0h1m11 0h1m30 0h1m2 0h1m1 0h1m1 0h1m-54 1h1m6 0h1m35 0h1m10 0h1m2 0h1m-57 1h1m6 0h1m0 0h1m2 0h1m41 0h1" stroke="#000" stroke-opacity="1.0" stroke-width="1" fill="none"/>
</g>
<text x="70.25" y="219" font-family='"Liberation Serif", serif' font-size="14" font-weight="bold" font-style="italic" text-anchor="middle" textLength="13.7" lengthAdjust="spacingAndGlyphs" class="s">wt</text>
<text x="210.9" y="219" font-family='"Liberation Serif", serif' font-size="14" font-weight="bold" font-style="italic" text-anchor="middle" textLength="42.0" lengthAdjust="spacingAndGlyphs" class="s">tal-1/+</text>
<text x="338.25" y="219" font-family='"Liberation Serif", serif' font-size="14" font-weight="bold" font-style="italic" text-anchor="middle" textLength="60.9" lengthAdjust="spacingAndGlyphs" class="s">tal-1/tal-1</text>
<text x="475.65" y="219" font-family='"Liberation Serif", serif' font-size="14" font-weight="bold" font-style="italic" text-anchor="middle" textLength="68.5" lengthAdjust="spacingAndGlyphs" class="s">mut tal-1/+</text>
<line x1="58.9" y1="228.2" x2="58.9" y2="306.5" stroke="#1a1a1a" stroke-width="1.2"/>
<line x1="33.2" y1="262" x2="128" y2="262" stroke="#1a1a1a" stroke-width="1.2"/>
<line x1="33.2" y1="228.2" x2="128" y2="228.2" stroke="#1a1a1a" stroke-width="1.8"/>
<line x1="128" y1="227.5" x2="128" y2="306.5" stroke="#111" stroke-width="1.4"/>
<line x1="33.2" y1="227.29999999999998" x2="33.2" y2="307.3" stroke="#000" stroke-width="2.3"/>
<line x1="33.2" y1="306.5" x2="128.6" y2="306.5" stroke="#000" stroke-width="1.7"/>
<path d="M30.4 306.5h1.8M31.1 300.6h1.1M31.1 297.2h1.1M31.1 294.7h1.1M31.1 292.8h1.1M31.1 291.3h1.1M31.1 290.0h1.1M31.1 288.8h1.1M31.1 287.8h1.1M30.4 286.9h1.8M31.1 281.0h1.1M31.1 277.6h1.1M31.1 275.1h1.1M31.1 273.2h1.1M31.1 271.7h1.1M31.1 270.4h1.1M31.1 269.2h1.1M31.1 268.2h1.1M30.4 267.4h1.8M31.1 261.5h1.1M31.1 258.0h1.1M31.1 255.6h1.1M31.1 253.7h1.1M31.1 252.1h1.1M31.1 250.8h1.1M31.1 249.7h1.1M31.1 248.7h1.1M30.4 247.8h1.8M31.1 241.9h1.1M31.1 238.4h1.1M31.1 236.0h1.1M31.1 234.1h1.1M31.1 232.5h1.1M31.1 231.2h1.1M31.1 230.1h1.1M31.1 229.1h1.1" stroke="#000" stroke-width="0.9"/>
<path d="M33.2 307.3v1.8M40.3 307.3v1.1M44.5 307.3v1.1M47.5 307.3v1.1M49.8 307.3v1.1M51.6 307.3v1.1M53.2 307.3v1.1M54.6 307.3v1.1M55.8 307.3v1.1M56.9 307.3v1.8M64.0 307.3v1.1M68.2 307.3v1.1M71.2 307.3v1.1M73.5 307.3v1.1M75.3 307.3v1.1M76.9 307.3v1.1M78.3 307.3v1.1M79.5 307.3v1.1M80.6 307.3v1.8M87.7 307.3v1.1M91.9 307.3v1.1M94.9 307.3v1.1M97.2 307.3v1.1M99.0 307.3v1.1M100.6 307.3v1.1M102.0 307.3v1.1M103.2 307.3v1.1M104.3 307.3v1.8M111.4 307.3v1.1M115.6 307.3v1.1M118.6 307.3v1.1M120.9 307.3v1.1M122.7 307.3v1.1M124.3 307.3v1.1M125.7 307.3v1.1M126.9 307.3v1.1" stroke="#000" stroke-width="0.9"/>
<text transform="translate(12.6,272.2) rotate(-90)" class="s" font-family='"Liberation Serif", serif' font-size="9.6" text-anchor="middle" textLength="29.5" lengthAdjust="spacingAndGlyphs">CD4 Cy</text>
<text x="63.1" y="329.6" font-family='"Liberation Serif", serif' font-size="10" textLength="39.2" lengthAdjust="spacingAndGlyphs" class="s">CD8 FITC</text>
<text x="36.2" y="237.3" font-family='"Liberation Serif", serif' font-size="9" textLength="14.7" lengthAdjust="spacingAndGlyphs" class="s">12.8</text>
<text x="111.1" y="238.1" font-family='"Liberation Serif", serif' font-size="9" textLength="14.8" lengthAdjust="spacingAndGlyphs" class="s">80.3</text>
<text x="35.5" y="302.6" font-family='"Liberation Serif", serif' font-size="9" textLength="15.6" lengthAdjust="spacingAndGlyphs" class="s">2.22</text>
<text x="111.0" y="306.1" font-family='"Liberation Serif", serif' font-size="9" textLength="14.8" lengthAdjust="spacingAndGlyphs" class="s">4.74</text>
<text x="34.2" y="317.5" font-family='"Liberation Serif", serif' font-size="8.2" class="s">1</text>
<text x="55.5" y="317.5" font-family='"Liberation Serif", serif' font-size="8.2" class="s">10¹</text>
<text x="78.0" y="317.5" font-family='"Liberation Serif", serif' font-size="8.2" class="s">10²</text>
<text x="100.6" y="317.5" font-family='"Liberation Serif", serif' font-size="8.2" class="s">10³</text>
<text x="123.1" y="317.5" font-family='"Liberation Serif", serif' font-size="8.2" class="s">10⁴</text>
<text x="28.9" y="234.7" font-family='"Liberation Serif", serif' font-size="8.2" text-anchor="end" class="s">10⁴</text>
<text x="28.9" y="253.9" font-family='"Liberation Serif", serif' font-size="8.2" text-anchor="end" class="s">10³</text>
<text x="28.9" y="273.1" font-family='"Liberation Serif", serif' font-size="8.2" text-anchor="end" class="s">10²</text>
<text x="28.9" y="292.3" font-family='"Liberation Serif", serif' font-size="8.2" text-anchor="end" class="s">10¹</text>
<text x="32.6" y="311.1" font-family='"Liberation Serif", serif' font-size="8.2" text-anchor="end" class="s">1</text>
<line x1="197.3" y1="228.7" x2="197.3" y2="306.2" stroke="#1a1a1a" stroke-width="1.2"/>
<line x1="165.5" y1="261" x2="260.2" y2="261" stroke="#1a1a1a" stroke-width="1.2"/>
<line x1="165.5" y1="228.7" x2="260.2" y2="228.7" stroke="#1a1a1a" stroke-width="1.8"/>
<line x1="260.2" y1="228.0" x2="260.2" y2="306.2" stroke="#111" stroke-width="1.4"/>
<line x1="165.5" y1="227.79999999999998" x2="165.5" y2="307.0" stroke="#000" stroke-width="2.3"/>
<line x1="165.5" y1="306.2" x2="260.8" y2="306.2" stroke="#000" stroke-width="1.7"/>
<path d="M162.7 306.2h1.8M163.4 300.4h1.1M163.4 297.0h1.1M163.4 294.5h1.1M163.4 292.7h1.1M163.4 291.1h1.1M163.4 289.8h1.1M163.4 288.7h1.1M163.4 287.7h1.1M162.7 286.8h1.8M163.4 281.0h1.1M163.4 277.6h1.1M163.4 275.2h1.1M163.4 273.3h1.1M163.4 271.7h1.1M163.4 270.5h1.1M163.4 269.3h1.1M163.4 268.3h1.1M162.7 267.4h1.8M163.4 261.6h1.1M163.4 258.2h1.1M163.4 255.8h1.1M163.4 253.9h1.1M163.4 252.4h1.1M163.4 251.1h1.1M163.4 250.0h1.1M163.4 249.0h1.1M162.7 248.1h1.8M163.4 242.2h1.1M163.4 238.8h1.1M163.4 236.4h1.1M163.4 234.5h1.1M163.4 233.0h1.1M163.4 231.7h1.1M163.4 230.6h1.1M163.4 229.6h1.1" stroke="#000" stroke-width="0.9"/>
<path d="M165.5 307.0v1.8M172.6 307.0v1.1M176.8 307.0v1.1M179.8 307.0v1.1M182.0 307.0v1.1M183.9 307.0v1.1M185.5 307.0v1.1M186.9 307.0v1.1M188.1 307.0v1.1M189.2 307.0v1.8M196.3 307.0v1.1M200.5 307.0v1.1M203.4 307.0v1.1M205.7 307.0v1.1M207.6 307.0v1.1M209.2 307.0v1.1M210.6 307.0v1.1M211.8 307.0v1.1M212.8 307.0v1.8M220.0 307.0v1.1M224.1 307.0v1.1M227.1 307.0v1.1M229.4 307.0v1.1M231.3 307.0v1.1M232.9 307.0v1.1M234.2 307.0v1.1M235.4 307.0v1.1M236.5 307.0v1.8M243.7 307.0v1.1M247.8 307.0v1.1M250.8 307.0v1.1M253.1 307.0v1.1M254.9 307.0v1.1M256.5 307.0v1.1M257.9 307.0v1.1M259.1 307.0v1.1" stroke="#000" stroke-width="0.9"/>
<text transform="translate(143.8,273.3) rotate(-90)" class="s" font-family='"Liberation Serif", serif' font-size="9.6" text-anchor="middle" textLength="30.5" lengthAdjust="spacingAndGlyphs">CD4 Cy</text>
<text x="195.39999999999998" y="329" font-family='"Liberation Serif", serif' font-size="10" textLength="37.5" lengthAdjust="spacingAndGlyphs" class="s">CD8 FITC</text>
<text x="167.79999999999998" y="236.9" font-family='"Liberation Serif", serif' font-size="9" textLength="14.1" lengthAdjust="spacingAndGlyphs" class="s">6.31</text>
<text x="245.1" y="236.7" font-family='"Liberation Serif", serif' font-size="9" textLength="14.5" lengthAdjust="spacingAndGlyphs" class="s">61.3</text>
<text x="167.79999999999998" y="305.8" font-family='"Liberation Serif", serif' font-size="9" textLength="14.1" lengthAdjust="spacingAndGlyphs" class="s">11.9</text>
<text x="243.79999999999998" y="306.2" font-family='"Liberation Serif", serif' font-size="9" textLength="15.0" lengthAdjust="spacingAndGlyphs" class="s">20.5</text>
<text x="166.5" y="317.2" font-family='"Liberation Serif", serif' font-size="8.2" class="s">1</text>
<text x="187.7" y="317.2" font-family='"Liberation Serif", serif' font-size="8.2" class="s">10¹</text>
<text x="210.3" y="317.2" font-family='"Liberation Serif", serif' font-size="8.2" class="s">10²</text>
<text x="232.8" y="317.2" font-family='"Liberation Serif", serif' font-size="8.2" class="s">10³</text>
<text x="255.4" y="317.2" font-family='"Liberation Serif", serif' font-size="8.2" class="s">10⁴</text>
<text x="158.9" y="235.2" font-family='"Liberation Serif", serif' font-size="8.2" text-anchor="end" class="s">10⁴</text>
<text x="158.9" y="254.2" font-family='"Liberation Serif", serif' font-size="8.2" text-anchor="end" class="s">10³</text>
<text x="158.9" y="273.2" font-family='"Liberation Serif", serif' font-size="8.2" text-anchor="end" class="s">10²</text>
<text x="158.9" y="292.2" font-family='"Liberation Serif", serif' font-size="8.2" text-anchor="end" class="s">10¹</text>
<text x="164.9" y="310.8" font-family='"Liberation Serif", serif' font-size="8.2" text-anchor="end" class="s">1</text>
<line x1="320.5" y1="229" x2="320.5" y2="306" stroke="#1a1a1a" stroke-width="1.2"/>
<line x1="295.2" y1="260.8" x2="389" y2="260.8" stroke="#1a1a1a" stroke-width="1.2"/>
<line x1="295.2" y1="229" x2="389" y2="229" stroke="#1a1a1a" stroke-width="1.8"/>
<line x1="389" y1="228.3" x2="389" y2="306" stroke="#111" stroke-width="1.4"/>
<line x1="295.2" y1="228.1" x2="295.2" y2="306.8" stroke="#000" stroke-width="2.3"/>
<line x1="295.2" y1="306" x2="389.6" y2="306" stroke="#000" stroke-width="1.7"/>
<path d="M292.4 306.0h1.8M293.1 300.2h1.1M293.1 296.8h1.1M293.1 294.4h1.1M293.1 292.5h1.1M293.1 291.0h1.1M293.1 289.7h1.1M293.1 288.6h1.1M293.1 287.6h1.1M292.4 286.8h1.8M293.1 281.0h1.1M293.1 277.6h1.1M293.1 275.2h1.1M293.1 273.3h1.1M293.1 271.8h1.1M293.1 270.5h1.1M293.1 269.4h1.1M293.1 268.4h1.1M292.4 267.5h1.8M293.1 261.7h1.1M293.1 258.3h1.1M293.1 255.9h1.1M293.1 254.0h1.1M293.1 252.5h1.1M293.1 251.2h1.1M293.1 250.1h1.1M293.1 249.1h1.1M292.4 248.2h1.8M293.1 242.5h1.1M293.1 239.1h1.1M293.1 236.7h1.1M293.1 234.8h1.1M293.1 233.3h1.1M293.1 232.0h1.1M293.1 230.9h1.1M293.1 229.9h1.1" stroke="#000" stroke-width="0.9"/>
<path d="M295.2 306.8v1.8M302.3 306.8v1.1M306.4 306.8v1.1M309.3 306.8v1.1M311.6 306.8v1.1M313.4 306.8v1.1M315.0 306.8v1.1M316.4 306.8v1.1M317.6 306.8v1.1M318.6 306.8v1.8M325.7 306.8v1.1M329.8 306.8v1.1M332.8 306.8v1.1M335.0 306.8v1.1M336.9 306.8v1.1M338.5 306.8v1.1M339.8 306.8v1.1M341.0 306.8v1.1M342.1 306.8v1.8M349.2 306.8v1.1M353.3 306.8v1.1M356.2 306.8v1.1M358.5 306.8v1.1M360.3 306.8v1.1M361.9 306.8v1.1M363.3 306.8v1.1M364.5 306.8v1.1M365.6 306.8v1.8M372.6 306.8v1.1M376.7 306.8v1.1M379.7 306.8v1.1M381.9 306.8v1.1M383.8 306.8v1.1M385.4 306.8v1.1M386.7 306.8v1.1M387.9 306.8v1.1" stroke="#000" stroke-width="0.9"/>
<text transform="translate(276,274.7) rotate(-90)" class="s" font-family='"Liberation Serif", serif' font-size="9.6" text-anchor="middle" textLength="32" lengthAdjust="spacingAndGlyphs">CD4 Cy</text>
<text x="325.4" y="329" font-family='"Liberation Serif", serif' font-size="10" textLength="38.3" lengthAdjust="spacingAndGlyphs" class="s">CD8 FITC</text>
<text x="296.40000000000003" y="237.0" font-family='"Liberation Serif", serif' font-size="9" font-style="italic" textLength="13.7" lengthAdjust="spacingAndGlyphs" class="s">2.67</text>
<text x="373.8" y="236.7" font-family='"Liberation Serif", serif' font-size="9" font-style="italic" textLength="14.8" lengthAdjust="spacingAndGlyphs" class="s">37.7</text>
<text x="296.40000000000003" y="305.1" font-family='"Liberation Serif", serif' font-size="9" textLength="13.7" lengthAdjust="spacingAndGlyphs" class="s">16.3</text>
<text x="369.90000000000003" y="306.2" font-family='"Liberation Serif", serif' font-size="9" textLength="15.0" lengthAdjust="spacingAndGlyphs" class="s">43.3</text>
<text x="296.2" y="317" font-family='"Liberation Serif", serif' font-size="8.2" class="s">1</text>
<text x="317.2" y="317" font-family='"Liberation Serif", serif' font-size="8.2" class="s">10¹</text>
<text x="339.5" y="317" font-family='"Liberation Serif", serif' font-size="8.2" class="s">10²</text>
<text x="361.9" y="317" font-family='"Liberation Serif", serif' font-size="8.2" class="s">10³</text>
<text x="384.2" y="317" font-family='"Liberation Serif", serif' font-size="8.2" class="s">10⁴</text>
<text x="287.9" y="235.5" font-family='"Liberation Serif", serif' font-size="8.2" text-anchor="end" class="s">10⁴</text>
<text x="287.9" y="254.4" font-family='"Liberation Serif", serif' font-size="8.2" text-anchor="end" class="s">10³</text>
<text x="287.9" y="273.2" font-family='"Liberation Serif", serif' font-size="8.2" text-anchor="end" class="s">10²</text>
<text x="287.9" y="292.1" font-family='"Liberation Serif", serif' font-size="8.2" text-anchor="end" class="s">10¹</text>
<text x="294.6" y="310.7" font-family='"Liberation Serif", serif' font-size="8.2" text-anchor="end" class="s">1</text>
<line x1="455.6" y1="225.5" x2="455.6" y2="308.7" stroke="#1a1a1a" stroke-width="1.2"/>
<line x1="428.4" y1="271.2" x2="513.7" y2="271.2" stroke="#1a1a1a" stroke-width="1.2"/>
<line x1="428.4" y1="225.5" x2="513.7" y2="225.5" stroke="#1a1a1a" stroke-width="1.8"/>
<line x1="513.7" y1="224.8" x2="513.7" y2="308.7" stroke="#111" stroke-width="1.4"/>
<line x1="428.4" y1="224.6" x2="428.4" y2="309.5" stroke="#000" stroke-width="2.3"/>
<line x1="428.4" y1="308.7" x2="514.3000000000001" y2="308.7" stroke="#000" stroke-width="1.7"/>
<path d="M425.6 308.7h1.8M426.3 302.4h1.1M426.3 298.8h1.1M426.3 296.2h1.1M426.3 294.2h1.1M426.3 292.5h1.1M426.3 291.1h1.1M426.3 289.9h1.1M426.3 288.9h1.1M425.6 287.9h1.8M426.3 281.6h1.1M426.3 278.0h1.1M426.3 275.4h1.1M426.3 273.4h1.1M426.3 271.7h1.1M426.3 270.3h1.1M426.3 269.1h1.1M426.3 268.1h1.1M425.6 267.1h1.8M426.3 260.8h1.1M426.3 257.2h1.1M426.3 254.6h1.1M426.3 252.6h1.1M426.3 250.9h1.1M426.3 249.5h1.1M426.3 248.3h1.1M426.3 247.3h1.1M425.6 246.3h1.8M426.3 240.0h1.1M426.3 236.4h1.1M426.3 233.8h1.1M426.3 231.8h1.1M426.3 230.1h1.1M426.3 228.7h1.1M426.3 227.5h1.1M426.3 226.5h1.1" stroke="#000" stroke-width="0.9"/>
<path d="M428.4 309.5v1.8M434.8 309.5v1.1M438.6 309.5v1.1M441.2 309.5v1.1M443.3 309.5v1.1M445.0 309.5v1.1M446.4 309.5v1.1M447.7 309.5v1.1M448.7 309.5v1.1M449.7 309.5v1.8M456.1 309.5v1.1M459.9 309.5v1.1M462.6 309.5v1.1M464.6 309.5v1.1M466.3 309.5v1.1M467.7 309.5v1.1M469.0 309.5v1.1M470.1 309.5v1.1M471.1 309.5v1.8M477.5 309.5v1.1M481.2 309.5v1.1M483.9 309.5v1.1M486.0 309.5v1.1M487.6 309.5v1.1M489.1 309.5v1.1M490.3 309.5v1.1M491.4 309.5v1.1M492.4 309.5v1.8M498.8 309.5v1.1M502.5 309.5v1.1M505.2 309.5v1.1M507.3 309.5v1.1M509.0 309.5v1.1M510.4 309.5v1.1M511.6 309.5v1.1M512.7 309.5v1.1" stroke="#000" stroke-width="0.9"/>
<text transform="translate(406.5,274.7) rotate(-90)" class="s" font-family='"Liberation Serif", serif' font-size="9.6" text-anchor="middle" textLength="29.8" lengthAdjust="spacingAndGlyphs">CD4 Cy</text>
<text x="455.59999999999997" y="328.7" font-family='"Liberation Serif", serif' font-size="10" textLength="37.7" lengthAdjust="spacingAndGlyphs" class="s">CD8 FITC</text>
<text x="432.3" y="239.6" font-family='"Liberation Serif", serif' font-size="9" textLength="14.4" lengthAdjust="spacingAndGlyphs" class="s">13.1</text>
<text x="495.40000000000003" y="239.1" font-family='"Liberation Serif", serif' font-size="9" textLength="14.8" lengthAdjust="spacingAndGlyphs" class="s">64.3</text>
<text x="437.3" y="305.5" font-family='"Liberation Serif", serif' font-size="9" textLength="13.7" lengthAdjust="spacingAndGlyphs" class="s">12.5</text>
<text x="498.1" y="306.4" font-family='"Liberation Serif", serif' font-size="9" textLength="13.7" lengthAdjust="spacingAndGlyphs" class="s">10.1</text>
<text x="429.4" y="319.7" font-family='"Liberation Serif", serif' font-size="8.2" class="s">1</text>
<text x="448.4" y="319.7" font-family='"Liberation Serif", serif' font-size="8.2" class="s">10¹</text>
<text x="468.7" y="319.7" font-family='"Liberation Serif", serif' font-size="8.2" class="s">10²</text>
<text x="489.0" y="319.7" font-family='"Liberation Serif", serif' font-size="8.2" class="s">10³</text>
<text x="509.3" y="319.7" font-family='"Liberation Serif", serif' font-size="8.2" class="s">10⁴</text>
<text x="420.4" y="232.0" font-family='"Liberation Serif", serif' font-size="8.2" text-anchor="end" class="s">10⁴</text>
<text x="420.4" y="252.4" font-family='"Liberation Serif", serif' font-size="8.2" text-anchor="end" class="s">10³</text>
<text x="420.4" y="272.8" font-family='"Liberation Serif", serif' font-size="8.2" text-anchor="end" class="s">10²</text>
<text x="420.4" y="293.2" font-family='"Liberation Serif", serif' font-size="8.2" text-anchor="end" class="s">10¹</text>
<text x="427.8" y="313.2" font-family='"Liberation Serif", serif' font-size="8.2" text-anchor="end" class="s">1</text>
<line x1="65.7" y1="355.1" x2="65.7" y2="436" stroke="#1a1a1a" stroke-width="1.2"/>
<line x1="34.4" y1="405.8" x2="123.5" y2="405.8" stroke="#1a1a1a" stroke-width="1.2"/>
<line x1="34.4" y1="355.1" x2="123.5" y2="355.1" stroke="#1a1a1a" stroke-width="1.8"/>
<line x1="123.5" y1="354.40000000000003" x2="123.5" y2="436" stroke="#111" stroke-width="1.4"/>
<line x1="34.4" y1="354.20000000000005" x2="34.4" y2="436.8" stroke="#000" stroke-width="2.3"/>
<line x1="34.4" y1="436" x2="124.1" y2="436" stroke="#000" stroke-width="1.7"/>
<path d="M31.6 436.0h1.8M32.3 429.9h1.1M32.3 426.4h1.1M32.3 423.8h1.1M32.3 421.9h1.1M32.3 420.3h1.1M32.3 418.9h1.1M32.3 417.7h1.1M32.3 416.7h1.1M31.6 415.8h1.8M32.3 409.7h1.1M32.3 406.1h1.1M32.3 403.6h1.1M32.3 401.6h1.1M32.3 400.0h1.1M32.3 398.7h1.1M32.3 397.5h1.1M32.3 396.5h1.1M31.6 395.6h1.8M32.3 389.5h1.1M32.3 385.9h1.1M32.3 383.4h1.1M32.3 381.4h1.1M32.3 379.8h1.1M32.3 378.5h1.1M32.3 377.3h1.1M32.3 376.3h1.1M31.6 375.3h1.8M32.3 369.2h1.1M32.3 365.7h1.1M32.3 363.1h1.1M32.3 361.2h1.1M32.3 359.6h1.1M32.3 358.2h1.1M32.3 357.1h1.1M32.3 356.0h1.1" stroke="#000" stroke-width="0.9"/>
<path d="M34.4 436.8v1.8M41.1 436.8v1.1M45.0 436.8v1.1M47.8 436.8v1.1M50.0 436.8v1.1M51.7 436.8v1.1M53.2 436.8v1.1M54.5 436.8v1.1M55.7 436.8v1.1M56.7 436.8v1.8M63.4 436.8v1.1M67.3 436.8v1.1M70.1 436.8v1.1M72.2 436.8v1.1M74.0 436.8v1.1M75.5 436.8v1.1M76.8 436.8v1.1M77.9 436.8v1.1M78.9 436.8v1.8M85.7 436.8v1.1M89.6 436.8v1.1M92.4 436.8v1.1M94.5 436.8v1.1M96.3 436.8v1.1M97.8 436.8v1.1M99.1 436.8v1.1M100.2 436.8v1.1M101.2 436.8v1.8M107.9 436.8v1.1M111.9 436.8v1.1M114.6 436.8v1.1M116.8 436.8v1.1M118.6 436.8v1.1M120.0 436.8v1.1M121.3 436.8v1.1M122.5 436.8v1.1" stroke="#000" stroke-width="0.9"/>
<text transform="translate(9,391.9) rotate(-90)" class="s" font-family='"Liberation Serif", serif' font-size="9.6" text-anchor="middle" textLength="43.6" lengthAdjust="spacingAndGlyphs">CD44 FITC</text>
<text x="58.1" y="462" font-family='"Liberation Serif", serif' font-size="10" textLength="34.9" lengthAdjust="spacingAndGlyphs" class="s">CD25 PE</text>
<text x="36.9" y="364.2" font-family='"Liberation Serif", serif' font-size="9" textLength="14.7" lengthAdjust="spacingAndGlyphs" class="s">10.3</text>
<text x="109.19999999999999" y="364.0" font-family='"Liberation Serif", serif' font-size="9" textLength="13.7" lengthAdjust="spacingAndGlyphs" class="s">1.86</text>
<text x="106.6" y="432.8" font-family='"Liberation Serif", serif' font-size="9" textLength="15.8" lengthAdjust="spacingAndGlyphs" class="s">55.3</text>
<text x="35.4" y="447" font-family='"Liberation Serif", serif' font-size="8.2" class="s">1</text>
<text x="55.3" y="447" font-family='"Liberation Serif", serif' font-size="8.2" class="s">10¹</text>
<text x="76.5" y="447" font-family='"Liberation Serif", serif' font-size="8.2" class="s">10²</text>
<text x="97.7" y="447" font-family='"Liberation Serif", serif' font-size="8.2" class="s">10³</text>
<text x="118.9" y="447" font-family='"Liberation Serif", serif' font-size="8.2" class="s">10⁴</text>
<text x="29.9" y="361.6" font-family='"Liberation Serif", serif' font-size="8.2" text-anchor="end" class="s">10⁴</text>
<text x="29.9" y="381.4" font-family='"Liberation Serif", serif' font-size="8.2" text-anchor="end" class="s">10³</text>
<text x="29.9" y="401.2" font-family='"Liberation Serif", serif' font-size="8.2" text-anchor="end" class="s">10²</text>
<text x="29.9" y="421.1" font-family='"Liberation Serif", serif' font-size="8.2" text-anchor="end" class="s">10¹</text>
<text x="33.8" y="440.6" font-family='"Liberation Serif", serif' font-size="8.2" text-anchor="end" class="s">1</text>
<line x1="202.9" y1="355.6" x2="202.9" y2="436" stroke="#1a1a1a" stroke-width="1.2"/>
<line x1="172.1" y1="406.3" x2="261" y2="406.3" stroke="#1a1a1a" stroke-width="1.2"/>
<line x1="172.1" y1="355.6" x2="261" y2="355.6" stroke="#1a1a1a" stroke-width="1.8"/>
<line x1="261" y1="354.90000000000003" x2="261" y2="436" stroke="#111" stroke-width="1.4"/>
<line x1="172.1" y1="354.70000000000005" x2="172.1" y2="436.8" stroke="#000" stroke-width="2.3"/>
<line x1="172.1" y1="436" x2="261.6" y2="436" stroke="#000" stroke-width="1.7"/>
<path d="M169.3 436.0h1.8M170.0 429.9h1.1M170.0 426.4h1.1M170.0 423.9h1.1M170.0 422.0h1.1M170.0 420.4h1.1M170.0 419.0h1.1M170.0 417.8h1.1M170.0 416.8h1.1M169.3 415.9h1.8M170.0 409.8h1.1M170.0 406.3h1.1M170.0 403.8h1.1M170.0 401.9h1.1M170.0 400.3h1.1M170.0 398.9h1.1M170.0 397.7h1.1M170.0 396.7h1.1M169.3 395.8h1.8M170.0 389.7h1.1M170.0 386.2h1.1M170.0 383.7h1.1M170.0 381.8h1.1M170.0 380.2h1.1M170.0 378.8h1.1M170.0 377.6h1.1M170.0 376.6h1.1M169.3 375.7h1.8M170.0 369.6h1.1M170.0 366.1h1.1M170.0 363.6h1.1M170.0 361.7h1.1M170.0 360.1h1.1M170.0 358.7h1.1M170.0 357.5h1.1M170.0 356.5h1.1" stroke="#000" stroke-width="0.9"/>
<path d="M172.1 436.8v1.8M178.8 436.8v1.1M182.7 436.8v1.1M185.5 436.8v1.1M187.6 436.8v1.1M189.4 436.8v1.1M190.9 436.8v1.1M192.2 436.8v1.1M193.3 436.8v1.1M194.3 436.8v1.8M201.0 436.8v1.1M204.9 436.8v1.1M207.7 436.8v1.1M209.9 436.8v1.1M211.6 436.8v1.1M213.1 436.8v1.1M214.4 436.8v1.1M215.5 436.8v1.1M216.6 436.8v1.8M223.2 436.8v1.1M227.2 436.8v1.1M229.9 436.8v1.1M232.1 436.8v1.1M233.8 436.8v1.1M235.3 436.8v1.1M236.6 436.8v1.1M237.8 436.8v1.1M238.8 436.8v1.8M245.5 436.8v1.1M249.4 436.8v1.1M252.2 436.8v1.1M254.3 436.8v1.1M256.1 436.8v1.1M257.6 436.8v1.1M258.8 436.8v1.1M260.0 436.8v1.1" stroke="#000" stroke-width="0.9"/>
<text transform="translate(151.8,393.1) rotate(-90)" class="s" font-family='"Liberation Serif", serif' font-size="9.6" text-anchor="middle" textLength="45" lengthAdjust="spacingAndGlyphs">CD44 FITC</text>
<text x="197.0" y="462.3" font-family='"Liberation Serif", serif' font-size="10" textLength="35.4" lengthAdjust="spacingAndGlyphs" class="s">CD25 PE</text>
<text x="173.9" y="364.1" font-family='"Liberation Serif", serif' font-size="9" textLength="15.3" lengthAdjust="spacingAndGlyphs" class="s">2.13</text>
<text x="245.4" y="364.2" font-family='"Liberation Serif", serif' font-size="9" textLength="14.7" lengthAdjust="spacingAndGlyphs" class="s">11.6</text>
<text x="173.6" y="435.1" font-family='"Liberation Serif", serif' font-size="9" textLength="15.3" lengthAdjust="spacingAndGlyphs" class="s">7.22</text>
<text x="244.29999999999998" y="432.7" font-family='"Liberation Serif", serif' font-size="9" textLength="15.3" lengthAdjust="spacingAndGlyphs" class="s">78.6</text>
<text x="173.1" y="447" font-family='"Liberation Serif", serif' font-size="8.2" class="s">1</text>
<text x="193.0" y="447" font-family='"Liberation Serif", serif' font-size="8.2" class="s">10¹</text>
<text x="214.1" y="447" font-family='"Liberation Serif", serif' font-size="8.2" class="s">10²</text>
<text x="235.3" y="447" font-family='"Liberation Serif", serif' font-size="8.2" class="s">10³</text>
<text x="256.4" y="447" font-family='"Liberation Serif", serif' font-size="8.2" class="s">10⁴</text>
<text x="167.9" y="362.1" font-family='"Liberation Serif", serif' font-size="8.2" text-anchor="end" class="s">10⁴</text>
<text x="167.9" y="381.8" font-family='"Liberation Serif", serif' font-size="8.2" text-anchor="end" class="s">10³</text>
<text x="167.9" y="401.5" font-family='"Liberation Serif", serif' font-size="8.2" text-anchor="end" class="s">10²</text>
<text x="167.9" y="421.2" font-family='"Liberation Serif", serif' font-size="8.2" text-anchor="end" class="s">10¹</text>
<text x="171.5" y="440.6" font-family='"Liberation Serif", serif' font-size="8.2" text-anchor="end" class="s">1</text>
<line x1="332" y1="355.6" x2="332" y2="436" stroke="#1a1a1a" stroke-width="1.2"/>
<line x1="300.6" y1="406.9" x2="390" y2="406.9" stroke="#1a1a1a" stroke-width="1.2"/>
<line x1="300.6" y1="355.6" x2="390" y2="355.6" stroke="#1a1a1a" stroke-width="1.8"/>
<line x1="390" y1="354.90000000000003" x2="390" y2="436" stroke="#111" stroke-width="1.4"/>
<line x1="300.6" y1="354.70000000000005" x2="300.6" y2="436.8" stroke="#000" stroke-width="2.3"/>
<line x1="300.6" y1="436" x2="390.6" y2="436" stroke="#000" stroke-width="1.7"/>
<path d="M297.8 436.0h1.8M298.5 429.9h1.1M298.5 426.4h1.1M298.5 423.9h1.1M298.5 422.0h1.1M298.5 420.4h1.1M298.5 419.0h1.1M298.5 417.8h1.1M298.5 416.8h1.1M297.8 415.9h1.8M298.5 409.8h1.1M298.5 406.3h1.1M298.5 403.8h1.1M298.5 401.9h1.1M298.5 400.3h1.1M298.5 398.9h1.1M298.5 397.7h1.1M298.5 396.7h1.1M297.8 395.8h1.8M298.5 389.7h1.1M298.5 386.2h1.1M298.5 383.7h1.1M298.5 381.8h1.1M298.5 380.2h1.1M298.5 378.8h1.1M298.5 377.6h1.1M298.5 376.6h1.1M297.8 375.7h1.8M298.5 369.6h1.1M298.5 366.1h1.1M298.5 363.6h1.1M298.5 361.7h1.1M298.5 360.1h1.1M298.5 358.7h1.1M298.5 357.5h1.1M298.5 356.5h1.1" stroke="#000" stroke-width="0.9"/>
<path d="M300.6 436.8v1.8M307.3 436.8v1.1M311.3 436.8v1.1M314.1 436.8v1.1M316.2 436.8v1.1M318.0 436.8v1.1M319.5 436.8v1.1M320.8 436.8v1.1M321.9 436.8v1.1M323.0 436.8v1.8M329.7 436.8v1.1M333.6 436.8v1.1M336.4 436.8v1.1M338.6 436.8v1.1M340.3 436.8v1.1M341.8 436.8v1.1M343.1 436.8v1.1M344.3 436.8v1.1M345.3 436.8v1.8M352.0 436.8v1.1M356.0 436.8v1.1M358.8 436.8v1.1M360.9 436.8v1.1M362.7 436.8v1.1M364.2 436.8v1.1M365.5 436.8v1.1M366.6 436.8v1.1M367.6 436.8v1.8M374.4 436.8v1.1M378.3 436.8v1.1M381.1 436.8v1.1M383.3 436.8v1.1M385.0 436.8v1.1M386.5 436.8v1.1M387.8 436.8v1.1M389.0 436.8v1.1" stroke="#000" stroke-width="0.9"/>
<text transform="translate(278,393.8) rotate(-90)" class="s" font-family='"Liberation Serif", serif' font-size="9.6" text-anchor="middle" textLength="43.6" lengthAdjust="spacingAndGlyphs">CD44 FITC</text>
<text x="324.09999999999997" y="462.2" font-family='"Liberation Serif", serif' font-size="10" textLength="34.9" lengthAdjust="spacingAndGlyphs" class="s">CD25 PE</text>
<text x="302.8" y="364.2" font-family='"Liberation Serif", serif' font-size="9" textLength="15.2" lengthAdjust="spacingAndGlyphs" class="s">8.86</text>
<text x="380.6" y="364.1" font-family='"Liberation Serif", serif' font-size="9" textLength="8.8" lengthAdjust="spacingAndGlyphs" class="s">29</text>
<text x="372.5" y="433.3" font-family='"Liberation Serif", serif' font-size="9" textLength="15.5" lengthAdjust="spacingAndGlyphs" class="s">36.3</text>
<text x="301.6" y="447" font-family='"Liberation Serif", serif' font-size="8.2" class="s">1</text>
<text x="321.6" y="447" font-family='"Liberation Serif", serif' font-size="8.2" class="s">10¹</text>
<text x="342.9" y="447" font-family='"Liberation Serif", serif' font-size="8.2" class="s">10²</text>
<text x="364.1" y="447" font-family='"Liberation Serif", serif' font-size="8.2" class="s">10³</text>
<text x="385.4" y="447" font-family='"Liberation Serif", serif' font-size="8.2" class="s">10⁴</text>
<text x="294.7" y="362.1" font-family='"Liberation Serif", serif' font-size="8.2" text-anchor="end" class="s">10⁴</text>
<text x="294.7" y="381.8" font-family='"Liberation Serif", serif' font-size="8.2" text-anchor="end" class="s">10³</text>
<text x="294.7" y="401.5" font-family='"Liberation Serif", serif' font-size="8.2" text-anchor="end" class="s">10²</text>
<text x="294.7" y="421.2" font-family='"Liberation Serif", serif' font-size="8.2" text-anchor="end" class="s">10¹</text>
<text x="300.0" y="440.6" font-family='"Liberation Serif", serif' font-size="8.2" text-anchor="end" class="s">1</text>
<line x1="459.5" y1="357" x2="459.5" y2="440.7" stroke="#1a1a1a" stroke-width="1.2"/>
<line x1="429.1" y1="409.9" x2="513.8" y2="409.9" stroke="#1a1a1a" stroke-width="1.2"/>
<line x1="429.1" y1="357" x2="513.8" y2="357" stroke="#1a1a1a" stroke-width="1.8"/>
<line x1="513.8" y1="356.3" x2="513.8" y2="440.7" stroke="#111" stroke-width="1.4"/>
<line x1="429.1" y1="356.1" x2="429.1" y2="441.5" stroke="#000" stroke-width="2.3"/>
<line x1="418" y1="440.7" x2="514.4" y2="440.7" stroke="#000" stroke-width="1.7"/>
<path d="M426.3 440.7h1.8M427.0 434.4h1.1M427.0 430.7h1.1M427.0 428.1h1.1M427.0 426.1h1.1M427.0 424.4h1.1M427.0 423.0h1.1M427.0 421.8h1.1M427.0 420.7h1.1M426.3 419.8h1.8M427.0 413.5h1.1M427.0 409.8h1.1M427.0 407.2h1.1M427.0 405.1h1.1M427.0 403.5h1.1M427.0 402.1h1.1M427.0 400.9h1.1M427.0 399.8h1.1M426.3 398.9h1.8M427.0 392.6h1.1M427.0 388.9h1.1M427.0 386.3h1.1M427.0 384.2h1.1M427.0 382.6h1.1M427.0 381.2h1.1M427.0 380.0h1.1M427.0 378.9h1.1M426.3 377.9h1.8M427.0 371.6h1.1M427.0 367.9h1.1M427.0 365.3h1.1M427.0 363.3h1.1M427.0 361.6h1.1M427.0 360.2h1.1M427.0 359.0h1.1M427.0 358.0h1.1" stroke="#000" stroke-width="0.9"/>
<path d="M418.0 441.5v1.8M424.0 441.5v1.1M427.5 441.5v1.1M430.0 441.5v1.1M432.0 441.5v1.1M433.6 441.5v1.1M434.9 441.5v1.1M436.1 441.5v1.1M437.1 441.5v1.1M438.0 441.5v1.8M444.0 441.5v1.1M447.5 441.5v1.1M450.0 441.5v1.1M452.0 441.5v1.1M453.6 441.5v1.1M454.9 441.5v1.1M456.1 441.5v1.1M457.1 441.5v1.1M458.0 441.5v1.8M464.0 441.5v1.1M467.5 441.5v1.1M470.0 441.5v1.1M472.0 441.5v1.1M473.6 441.5v1.1M474.9 441.5v1.1M476.1 441.5v1.1M477.1 441.5v1.1M478.0 441.5v1.8M484.0 441.5v1.1M487.5 441.5v1.1M490.0 441.5v1.1M492.0 441.5v1.1M493.6 441.5v1.1M494.9 441.5v1.1M496.1 441.5v1.1M497.1 441.5v1.1" stroke="#000" stroke-width="0.9"/>
<text transform="translate(406.6,392.7) rotate(-90)" class="s" font-family='"Liberation Serif", serif' font-size="9.6" text-anchor="middle" textLength="46.5" lengthAdjust="spacingAndGlyphs">CD44 FITC</text>
<text x="444.3" y="463" font-family='"Liberation Serif", serif' font-size="10" textLength="34.8" lengthAdjust="spacingAndGlyphs" class="s">CD25 PE</text>
<text x="433.3" y="368.8" font-family='"Liberation Serif", serif' font-size="9" textLength="15.1" lengthAdjust="spacingAndGlyphs" class="s">1.77</text>
<text x="498.6" y="370.1" font-family='"Liberation Serif", serif' font-size="9" textLength="15.1" lengthAdjust="spacingAndGlyphs" class="s">3.33</text>
<text x="432.8" y="439.8" font-family='"Liberation Serif", serif' font-size="9" textLength="15.6" lengthAdjust="spacingAndGlyphs" class="s">3.94</text>
<text x="498.6" y="438.5" font-family='"Liberation Serif", serif' font-size="9" textLength="15.1" lengthAdjust="spacingAndGlyphs" class="s">91.3</text>
<text x="419.5" y="451.9" font-family='"Liberation Serif", serif' font-size="8.2" class="s">1</text>
<text x="438.8" y="451.9" font-family='"Liberation Serif", serif' font-size="8.2" class="s">10¹</text>
<text x="458.8" y="451.9" font-family='"Liberation Serif", serif' font-size="8.2" class="s">10²</text>
<text x="478.8" y="451.9" font-family='"Liberation Serif", serif' font-size="8.2" class="s">10³</text>
<text x="498.8" y="451.9" font-family='"Liberation Serif", serif' font-size="8.2" class="s">10⁴</text>
<text x="422.1" y="363.5" font-family='"Liberation Serif", serif' font-size="8.2" text-anchor="end" class="s">10⁴</text>
<text x="422.1" y="384.0" font-family='"Liberation Serif", serif' font-size="8.2" text-anchor="end" class="s">10³</text>
<text x="422.1" y="404.5" font-family='"Liberation Serif", serif' font-size="8.2" text-anchor="end" class="s">10²</text>
<text x="422.1" y="425.0" font-family='"Liberation Serif", serif' font-size="8.2" text-anchor="end" class="s">10¹</text>
<text x="428.5" y="445.2" font-family='"Liberation Serif", serif' font-size="8.2" text-anchor="end" class="s">1</text></svg></body></html>
